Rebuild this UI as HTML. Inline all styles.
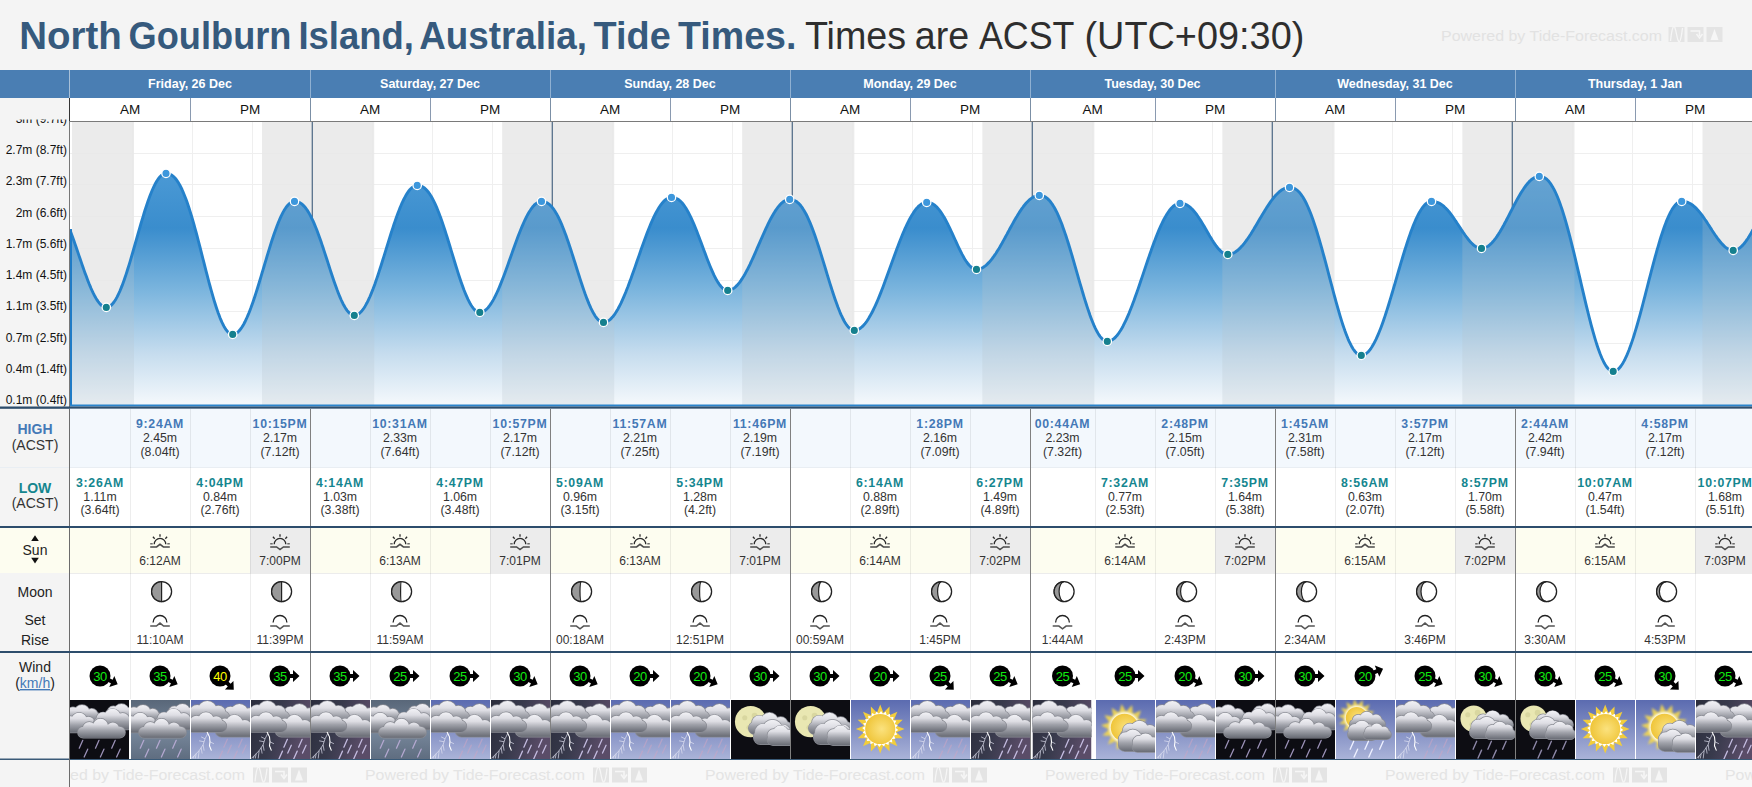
<!DOCTYPE html><html><head><meta charset="utf-8"><style>html,body{margin:0;padding:0;width:1752px;height:787px;overflow:hidden;background:#f4f4f4}svg{display:block;font-family:"Liberation Sans",sans-serif}</style></head><body><svg width="1752" height="787" viewBox="0 0 1752 787"><rect x="0" y="0" width="1752" height="787" fill="#f4f4f4" />
<text x="19.23" y="49" font-size="38" font-weight="bold" fill="#365a7d" textLength="102.56" lengthAdjust="spacingAndGlyphs">North</text>
<text x="128.62" y="49" font-size="38" font-weight="bold" fill="#365a7d" textLength="162.83" lengthAdjust="spacingAndGlyphs">Goulburn</text>
<text x="298.46" y="49" font-size="38" font-weight="bold" fill="#365a7d" textLength="115.48" lengthAdjust="spacingAndGlyphs">Island,</text>
<text x="419.18" y="49" font-size="38" font-weight="bold" fill="#365a7d" textLength="167.78" lengthAdjust="spacingAndGlyphs">Australia,</text>
<text x="593.58" y="49" font-size="38" font-weight="bold" fill="#365a7d" textLength="77.10" lengthAdjust="spacingAndGlyphs">Tide</text>
<text x="678.08" y="49" font-size="38" font-weight="bold" fill="#365a7d" textLength="118.29" lengthAdjust="spacingAndGlyphs">Times.</text>
<text x="804.97" y="49" font-size="38" fill="#2e2e2e" textLength="101.18" lengthAdjust="spacingAndGlyphs">Times</text>
<text x="914.81" y="49" font-size="38" fill="#2e2e2e" textLength="54.26" lengthAdjust="spacingAndGlyphs">are</text>
<text x="978.93" y="49" font-size="38" fill="#2e2e2e" textLength="95.49" lengthAdjust="spacingAndGlyphs">ACST</text>
<text x="1084.45" y="49" font-size="38" fill="#2e2e2e" textLength="219.90" lengthAdjust="spacingAndGlyphs">(UTC+09:30)</text>
<text x="1441" y="41" font-size="15.5" fill="#e2e2e2" textLength="221" lengthAdjust="spacingAndGlyphs">Powered by Tide-Forecast.com</text>
<rect x="0" y="70" width="1752" height="28" fill="#4a7eb3" />
<rect x="70" y="98" width="1682" height="23" fill="#ffffff" />
<text x="190.0" y="88" font-size="12.5" fill="#ffffff" font-weight="bold" text-anchor="middle" >Friday, 26 Dec</text>
<text x="130.0" y="114" font-size="13.5" fill="#111" font-weight="normal" text-anchor="middle" >AM</text>
<text x="250.0" y="114" font-size="13.5" fill="#111" font-weight="normal" text-anchor="middle" >PM</text>
<line x1="190.5" y1="98" x2="190.5" y2="121" stroke="#8a9ab0" stroke-width="1" />
<text x="430.0" y="88" font-size="12.5" fill="#ffffff" font-weight="bold" text-anchor="middle" >Saturday, 27 Dec</text>
<line x1="310.5" y1="70" x2="310.5" y2="98" stroke="#8fb0d2" stroke-width="1" />
<text x="370.0" y="114" font-size="13.5" fill="#111" font-weight="normal" text-anchor="middle" >AM</text>
<text x="490.0" y="114" font-size="13.5" fill="#111" font-weight="normal" text-anchor="middle" >PM</text>
<line x1="310.5" y1="98" x2="310.5" y2="121" stroke="#7b8fa5" stroke-width="1" />
<line x1="430.5" y1="98" x2="430.5" y2="121" stroke="#8a9ab0" stroke-width="1" />
<text x="670.0" y="88" font-size="12.5" fill="#ffffff" font-weight="bold" text-anchor="middle" >Sunday, 28 Dec</text>
<line x1="550.5" y1="70" x2="550.5" y2="98" stroke="#8fb0d2" stroke-width="1" />
<text x="610.0" y="114" font-size="13.5" fill="#111" font-weight="normal" text-anchor="middle" >AM</text>
<text x="730.0" y="114" font-size="13.5" fill="#111" font-weight="normal" text-anchor="middle" >PM</text>
<line x1="550.5" y1="98" x2="550.5" y2="121" stroke="#7b8fa5" stroke-width="1" />
<line x1="670.5" y1="98" x2="670.5" y2="121" stroke="#8a9ab0" stroke-width="1" />
<text x="910.0" y="88" font-size="12.5" fill="#ffffff" font-weight="bold" text-anchor="middle" >Monday, 29 Dec</text>
<line x1="790.5" y1="70" x2="790.5" y2="98" stroke="#8fb0d2" stroke-width="1" />
<text x="850.0" y="114" font-size="13.5" fill="#111" font-weight="normal" text-anchor="middle" >AM</text>
<text x="970.0" y="114" font-size="13.5" fill="#111" font-weight="normal" text-anchor="middle" >PM</text>
<line x1="790.5" y1="98" x2="790.5" y2="121" stroke="#7b8fa5" stroke-width="1" />
<line x1="910.5" y1="98" x2="910.5" y2="121" stroke="#8a9ab0" stroke-width="1" />
<text x="1152.5" y="88" font-size="12.5" fill="#ffffff" font-weight="bold" text-anchor="middle" >Tuesday, 30 Dec</text>
<line x1="1030.5" y1="70" x2="1030.5" y2="98" stroke="#8fb0d2" stroke-width="1" />
<text x="1092.5" y="114" font-size="13.5" fill="#111" font-weight="normal" text-anchor="middle" >AM</text>
<text x="1215.0" y="114" font-size="13.5" fill="#111" font-weight="normal" text-anchor="middle" >PM</text>
<line x1="1030.5" y1="98" x2="1030.5" y2="121" stroke="#7b8fa5" stroke-width="1" />
<line x1="1155.5" y1="98" x2="1155.5" y2="121" stroke="#8a9ab0" stroke-width="1" />
<text x="1395.0" y="88" font-size="12.5" fill="#ffffff" font-weight="bold" text-anchor="middle" >Wednesday, 31 Dec</text>
<line x1="1275.5" y1="70" x2="1275.5" y2="98" stroke="#8fb0d2" stroke-width="1" />
<text x="1335.0" y="114" font-size="13.5" fill="#111" font-weight="normal" text-anchor="middle" >AM</text>
<text x="1455.0" y="114" font-size="13.5" fill="#111" font-weight="normal" text-anchor="middle" >PM</text>
<line x1="1275.5" y1="98" x2="1275.5" y2="121" stroke="#7b8fa5" stroke-width="1" />
<line x1="1395.5" y1="98" x2="1395.5" y2="121" stroke="#8a9ab0" stroke-width="1" />
<text x="1635.0" y="88" font-size="12.5" fill="#ffffff" font-weight="bold" text-anchor="middle" >Thursday, 1 Jan</text>
<line x1="1515.5" y1="70" x2="1515.5" y2="98" stroke="#8fb0d2" stroke-width="1" />
<text x="1575.0" y="114" font-size="13.5" fill="#111" font-weight="normal" text-anchor="middle" >AM</text>
<text x="1695.0" y="114" font-size="13.5" fill="#111" font-weight="normal" text-anchor="middle" >PM</text>
<line x1="1515.5" y1="98" x2="1515.5" y2="121" stroke="#7b8fa5" stroke-width="1" />
<line x1="1635.5" y1="98" x2="1635.5" y2="121" stroke="#8a9ab0" stroke-width="1" />
<line x1="69.5" y1="70" x2="69.5" y2="121" stroke="#a8c0d8" stroke-width="1" />
<line x1="69.5" y1="98" x2="69.5" y2="121" stroke="#333" stroke-width="1" />
<line x1="70" y1="121.5" x2="1752" y2="121.5" stroke="#7a7a7a" stroke-width="1" />
<rect x="70" y="122" width="1682" height="283" fill="#ffffff" />
<line x1="70" y1="153.5" x2="1752" y2="153.5" stroke="#efefef" stroke-width="1" />
<line x1="70" y1="184.5" x2="1752" y2="184.5" stroke="#efefef" stroke-width="1" />
<line x1="70" y1="216.5" x2="1752" y2="216.5" stroke="#efefef" stroke-width="1" />
<line x1="70" y1="248.5" x2="1752" y2="248.5" stroke="#efefef" stroke-width="1" />
<line x1="70" y1="280.5" x2="1752" y2="280.5" stroke="#efefef" stroke-width="1" />
<line x1="70" y1="311.5" x2="1752" y2="311.5" stroke="#efefef" stroke-width="1" />
<line x1="70" y1="343.5" x2="1752" y2="343.5" stroke="#efefef" stroke-width="1" />
<line x1="70" y1="375.5" x2="1752" y2="375.5" stroke="#efefef" stroke-width="1" />
<line x1="132.5" y1="122" x2="132.5" y2="405" stroke="#efefef" stroke-width="1" />
<line x1="192.5" y1="122" x2="192.5" y2="405" stroke="#efefef" stroke-width="1" />
<line x1="252.5" y1="122" x2="252.5" y2="405" stroke="#efefef" stroke-width="1" />
<line x1="372.5" y1="122" x2="372.5" y2="405" stroke="#efefef" stroke-width="1" />
<line x1="432.5" y1="122" x2="432.5" y2="405" stroke="#efefef" stroke-width="1" />
<line x1="492.5" y1="122" x2="492.5" y2="405" stroke="#efefef" stroke-width="1" />
<line x1="612.5" y1="122" x2="612.5" y2="405" stroke="#efefef" stroke-width="1" />
<line x1="672.5" y1="122" x2="672.5" y2="405" stroke="#efefef" stroke-width="1" />
<line x1="732.5" y1="122" x2="732.5" y2="405" stroke="#efefef" stroke-width="1" />
<line x1="852.5" y1="122" x2="852.5" y2="405" stroke="#efefef" stroke-width="1" />
<line x1="912.5" y1="122" x2="912.5" y2="405" stroke="#efefef" stroke-width="1" />
<line x1="972.5" y1="122" x2="972.5" y2="405" stroke="#efefef" stroke-width="1" />
<line x1="1092.5" y1="122" x2="1092.5" y2="405" stroke="#efefef" stroke-width="1" />
<line x1="1152.5" y1="122" x2="1152.5" y2="405" stroke="#efefef" stroke-width="1" />
<line x1="1212.5" y1="122" x2="1212.5" y2="405" stroke="#efefef" stroke-width="1" />
<line x1="1332.5" y1="122" x2="1332.5" y2="405" stroke="#efefef" stroke-width="1" />
<line x1="1392.5" y1="122" x2="1392.5" y2="405" stroke="#efefef" stroke-width="1" />
<line x1="1452.5" y1="122" x2="1452.5" y2="405" stroke="#efefef" stroke-width="1" />
<line x1="1572.5" y1="122" x2="1572.5" y2="405" stroke="#efefef" stroke-width="1" />
<line x1="1632.5" y1="122" x2="1632.5" y2="405" stroke="#efefef" stroke-width="1" />
<line x1="1692.5" y1="122" x2="1692.5" y2="405" stroke="#efefef" stroke-width="1" />
<rect x="72.00" y="122" width="62.00" height="283" fill="#e8e8e8" fill-opacity="0.85"/>
<rect x="262.00" y="122" width="50.00" height="283" fill="#e8e8e8" fill-opacity="0.85"/>
<rect x="312.00" y="122" width="62.17" height="283" fill="#e8e8e8" fill-opacity="0.85"/>
<rect x="502.17" y="122" width="49.83" height="283" fill="#e8e8e8" fill-opacity="0.85"/>
<rect x="552.00" y="122" width="62.17" height="283" fill="#e8e8e8" fill-opacity="0.85"/>
<rect x="742.17" y="122" width="49.83" height="283" fill="#e8e8e8" fill-opacity="0.85"/>
<rect x="792.00" y="122" width="62.33" height="283" fill="#e8e8e8" fill-opacity="0.85"/>
<rect x="982.33" y="122" width="49.67" height="283" fill="#e8e8e8" fill-opacity="0.85"/>
<rect x="1032.00" y="122" width="62.33" height="283" fill="#e8e8e8" fill-opacity="0.85"/>
<rect x="1222.33" y="122" width="49.67" height="283" fill="#e8e8e8" fill-opacity="0.85"/>
<rect x="1272.00" y="122" width="62.50" height="283" fill="#e8e8e8" fill-opacity="0.85"/>
<rect x="1462.33" y="122" width="49.67" height="283" fill="#e8e8e8" fill-opacity="0.85"/>
<rect x="1512.00" y="122" width="62.50" height="283" fill="#e8e8e8" fill-opacity="0.85"/>
<rect x="1702.50" y="122" width="49.50" height="283" fill="#e8e8e8" fill-opacity="0.85"/>
<line x1="312.3" y1="122" x2="312.3" y2="405" stroke="#58718c" stroke-width="1.3" />
<line x1="552.3" y1="122" x2="552.3" y2="405" stroke="#58718c" stroke-width="1.3" />
<line x1="792.3" y1="122" x2="792.3" y2="405" stroke="#58718c" stroke-width="1.3" />
<line x1="1032.3" y1="122" x2="1032.3" y2="405" stroke="#58718c" stroke-width="1.3" />
<line x1="1272.3" y1="122" x2="1272.3" y2="405" stroke="#58718c" stroke-width="1.3" />
<line x1="1512.3" y1="122" x2="1512.3" y2="405" stroke="#58718c" stroke-width="1.3" />
<clipPath id="lc"><rect x="0" y="119.6" width="69" height="287"/></clipPath>
<g clip-path="url(#lc)">
<text x="67" y="122.8" font-size="12" fill="#111" font-weight="normal" text-anchor="end" >3m (9.7ft)</text>
<text x="67" y="154.1" font-size="12" fill="#111" font-weight="normal" text-anchor="end" >2.7m (8.7ft)</text>
<text x="67" y="185.3" font-size="12" fill="#111" font-weight="normal" text-anchor="end" >2.3m (7.7ft)</text>
<text x="67" y="216.6" font-size="12" fill="#111" font-weight="normal" text-anchor="end" >2m (6.6ft)</text>
<text x="67" y="247.8" font-size="12" fill="#111" font-weight="normal" text-anchor="end" >1.7m (5.6ft)</text>
<text x="67" y="279.1" font-size="12" fill="#111" font-weight="normal" text-anchor="end" >1.4m (4.5ft)</text>
<text x="67" y="310.3" font-size="12" fill="#111" font-weight="normal" text-anchor="end" >1.1m (3.5ft)</text>
<text x="67" y="341.6" font-size="12" fill="#111" font-weight="normal" text-anchor="end" >0.7m (2.5ft)</text>
<text x="67" y="372.8" font-size="12" fill="#111" font-weight="normal" text-anchor="end" >0.4m (1.4ft)</text>
<text x="67" y="404.1" font-size="12" fill="#111" font-weight="normal" text-anchor="end" >0.1m (0.4ft)</text>
</g>
<defs><linearGradient id="tg" gradientUnits="userSpaceOnUse" x1="0" y1="122" x2="0" y2="405"><stop offset="0.15" stop-color="#4d9bd6"/><stop offset="0.375" stop-color="#3a8dcd"/><stop offset="0.60" stop-color="#7db6de"/><stop offset="0.816" stop-color="#c5dcee"/><stop offset="0.99" stop-color="#f2f7fb"/></linearGradient><clipPath id="cc"><rect x="70" y="122" width="1682" height="285"/></clipPath></defs>
<g clip-path="url(#cc)">
<path d="M70.0,230.1 L71.0,232.7 L72.0,235.4 L73.0,238.2 L74.0,241.0 L75.0,243.9 L76.0,246.8 L77.0,249.7 L78.0,252.6 L79.0,255.6 L80.0,258.5 L81.0,261.4 L82.0,264.4 L83.0,267.2 L84.0,270.1 L85.0,272.9 L86.0,275.6 L87.0,278.3 L88.0,280.9 L89.0,283.5 L90.0,285.9 L91.0,288.3 L92.0,290.5 L93.0,292.7 L94.0,294.7 L95.0,296.6 L96.0,298.3 L97.0,299.9 L98.0,301.4 L99.0,302.7 L100.0,303.9 L101.0,304.9 L102.0,305.8 L103.0,306.4 L104.0,306.9 L105.0,307.2 L106.0,307.4 L107.0,307.4 L108.0,307.1 L109.0,306.7 L110.0,306.2 L111.0,305.4 L112.0,304.4 L113.0,303.3 L114.0,302.0 L115.0,300.5 L116.0,298.9 L117.0,297.1 L118.0,295.1 L119.0,293.0 L120.0,290.8 L121.0,288.4 L122.0,285.9 L123.0,283.2 L124.0,280.4 L125.0,277.6 L126.0,274.6 L127.0,271.5 L128.0,268.3 L129.0,265.1 L130.0,261.8 L131.0,258.4 L132.0,255.0 L133.0,251.5 L134.0,248.0 L135.0,244.5 L136.0,241.0 L137.0,237.5 L138.0,233.9 L139.0,230.4 L140.0,227.0 L141.0,223.5 L142.0,220.1 L143.0,216.8 L144.0,213.5 L145.0,210.3 L146.0,207.2 L147.0,204.2 L148.0,201.3 L149.0,198.5 L150.0,195.8 L151.0,193.2 L152.0,190.8 L153.0,188.5 L154.0,186.3 L155.0,184.3 L156.0,182.5 L157.0,180.8 L158.0,179.3 L159.0,177.9 L160.0,176.7 L161.0,175.7 L162.0,174.9 L163.0,174.2 L164.0,173.8 L165.0,173.5 L166.0,173.4 L167.0,173.4 L168.0,173.6 L169.0,173.8 L170.0,174.2 L171.0,174.7 L172.0,175.3 L173.0,176.1 L174.0,177.0 L175.0,178.0 L176.0,179.2 L177.0,180.6 L178.0,182.1 L179.0,183.7 L180.0,185.5 L181.0,187.5 L182.0,189.5 L183.0,191.8 L184.0,194.2 L185.0,196.7 L186.0,199.3 L187.0,202.1 L188.0,205.0 L189.0,208.0 L190.0,211.1 L191.0,214.4 L192.0,217.7 L193.0,221.2 L194.0,224.7 L195.0,228.3 L196.0,232.0 L197.0,235.7 L198.0,239.5 L199.0,243.3 L200.0,247.2 L201.0,251.1 L202.0,255.1 L203.0,259.0 L204.0,262.9 L205.0,266.9 L206.0,270.8 L207.0,274.6 L208.0,278.5 L209.0,282.3 L210.0,286.0 L211.0,289.6 L212.0,293.2 L213.0,296.7 L214.0,300.1 L215.0,303.3 L216.0,306.5 L217.0,309.5 L218.0,312.4 L219.0,315.1 L220.0,317.7 L221.0,320.1 L222.0,322.4 L223.0,324.5 L224.0,326.4 L225.0,328.1 L226.0,329.6 L227.0,330.9 L228.0,332.0 L229.0,332.9 L230.0,333.6 L231.0,334.1 L232.0,334.4 L233.0,334.4 L234.0,334.2 L235.0,333.9 L236.0,333.5 L237.0,332.8 L238.0,332.0 L239.0,331.0 L240.0,329.8 L241.0,328.5 L242.0,327.1 L243.0,325.4 L244.0,323.7 L245.0,321.8 L246.0,319.7 L247.0,317.5 L248.0,315.2 L249.0,312.8 L250.0,310.2 L251.0,307.6 L252.0,304.8 L253.0,302.0 L254.0,299.0 L255.0,296.0 L256.0,292.9 L257.0,289.7 L258.0,286.5 L259.0,283.3 L260.0,279.9 L261.0,276.6 L262.0,273.2 L263.0,269.9 L264.0,266.5 L265.0,263.1 L266.0,259.8 L267.0,256.4 L268.0,253.1 L269.0,249.8 L270.0,246.6 L271.0,243.4 L272.0,240.3 L273.0,237.3 L274.0,234.3 L275.0,231.5 L276.0,228.7 L277.0,226.0 L278.0,223.4 L279.0,221.0 L280.0,218.6 L281.0,216.4 L282.0,214.4 L283.0,212.4 L284.0,210.6 L285.0,209.0 L286.0,207.5 L287.0,206.2 L288.0,205.0 L289.0,204.0 L290.0,203.1 L291.0,202.4 L292.0,201.9 L293.0,201.6 L294.0,201.4 L295.0,201.4 L296.0,201.5 L297.0,201.6 L298.0,201.9 L299.0,202.3 L300.0,202.8 L301.0,203.4 L302.0,204.2 L303.0,205.1 L304.0,206.1 L305.0,207.2 L306.0,208.5 L307.0,209.9 L308.0,211.4 L309.0,213.1 L310.0,214.9 L311.0,216.8 L312.0,218.8 L313.0,220.9 L314.0,223.2 L315.0,225.6 L316.0,228.0 L317.0,230.6 L318.0,233.2 L319.0,236.0 L320.0,238.8 L321.0,241.6 L322.0,244.6 L323.0,247.5 L324.0,250.6 L325.0,253.6 L326.0,256.7 L327.0,259.8 L328.0,262.9 L329.0,266.0 L330.0,269.1 L331.0,272.2 L332.0,275.2 L333.0,278.2 L334.0,281.2 L335.0,284.0 L336.0,286.8 L337.0,289.6 L338.0,292.2 L339.0,294.7 L340.0,297.1 L341.0,299.5 L342.0,301.6 L343.0,303.7 L344.0,305.6 L345.0,307.3 L346.0,308.9 L347.0,310.3 L348.0,311.6 L349.0,312.7 L350.0,313.6 L351.0,314.3 L352.0,314.9 L353.0,315.2 L354.0,315.4 L355.0,315.4 L356.0,315.2 L357.0,314.8 L358.0,314.3 L359.0,313.6 L360.0,312.8 L361.0,311.8 L362.0,310.7 L363.0,309.4 L364.0,308.0 L365.0,306.4 L366.0,304.6 L367.0,302.8 L368.0,300.8 L369.0,298.7 L370.0,296.5 L371.0,294.1 L372.0,291.6 L373.0,289.1 L374.0,286.4 L375.0,283.7 L376.0,280.8 L377.0,277.9 L378.0,275.0 L379.0,271.9 L380.0,268.8 L381.0,265.7 L382.0,262.5 L383.0,259.3 L384.0,256.1 L385.0,252.8 L386.0,249.6 L387.0,246.3 L388.0,243.1 L389.0,239.9 L390.0,236.7 L391.0,233.5 L392.0,230.4 L393.0,227.4 L394.0,224.3 L395.0,221.4 L396.0,218.5 L397.0,215.7 L398.0,213.0 L399.0,210.4 L400.0,207.9 L401.0,205.5 L402.0,203.2 L403.0,201.0 L404.0,199.0 L405.0,197.1 L406.0,195.3 L407.0,193.6 L408.0,192.1 L409.0,190.7 L410.0,189.5 L411.0,188.5 L412.0,187.6 L413.0,186.8 L414.0,186.2 L415.0,185.8 L416.0,185.5 L417.0,185.4 L418.0,185.4 L419.0,185.5 L420.0,185.7 L421.0,186.0 L422.0,186.5 L423.0,187.0 L424.0,187.7 L425.0,188.5 L426.0,189.4 L427.0,190.5 L428.0,191.7 L429.0,193.0 L430.0,194.4 L431.0,196.0 L432.0,197.8 L433.0,199.6 L434.0,201.6 L435.0,203.7 L436.0,205.9 L437.0,208.2 L438.0,210.7 L439.0,213.2 L440.0,215.9 L441.0,218.6 L442.0,221.5 L443.0,224.4 L444.0,227.4 L445.0,230.5 L446.0,233.6 L447.0,236.8 L448.0,240.0 L449.0,243.2 L450.0,246.5 L451.0,249.8 L452.0,253.1 L453.0,256.4 L454.0,259.7 L455.0,263.0 L456.0,266.2 L457.0,269.4 L458.0,272.6 L459.0,275.7 L460.0,278.7 L461.0,281.7 L462.0,284.5 L463.0,287.3 L464.0,290.0 L465.0,292.5 L466.0,294.9 L467.0,297.2 L468.0,299.4 L469.0,301.4 L470.0,303.3 L471.0,305.0 L472.0,306.5 L473.0,307.9 L474.0,309.1 L475.0,310.1 L476.0,311.0 L477.0,311.6 L478.0,312.1 L479.0,312.3 L480.0,312.4 L481.0,312.3 L482.0,312.1 L483.0,311.7 L484.0,311.2 L485.0,310.5 L486.0,309.7 L487.0,308.7 L488.0,307.7 L489.0,306.5 L490.0,305.1 L491.0,303.7 L492.0,302.1 L493.0,300.4 L494.0,298.6 L495.0,296.6 L496.0,294.6 L497.0,292.5 L498.0,290.3 L499.0,288.0 L500.0,285.6 L501.0,283.1 L502.0,280.6 L503.0,278.0 L504.0,275.4 L505.0,272.7 L506.0,270.0 L507.0,267.2 L508.0,264.4 L509.0,261.6 L510.0,258.8 L511.0,256.0 L512.0,253.1 L513.0,250.3 L514.0,247.5 L515.0,244.7 L516.0,242.0 L517.0,239.3 L518.0,236.6 L519.0,234.0 L520.0,231.5 L521.0,229.0 L522.0,226.6 L523.0,224.3 L524.0,222.0 L525.0,219.9 L526.0,217.8 L527.0,215.9 L528.0,214.0 L529.0,212.3 L530.0,210.7 L531.0,209.2 L532.0,207.8 L533.0,206.5 L534.0,205.4 L535.0,204.4 L536.0,203.6 L537.0,202.9 L538.0,202.3 L539.0,201.8 L540.0,201.6 L541.0,201.4 L542.0,201.4 L543.0,201.5 L544.0,201.6 L545.0,201.9 L546.0,202.3 L547.0,202.8 L548.0,203.4 L549.0,204.1 L550.0,205.0 L551.0,206.0 L552.0,207.1 L553.0,208.4 L554.0,209.7 L555.0,211.2 L556.0,212.9 L557.0,214.6 L558.0,216.5 L559.0,218.5 L560.0,220.7 L561.0,222.9 L562.0,225.2 L563.0,227.7 L564.0,230.2 L565.0,232.9 L566.0,235.6 L567.0,238.4 L568.0,241.3 L569.0,244.2 L570.0,247.2 L571.0,250.3 L572.0,253.4 L573.0,256.5 L574.0,259.7 L575.0,262.8 L576.0,266.0 L577.0,269.2 L578.0,272.4 L579.0,275.5 L580.0,278.6 L581.0,281.7 L582.0,284.8 L583.0,287.7 L584.0,290.6 L585.0,293.5 L586.0,296.2 L587.0,298.9 L588.0,301.4 L589.0,303.9 L590.0,306.2 L591.0,308.4 L592.0,310.4 L593.0,312.3 L594.0,314.1 L595.0,315.7 L596.0,317.2 L597.0,318.4 L598.0,319.6 L599.0,320.5 L600.0,321.2 L601.0,321.8 L602.0,322.2 L603.0,322.4 L604.0,322.4 L605.0,322.2 L606.0,322.0 L607.0,321.6 L608.0,321.1 L609.0,320.4 L610.0,319.6 L611.0,318.7 L612.0,317.6 L613.0,316.5 L614.0,315.2 L615.0,313.8 L616.0,312.3 L617.0,310.6 L618.0,308.9 L619.0,307.0 L620.0,305.1 L621.0,303.1 L622.0,300.9 L623.0,298.7 L624.0,296.4 L625.0,294.0 L626.0,291.6 L627.0,289.0 L628.0,286.5 L629.0,283.8 L630.0,281.1 L631.0,278.4 L632.0,275.6 L633.0,272.8 L634.0,270.0 L635.0,267.1 L636.0,264.2 L637.0,261.3 L638.0,258.5 L639.0,255.6 L640.0,252.7 L641.0,249.8 L642.0,247.0 L643.0,244.2 L644.0,241.4 L645.0,238.7 L646.0,236.0 L647.0,233.3 L648.0,230.8 L649.0,228.2 L650.0,225.8 L651.0,223.4 L652.0,221.1 L653.0,218.9 L654.0,216.7 L655.0,214.7 L656.0,212.8 L657.0,210.9 L658.0,209.2 L659.0,207.5 L660.0,206.0 L661.0,204.6 L662.0,203.3 L663.0,202.2 L664.0,201.1 L665.0,200.2 L666.0,199.4 L667.0,198.7 L668.0,198.2 L669.0,197.8 L670.0,197.6 L671.0,197.4 L672.0,197.4 L673.0,197.5 L674.0,197.6 L675.0,197.9 L676.0,198.2 L677.0,198.7 L678.0,199.3 L679.0,200.0 L680.0,200.8 L681.0,201.8 L682.0,202.8 L683.0,204.0 L684.0,205.3 L685.0,206.8 L686.0,208.3 L687.0,210.0 L688.0,211.7 L689.0,213.6 L690.0,215.6 L691.0,217.6 L692.0,219.8 L693.0,222.1 L694.0,224.4 L695.0,226.8 L696.0,229.3 L697.0,231.8 L698.0,234.4 L699.0,237.0 L700.0,239.7 L701.0,242.3 L702.0,245.0 L703.0,247.7 L704.0,250.4 L705.0,253.1 L706.0,255.8 L707.0,258.4 L708.0,261.0 L709.0,263.5 L710.0,266.0 L711.0,268.4 L712.0,270.7 L713.0,272.9 L714.0,275.1 L715.0,277.1 L716.0,279.0 L717.0,280.8 L718.0,282.4 L719.0,283.9 L720.0,285.3 L721.0,286.5 L722.0,287.6 L723.0,288.5 L724.0,289.2 L725.0,289.8 L726.0,290.2 L727.0,290.4 L728.0,290.4 L729.0,290.3 L730.0,290.1 L731.0,289.8 L732.0,289.3 L733.0,288.8 L734.0,288.1 L735.0,287.3 L736.0,286.4 L737.0,285.4 L738.0,284.3 L739.0,283.1 L740.0,281.8 L741.0,280.4 L742.0,278.9 L743.0,277.3 L744.0,275.7 L745.0,274.0 L746.0,272.1 L747.0,270.3 L748.0,268.3 L749.0,266.3 L750.0,264.3 L751.0,262.1 L752.0,260.0 L753.0,257.8 L754.0,255.6 L755.0,253.3 L756.0,251.0 L757.0,248.7 L758.0,246.4 L759.0,244.1 L760.0,241.8 L761.0,239.5 L762.0,237.3 L763.0,235.0 L764.0,232.8 L765.0,230.6 L766.0,228.4 L767.0,226.3 L768.0,224.2 L769.0,222.2 L770.0,220.2 L771.0,218.3 L772.0,216.5 L773.0,214.7 L774.0,213.0 L775.0,211.4 L776.0,209.9 L777.0,208.5 L778.0,207.1 L779.0,205.9 L780.0,204.8 L781.0,203.7 L782.0,202.8 L783.0,202.0 L784.0,201.3 L785.0,200.7 L786.0,200.2 L787.0,199.8 L788.0,199.6 L789.0,199.4 L790.0,199.4 L791.0,199.5 L792.0,199.6 L793.0,199.8 L794.0,200.2 L795.0,200.7 L796.0,201.2 L797.0,202.0 L798.0,202.8 L799.0,203.7 L800.0,204.8 L801.0,206.0 L802.0,207.4 L803.0,208.9 L804.0,210.5 L805.0,212.2 L806.0,214.0 L807.0,216.0 L808.0,218.1 L809.0,220.3 L810.0,222.6 L811.0,225.1 L812.0,227.6 L813.0,230.2 L814.0,233.0 L815.0,235.8 L816.0,238.7 L817.0,241.6 L818.0,244.7 L819.0,247.8 L820.0,250.9 L821.0,254.1 L822.0,257.4 L823.0,260.6 L824.0,263.9 L825.0,267.2 L826.0,270.5 L827.0,273.8 L828.0,277.1 L829.0,280.4 L830.0,283.6 L831.0,286.8 L832.0,289.9 L833.0,293.0 L834.0,296.0 L835.0,299.0 L836.0,301.8 L837.0,304.6 L838.0,307.3 L839.0,309.8 L840.0,312.3 L841.0,314.6 L842.0,316.7 L843.0,318.8 L844.0,320.7 L845.0,322.4 L846.0,324.0 L847.0,325.4 L848.0,326.7 L849.0,327.7 L850.0,328.6 L851.0,329.4 L852.0,329.9 L853.0,330.2 L854.0,330.4 L855.0,330.4 L856.0,330.2 L857.0,330.0 L858.0,329.6 L859.0,329.1 L860.0,328.5 L861.0,327.7 L862.0,326.9 L863.0,325.9 L864.0,324.8 L865.0,323.7 L866.0,322.4 L867.0,321.0 L868.0,319.4 L869.0,317.8 L870.0,316.1 L871.0,314.3 L872.0,312.5 L873.0,310.5 L874.0,308.4 L875.0,306.3 L876.0,304.1 L877.0,301.8 L878.0,299.5 L879.0,297.1 L880.0,294.6 L881.0,292.1 L882.0,289.5 L883.0,286.9 L884.0,284.2 L885.0,281.5 L886.0,278.8 L887.0,276.1 L888.0,273.3 L889.0,270.6 L890.0,267.8 L891.0,265.0 L892.0,262.2 L893.0,259.5 L894.0,256.7 L895.0,254.0 L896.0,251.3 L897.0,248.6 L898.0,245.9 L899.0,243.3 L900.0,240.7 L901.0,238.2 L902.0,235.7 L903.0,233.3 L904.0,231.0 L905.0,228.7 L906.0,226.5 L907.0,224.4 L908.0,222.3 L909.0,220.3 L910.0,218.5 L911.0,216.7 L912.0,215.0 L913.0,213.4 L914.0,211.8 L915.0,210.4 L916.0,209.1 L917.0,208.0 L918.0,206.9 L919.0,205.9 L920.0,205.1 L921.0,204.3 L922.0,203.7 L923.0,203.2 L924.0,202.8 L925.0,202.6 L926.0,202.4 L927.0,202.4 L928.0,202.5 L929.0,202.6 L930.0,202.8 L931.0,203.1 L932.0,203.6 L933.0,204.1 L934.0,204.7 L935.0,205.5 L936.0,206.3 L937.0,207.3 L938.0,208.4 L939.0,209.6 L940.0,210.9 L941.0,212.3 L942.0,213.8 L943.0,215.4 L944.0,217.0 L945.0,218.8 L946.0,220.6 L947.0,222.6 L948.0,224.5 L949.0,226.6 L950.0,228.7 L951.0,230.8 L952.0,232.9 L953.0,235.1 L954.0,237.3 L955.0,239.5 L956.0,241.7 L957.0,243.9 L958.0,246.0 L959.0,248.1 L960.0,250.2 L961.0,252.2 L962.0,254.1 L963.0,255.9 L964.0,257.7 L965.0,259.4 L966.0,261.0 L967.0,262.4 L968.0,263.8 L969.0,265.0 L970.0,266.0 L971.0,267.0 L972.0,267.8 L973.0,268.4 L974.0,268.9 L975.0,269.2 L976.0,269.4 L977.0,269.4 L978.0,269.3 L979.0,269.1 L980.0,268.8 L981.0,268.5 L982.0,268.0 L983.0,267.5 L984.0,266.8 L985.0,266.1 L986.0,265.3 L987.0,264.4 L988.0,263.4 L989.0,262.4 L990.0,261.3 L991.0,260.1 L992.0,258.8 L993.0,257.5 L994.0,256.1 L995.0,254.7 L996.0,253.2 L997.0,251.6 L998.0,250.0 L999.0,248.4 L1000.0,246.7 L1001.0,244.9 L1002.0,243.2 L1003.0,241.4 L1004.0,239.6 L1005.0,237.8 L1006.0,235.9 L1007.0,234.1 L1008.0,232.2 L1009.0,230.4 L1010.0,228.5 L1011.0,226.7 L1012.0,224.9 L1013.0,223.1 L1014.0,221.3 L1015.0,219.6 L1016.0,217.8 L1017.0,216.2 L1018.0,214.5 L1019.0,212.9 L1020.0,211.4 L1021.0,209.9 L1022.0,208.4 L1023.0,207.1 L1024.0,205.7 L1025.0,204.5 L1026.0,203.3 L1027.0,202.2 L1028.0,201.2 L1029.0,200.2 L1030.0,199.4 L1031.0,198.6 L1032.0,197.9 L1033.0,197.2 L1034.0,196.7 L1035.0,196.3 L1036.0,195.9 L1037.0,195.7 L1038.0,195.5 L1039.0,195.4 L1040.0,195.4 L1041.0,195.5 L1042.0,195.7 L1043.0,196.0 L1044.0,196.3 L1045.0,196.8 L1046.0,197.5 L1047.0,198.2 L1048.0,199.1 L1049.0,200.1 L1050.0,201.2 L1051.0,202.5 L1052.0,203.9 L1053.0,205.4 L1054.0,207.0 L1055.0,208.8 L1056.0,210.7 L1057.0,212.7 L1058.0,214.9 L1059.0,217.2 L1060.0,219.6 L1061.0,222.0 L1062.0,224.6 L1063.0,227.4 L1064.0,230.2 L1065.0,233.1 L1066.0,236.0 L1067.0,239.1 L1068.0,242.3 L1069.0,245.5 L1070.0,248.7 L1071.0,252.1 L1072.0,255.4 L1073.0,258.9 L1074.0,262.3 L1075.0,265.8 L1076.0,269.3 L1077.0,272.8 L1078.0,276.3 L1079.0,279.8 L1080.0,283.3 L1081.0,286.7 L1082.0,290.1 L1083.0,293.5 L1084.0,296.8 L1085.0,300.1 L1086.0,303.3 L1087.0,306.4 L1088.0,309.4 L1089.0,312.3 L1090.0,315.2 L1091.0,317.9 L1092.0,320.5 L1093.0,323.0 L1094.0,325.4 L1095.0,327.6 L1096.0,329.6 L1097.0,331.6 L1098.0,333.3 L1099.0,334.9 L1100.0,336.4 L1101.0,337.6 L1102.0,338.7 L1103.0,339.6 L1104.0,340.3 L1105.0,340.9 L1106.0,341.2 L1107.0,341.4 L1108.0,341.4 L1109.0,341.2 L1110.0,340.9 L1111.0,340.5 L1112.0,340.0 L1113.0,339.3 L1114.0,338.6 L1115.0,337.6 L1116.0,336.6 L1117.0,335.5 L1118.0,334.2 L1119.0,332.8 L1120.0,331.3 L1121.0,329.7 L1122.0,328.0 L1123.0,326.2 L1124.0,324.2 L1125.0,322.2 L1126.0,320.1 L1127.0,317.9 L1128.0,315.6 L1129.0,313.3 L1130.0,310.8 L1131.0,308.3 L1132.0,305.7 L1133.0,303.1 L1134.0,300.4 L1135.0,297.6 L1136.0,294.8 L1137.0,292.0 L1138.0,289.1 L1139.0,286.2 L1140.0,283.3 L1141.0,280.3 L1142.0,277.4 L1143.0,274.4 L1144.0,271.4 L1145.0,268.4 L1146.0,265.4 L1147.0,262.5 L1148.0,259.5 L1149.0,256.6 L1150.0,253.7 L1151.0,250.9 L1152.0,248.1 L1153.0,245.3 L1154.0,242.6 L1155.0,239.9 L1156.0,237.3 L1157.0,234.8 L1158.0,232.3 L1159.0,229.9 L1160.0,227.6 L1161.0,225.4 L1162.0,223.3 L1163.0,221.2 L1164.0,219.3 L1165.0,217.4 L1166.0,215.7 L1167.0,214.0 L1168.0,212.5 L1169.0,211.1 L1170.0,209.7 L1171.0,208.6 L1172.0,207.5 L1173.0,206.5 L1174.0,205.7 L1175.0,205.0 L1176.0,204.4 L1177.0,204.0 L1178.0,203.7 L1179.0,203.5 L1180.0,203.4 L1181.0,203.4 L1182.0,203.5 L1183.0,203.7 L1184.0,203.9 L1185.0,204.2 L1186.0,204.6 L1187.0,205.1 L1188.0,205.7 L1189.0,206.4 L1190.0,207.2 L1191.0,208.1 L1192.0,209.0 L1193.0,210.1 L1194.0,211.2 L1195.0,212.4 L1196.0,213.7 L1197.0,215.0 L1198.0,216.5 L1199.0,218.0 L1200.0,219.5 L1201.0,221.1 L1202.0,222.7 L1203.0,224.4 L1204.0,226.1 L1205.0,227.8 L1206.0,229.6 L1207.0,231.3 L1208.0,233.0 L1209.0,234.8 L1210.0,236.5 L1211.0,238.1 L1212.0,239.8 L1213.0,241.3 L1214.0,242.9 L1215.0,244.3 L1216.0,245.7 L1217.0,247.0 L1218.0,248.3 L1219.0,249.4 L1220.0,250.4 L1221.0,251.4 L1222.0,252.2 L1223.0,252.9 L1224.0,253.4 L1225.0,253.9 L1226.0,254.2 L1227.0,254.4 L1228.0,254.4 L1229.0,254.3 L1230.0,254.2 L1231.0,254.0 L1232.0,253.6 L1233.0,253.2 L1234.0,252.8 L1235.0,252.2 L1236.0,251.5 L1237.0,250.8 L1238.0,250.0 L1239.0,249.1 L1240.0,248.2 L1241.0,247.1 L1242.0,246.0 L1243.0,244.9 L1244.0,243.7 L1245.0,242.4 L1246.0,241.0 L1247.0,239.7 L1248.0,238.2 L1249.0,236.7 L1250.0,235.2 L1251.0,233.7 L1252.0,232.1 L1253.0,230.4 L1254.0,228.8 L1255.0,227.1 L1256.0,225.4 L1257.0,223.7 L1258.0,222.0 L1259.0,220.3 L1260.0,218.6 L1261.0,216.9 L1262.0,215.2 L1263.0,213.6 L1264.0,211.9 L1265.0,210.3 L1266.0,208.7 L1267.0,207.1 L1268.0,205.6 L1269.0,204.1 L1270.0,202.6 L1271.0,201.2 L1272.0,199.9 L1273.0,198.6 L1274.0,197.3 L1275.0,196.1 L1276.0,195.0 L1277.0,194.0 L1278.0,193.0 L1279.0,192.1 L1280.0,191.2 L1281.0,190.5 L1282.0,189.8 L1283.0,189.2 L1284.0,188.7 L1285.0,188.3 L1286.0,187.9 L1287.0,187.7 L1288.0,187.5 L1289.0,187.4 L1290.0,187.4 L1291.0,187.5 L1292.0,187.6 L1293.0,187.9 L1294.0,188.3 L1295.0,188.8 L1296.0,189.4 L1297.0,190.1 L1298.0,191.0 L1299.0,192.0 L1300.0,193.1 L1301.0,194.4 L1302.0,195.8 L1303.0,197.3 L1304.0,199.0 L1305.0,200.8 L1306.0,202.7 L1307.0,204.8 L1308.0,207.0 L1309.0,209.3 L1310.0,211.7 L1311.0,214.3 L1312.0,217.0 L1313.0,219.8 L1314.0,222.7 L1315.0,225.7 L1316.0,228.8 L1317.0,232.0 L1318.0,235.3 L1319.0,238.6 L1320.0,242.1 L1321.0,245.6 L1322.0,249.1 L1323.0,252.8 L1324.0,256.5 L1325.0,260.2 L1326.0,263.9 L1327.0,267.7 L1328.0,271.5 L1329.0,275.3 L1330.0,279.1 L1331.0,283.0 L1332.0,286.7 L1333.0,290.5 L1334.0,294.3 L1335.0,298.0 L1336.0,301.6 L1337.0,305.2 L1338.0,308.7 L1339.0,312.2 L1340.0,315.6 L1341.0,318.9 L1342.0,322.1 L1343.0,325.2 L1344.0,328.1 L1345.0,331.0 L1346.0,333.7 L1347.0,336.3 L1348.0,338.8 L1349.0,341.1 L1350.0,343.2 L1351.0,345.2 L1352.0,347.1 L1353.0,348.7 L1354.0,350.2 L1355.0,351.5 L1356.0,352.6 L1357.0,353.6 L1358.0,354.3 L1359.0,354.9 L1360.0,355.2 L1361.0,355.4 L1362.0,355.4 L1363.0,355.2 L1364.0,354.9 L1365.0,354.4 L1366.0,353.7 L1367.0,352.9 L1368.0,352.0 L1369.0,350.9 L1370.0,349.7 L1371.0,348.3 L1372.0,346.8 L1373.0,345.1 L1374.0,343.3 L1375.0,341.4 L1376.0,339.4 L1377.0,337.2 L1378.0,334.9 L1379.0,332.5 L1380.0,330.0 L1381.0,327.4 L1382.0,324.7 L1383.0,321.9 L1384.0,319.0 L1385.0,316.1 L1386.0,313.0 L1387.0,309.9 L1388.0,306.7 L1389.0,303.5 L1390.0,300.2 L1391.0,296.9 L1392.0,293.5 L1393.0,290.1 L1394.0,286.7 L1395.0,283.3 L1396.0,279.8 L1397.0,276.4 L1398.0,272.9 L1399.0,269.5 L1400.0,266.1 L1401.0,262.7 L1402.0,259.3 L1403.0,256.0 L1404.0,252.8 L1405.0,249.5 L1406.0,246.4 L1407.0,243.3 L1408.0,240.2 L1409.0,237.3 L1410.0,234.4 L1411.0,231.6 L1412.0,228.9 L1413.0,226.3 L1414.0,223.8 L1415.0,221.5 L1416.0,219.2 L1417.0,217.1 L1418.0,215.0 L1419.0,213.1 L1420.0,211.4 L1421.0,209.8 L1422.0,208.3 L1423.0,206.9 L1424.0,205.7 L1425.0,204.6 L1426.0,203.7 L1427.0,203.0 L1428.0,202.3 L1429.0,201.9 L1430.0,201.6 L1431.0,201.4 L1432.0,201.4 L1433.0,201.4 L1434.0,201.5 L1435.0,201.7 L1436.0,202.0 L1437.0,202.3 L1438.0,202.6 L1439.0,203.1 L1440.0,203.6 L1441.0,204.2 L1442.0,204.9 L1443.0,205.7 L1444.0,206.5 L1445.0,207.5 L1446.0,208.4 L1447.0,209.5 L1448.0,210.6 L1449.0,211.8 L1450.0,213.0 L1451.0,214.3 L1452.0,215.7 L1453.0,217.1 L1454.0,218.5 L1455.0,220.0 L1456.0,221.4 L1457.0,223.0 L1458.0,224.5 L1459.0,226.0 L1460.0,227.5 L1461.0,229.1 L1462.0,230.6 L1463.0,232.1 L1464.0,233.5 L1465.0,235.0 L1466.0,236.4 L1467.0,237.7 L1468.0,239.0 L1469.0,240.3 L1470.0,241.4 L1471.0,242.5 L1472.0,243.5 L1473.0,244.5 L1474.0,245.3 L1475.0,246.1 L1476.0,246.7 L1477.0,247.3 L1478.0,247.7 L1479.0,248.0 L1480.0,248.3 L1481.0,248.4 L1482.0,248.4 L1483.0,248.3 L1484.0,248.1 L1485.0,247.8 L1486.0,247.3 L1487.0,246.8 L1488.0,246.2 L1489.0,245.5 L1490.0,244.6 L1491.0,243.7 L1492.0,242.7 L1493.0,241.6 L1494.0,240.4 L1495.0,239.1 L1496.0,237.8 L1497.0,236.4 L1498.0,234.9 L1499.0,233.3 L1500.0,231.7 L1501.0,230.0 L1502.0,228.3 L1503.0,226.5 L1504.0,224.7 L1505.0,222.8 L1506.0,221.0 L1507.0,219.0 L1508.0,217.1 L1509.0,215.2 L1510.0,213.2 L1511.0,211.3 L1512.0,209.3 L1513.0,207.4 L1514.0,205.4 L1515.0,203.5 L1516.0,201.6 L1517.0,199.8 L1518.0,198.0 L1519.0,196.2 L1520.0,194.5 L1521.0,192.8 L1522.0,191.2 L1523.0,189.7 L1524.0,188.2 L1525.0,186.8 L1526.0,185.4 L1527.0,184.2 L1528.0,183.0 L1529.0,181.9 L1530.0,180.9 L1531.0,180.0 L1532.0,179.2 L1533.0,178.5 L1534.0,177.9 L1535.0,177.4 L1536.0,177.0 L1537.0,176.7 L1538.0,176.5 L1539.0,176.4 L1540.0,176.4 L1541.0,176.5 L1542.0,176.7 L1543.0,177.0 L1544.0,177.4 L1545.0,178.0 L1546.0,178.7 L1547.0,179.5 L1548.0,180.5 L1549.0,181.6 L1550.0,182.9 L1551.0,184.3 L1552.0,185.9 L1553.0,187.6 L1554.0,189.4 L1555.0,191.4 L1556.0,193.5 L1557.0,195.8 L1558.0,198.3 L1559.0,200.8 L1560.0,203.5 L1561.0,206.4 L1562.0,209.3 L1563.0,212.4 L1564.0,215.6 L1565.0,219.0 L1566.0,222.4 L1567.0,226.0 L1568.0,229.6 L1569.0,233.4 L1570.0,237.2 L1571.0,241.1 L1572.0,245.1 L1573.0,249.1 L1574.0,253.2 L1575.0,257.4 L1576.0,261.6 L1577.0,265.9 L1578.0,270.1 L1579.0,274.4 L1580.0,278.7 L1581.0,283.0 L1582.0,287.3 L1583.0,291.6 L1584.0,295.9 L1585.0,300.1 L1586.0,304.3 L1587.0,308.4 L1588.0,312.5 L1589.0,316.5 L1590.0,320.4 L1591.0,324.3 L1592.0,328.0 L1593.0,331.6 L1594.0,335.2 L1595.0,338.6 L1596.0,341.9 L1597.0,345.0 L1598.0,348.0 L1599.0,350.8 L1600.0,353.5 L1601.0,356.0 L1602.0,358.4 L1603.0,360.5 L1604.0,362.5 L1605.0,364.3 L1606.0,365.9 L1607.0,367.3 L1608.0,368.5 L1609.0,369.5 L1610.0,370.3 L1611.0,370.9 L1612.0,371.3 L1613.0,371.4 L1614.0,371.3 L1615.0,371.1 L1616.0,370.7 L1617.0,370.1 L1618.0,369.3 L1619.0,368.4 L1620.0,367.3 L1621.0,366.0 L1622.0,364.5 L1623.0,362.9 L1624.0,361.1 L1625.0,359.2 L1626.0,357.1 L1627.0,354.9 L1628.0,352.5 L1629.0,350.0 L1630.0,347.3 L1631.0,344.5 L1632.0,341.6 L1633.0,338.6 L1634.0,335.5 L1635.0,332.2 L1636.0,328.9 L1637.0,325.5 L1638.0,322.0 L1639.0,318.4 L1640.0,314.8 L1641.0,311.1 L1642.0,307.3 L1643.0,303.5 L1644.0,299.7 L1645.0,295.8 L1646.0,291.9 L1647.0,288.0 L1648.0,284.1 L1649.0,280.2 L1650.0,276.4 L1651.0,272.5 L1652.0,268.7 L1653.0,264.9 L1654.0,261.1 L1655.0,257.4 L1656.0,253.8 L1657.0,250.2 L1658.0,246.8 L1659.0,243.3 L1660.0,240.0 L1661.0,236.8 L1662.0,233.7 L1663.0,230.7 L1664.0,227.8 L1665.0,225.1 L1666.0,222.4 L1667.0,219.9 L1668.0,217.6 L1669.0,215.4 L1670.0,213.3 L1671.0,211.4 L1672.0,209.6 L1673.0,208.0 L1674.0,206.6 L1675.0,205.3 L1676.0,204.3 L1677.0,203.3 L1678.0,202.6 L1679.0,202.0 L1680.0,201.6 L1681.0,201.4 L1682.0,201.4 L1683.0,201.4 L1684.0,201.5 L1685.0,201.7 L1686.0,201.9 L1687.0,202.2 L1688.0,202.5 L1689.0,203.0 L1690.0,203.5 L1691.0,204.1 L1692.0,204.7 L1693.0,205.5 L1694.0,206.3 L1695.0,207.2 L1696.0,208.1 L1697.0,209.2 L1698.0,210.3 L1699.0,211.4 L1700.0,212.6 L1701.0,213.9 L1702.0,215.2 L1703.0,216.6 L1704.0,218.0 L1705.0,219.5 L1706.0,220.9 L1707.0,222.4 L1708.0,224.0 L1709.0,225.5 L1710.0,227.1 L1711.0,228.6 L1712.0,230.2 L1713.0,231.7 L1714.0,233.2 L1715.0,234.7 L1716.0,236.2 L1717.0,237.6 L1718.0,239.0 L1719.0,240.3 L1720.0,241.5 L1721.0,242.7 L1722.0,243.9 L1723.0,244.9 L1724.0,245.9 L1725.0,246.8 L1726.0,247.6 L1727.0,248.3 L1728.0,248.9 L1729.0,249.4 L1730.0,249.8 L1731.0,250.1 L1732.0,250.3 L1733.0,250.4 L1734.0,250.4 L1735.0,250.2 L1736.0,249.9 L1737.0,249.5 L1738.0,249.0 L1739.0,248.4 L1740.0,247.7 L1741.0,246.8 L1742.0,245.9 L1743.0,244.9 L1744.0,243.7 L1745.0,242.5 L1746.0,241.1 L1747.0,239.7 L1748.0,238.2 L1749.0,236.6 L1750.0,234.9 L1751.0,233.2 L1752.0,231.4 L1753.0,229.5 L1753.0,405 L70,405 L70,230.1 Z" fill="url(#tg)" stroke="none"/>
<clipPath id="ac"><path d="M70.0,230.1 L71.0,232.7 L72.0,235.4 L73.0,238.2 L74.0,241.0 L75.0,243.9 L76.0,246.8 L77.0,249.7 L78.0,252.6 L79.0,255.6 L80.0,258.5 L81.0,261.4 L82.0,264.4 L83.0,267.2 L84.0,270.1 L85.0,272.9 L86.0,275.6 L87.0,278.3 L88.0,280.9 L89.0,283.5 L90.0,285.9 L91.0,288.3 L92.0,290.5 L93.0,292.7 L94.0,294.7 L95.0,296.6 L96.0,298.3 L97.0,299.9 L98.0,301.4 L99.0,302.7 L100.0,303.9 L101.0,304.9 L102.0,305.8 L103.0,306.4 L104.0,306.9 L105.0,307.2 L106.0,307.4 L107.0,307.4 L108.0,307.1 L109.0,306.7 L110.0,306.2 L111.0,305.4 L112.0,304.4 L113.0,303.3 L114.0,302.0 L115.0,300.5 L116.0,298.9 L117.0,297.1 L118.0,295.1 L119.0,293.0 L120.0,290.8 L121.0,288.4 L122.0,285.9 L123.0,283.2 L124.0,280.4 L125.0,277.6 L126.0,274.6 L127.0,271.5 L128.0,268.3 L129.0,265.1 L130.0,261.8 L131.0,258.4 L132.0,255.0 L133.0,251.5 L134.0,248.0 L135.0,244.5 L136.0,241.0 L137.0,237.5 L138.0,233.9 L139.0,230.4 L140.0,227.0 L141.0,223.5 L142.0,220.1 L143.0,216.8 L144.0,213.5 L145.0,210.3 L146.0,207.2 L147.0,204.2 L148.0,201.3 L149.0,198.5 L150.0,195.8 L151.0,193.2 L152.0,190.8 L153.0,188.5 L154.0,186.3 L155.0,184.3 L156.0,182.5 L157.0,180.8 L158.0,179.3 L159.0,177.9 L160.0,176.7 L161.0,175.7 L162.0,174.9 L163.0,174.2 L164.0,173.8 L165.0,173.5 L166.0,173.4 L167.0,173.4 L168.0,173.6 L169.0,173.8 L170.0,174.2 L171.0,174.7 L172.0,175.3 L173.0,176.1 L174.0,177.0 L175.0,178.0 L176.0,179.2 L177.0,180.6 L178.0,182.1 L179.0,183.7 L180.0,185.5 L181.0,187.5 L182.0,189.5 L183.0,191.8 L184.0,194.2 L185.0,196.7 L186.0,199.3 L187.0,202.1 L188.0,205.0 L189.0,208.0 L190.0,211.1 L191.0,214.4 L192.0,217.7 L193.0,221.2 L194.0,224.7 L195.0,228.3 L196.0,232.0 L197.0,235.7 L198.0,239.5 L199.0,243.3 L200.0,247.2 L201.0,251.1 L202.0,255.1 L203.0,259.0 L204.0,262.9 L205.0,266.9 L206.0,270.8 L207.0,274.6 L208.0,278.5 L209.0,282.3 L210.0,286.0 L211.0,289.6 L212.0,293.2 L213.0,296.7 L214.0,300.1 L215.0,303.3 L216.0,306.5 L217.0,309.5 L218.0,312.4 L219.0,315.1 L220.0,317.7 L221.0,320.1 L222.0,322.4 L223.0,324.5 L224.0,326.4 L225.0,328.1 L226.0,329.6 L227.0,330.9 L228.0,332.0 L229.0,332.9 L230.0,333.6 L231.0,334.1 L232.0,334.4 L233.0,334.4 L234.0,334.2 L235.0,333.9 L236.0,333.5 L237.0,332.8 L238.0,332.0 L239.0,331.0 L240.0,329.8 L241.0,328.5 L242.0,327.1 L243.0,325.4 L244.0,323.7 L245.0,321.8 L246.0,319.7 L247.0,317.5 L248.0,315.2 L249.0,312.8 L250.0,310.2 L251.0,307.6 L252.0,304.8 L253.0,302.0 L254.0,299.0 L255.0,296.0 L256.0,292.9 L257.0,289.7 L258.0,286.5 L259.0,283.3 L260.0,279.9 L261.0,276.6 L262.0,273.2 L263.0,269.9 L264.0,266.5 L265.0,263.1 L266.0,259.8 L267.0,256.4 L268.0,253.1 L269.0,249.8 L270.0,246.6 L271.0,243.4 L272.0,240.3 L273.0,237.3 L274.0,234.3 L275.0,231.5 L276.0,228.7 L277.0,226.0 L278.0,223.4 L279.0,221.0 L280.0,218.6 L281.0,216.4 L282.0,214.4 L283.0,212.4 L284.0,210.6 L285.0,209.0 L286.0,207.5 L287.0,206.2 L288.0,205.0 L289.0,204.0 L290.0,203.1 L291.0,202.4 L292.0,201.9 L293.0,201.6 L294.0,201.4 L295.0,201.4 L296.0,201.5 L297.0,201.6 L298.0,201.9 L299.0,202.3 L300.0,202.8 L301.0,203.4 L302.0,204.2 L303.0,205.1 L304.0,206.1 L305.0,207.2 L306.0,208.5 L307.0,209.9 L308.0,211.4 L309.0,213.1 L310.0,214.9 L311.0,216.8 L312.0,218.8 L313.0,220.9 L314.0,223.2 L315.0,225.6 L316.0,228.0 L317.0,230.6 L318.0,233.2 L319.0,236.0 L320.0,238.8 L321.0,241.6 L322.0,244.6 L323.0,247.5 L324.0,250.6 L325.0,253.6 L326.0,256.7 L327.0,259.8 L328.0,262.9 L329.0,266.0 L330.0,269.1 L331.0,272.2 L332.0,275.2 L333.0,278.2 L334.0,281.2 L335.0,284.0 L336.0,286.8 L337.0,289.6 L338.0,292.2 L339.0,294.7 L340.0,297.1 L341.0,299.5 L342.0,301.6 L343.0,303.7 L344.0,305.6 L345.0,307.3 L346.0,308.9 L347.0,310.3 L348.0,311.6 L349.0,312.7 L350.0,313.6 L351.0,314.3 L352.0,314.9 L353.0,315.2 L354.0,315.4 L355.0,315.4 L356.0,315.2 L357.0,314.8 L358.0,314.3 L359.0,313.6 L360.0,312.8 L361.0,311.8 L362.0,310.7 L363.0,309.4 L364.0,308.0 L365.0,306.4 L366.0,304.6 L367.0,302.8 L368.0,300.8 L369.0,298.7 L370.0,296.5 L371.0,294.1 L372.0,291.6 L373.0,289.1 L374.0,286.4 L375.0,283.7 L376.0,280.8 L377.0,277.9 L378.0,275.0 L379.0,271.9 L380.0,268.8 L381.0,265.7 L382.0,262.5 L383.0,259.3 L384.0,256.1 L385.0,252.8 L386.0,249.6 L387.0,246.3 L388.0,243.1 L389.0,239.9 L390.0,236.7 L391.0,233.5 L392.0,230.4 L393.0,227.4 L394.0,224.3 L395.0,221.4 L396.0,218.5 L397.0,215.7 L398.0,213.0 L399.0,210.4 L400.0,207.9 L401.0,205.5 L402.0,203.2 L403.0,201.0 L404.0,199.0 L405.0,197.1 L406.0,195.3 L407.0,193.6 L408.0,192.1 L409.0,190.7 L410.0,189.5 L411.0,188.5 L412.0,187.6 L413.0,186.8 L414.0,186.2 L415.0,185.8 L416.0,185.5 L417.0,185.4 L418.0,185.4 L419.0,185.5 L420.0,185.7 L421.0,186.0 L422.0,186.5 L423.0,187.0 L424.0,187.7 L425.0,188.5 L426.0,189.4 L427.0,190.5 L428.0,191.7 L429.0,193.0 L430.0,194.4 L431.0,196.0 L432.0,197.8 L433.0,199.6 L434.0,201.6 L435.0,203.7 L436.0,205.9 L437.0,208.2 L438.0,210.7 L439.0,213.2 L440.0,215.9 L441.0,218.6 L442.0,221.5 L443.0,224.4 L444.0,227.4 L445.0,230.5 L446.0,233.6 L447.0,236.8 L448.0,240.0 L449.0,243.2 L450.0,246.5 L451.0,249.8 L452.0,253.1 L453.0,256.4 L454.0,259.7 L455.0,263.0 L456.0,266.2 L457.0,269.4 L458.0,272.6 L459.0,275.7 L460.0,278.7 L461.0,281.7 L462.0,284.5 L463.0,287.3 L464.0,290.0 L465.0,292.5 L466.0,294.9 L467.0,297.2 L468.0,299.4 L469.0,301.4 L470.0,303.3 L471.0,305.0 L472.0,306.5 L473.0,307.9 L474.0,309.1 L475.0,310.1 L476.0,311.0 L477.0,311.6 L478.0,312.1 L479.0,312.3 L480.0,312.4 L481.0,312.3 L482.0,312.1 L483.0,311.7 L484.0,311.2 L485.0,310.5 L486.0,309.7 L487.0,308.7 L488.0,307.7 L489.0,306.5 L490.0,305.1 L491.0,303.7 L492.0,302.1 L493.0,300.4 L494.0,298.6 L495.0,296.6 L496.0,294.6 L497.0,292.5 L498.0,290.3 L499.0,288.0 L500.0,285.6 L501.0,283.1 L502.0,280.6 L503.0,278.0 L504.0,275.4 L505.0,272.7 L506.0,270.0 L507.0,267.2 L508.0,264.4 L509.0,261.6 L510.0,258.8 L511.0,256.0 L512.0,253.1 L513.0,250.3 L514.0,247.5 L515.0,244.7 L516.0,242.0 L517.0,239.3 L518.0,236.6 L519.0,234.0 L520.0,231.5 L521.0,229.0 L522.0,226.6 L523.0,224.3 L524.0,222.0 L525.0,219.9 L526.0,217.8 L527.0,215.9 L528.0,214.0 L529.0,212.3 L530.0,210.7 L531.0,209.2 L532.0,207.8 L533.0,206.5 L534.0,205.4 L535.0,204.4 L536.0,203.6 L537.0,202.9 L538.0,202.3 L539.0,201.8 L540.0,201.6 L541.0,201.4 L542.0,201.4 L543.0,201.5 L544.0,201.6 L545.0,201.9 L546.0,202.3 L547.0,202.8 L548.0,203.4 L549.0,204.1 L550.0,205.0 L551.0,206.0 L552.0,207.1 L553.0,208.4 L554.0,209.7 L555.0,211.2 L556.0,212.9 L557.0,214.6 L558.0,216.5 L559.0,218.5 L560.0,220.7 L561.0,222.9 L562.0,225.2 L563.0,227.7 L564.0,230.2 L565.0,232.9 L566.0,235.6 L567.0,238.4 L568.0,241.3 L569.0,244.2 L570.0,247.2 L571.0,250.3 L572.0,253.4 L573.0,256.5 L574.0,259.7 L575.0,262.8 L576.0,266.0 L577.0,269.2 L578.0,272.4 L579.0,275.5 L580.0,278.6 L581.0,281.7 L582.0,284.8 L583.0,287.7 L584.0,290.6 L585.0,293.5 L586.0,296.2 L587.0,298.9 L588.0,301.4 L589.0,303.9 L590.0,306.2 L591.0,308.4 L592.0,310.4 L593.0,312.3 L594.0,314.1 L595.0,315.7 L596.0,317.2 L597.0,318.4 L598.0,319.6 L599.0,320.5 L600.0,321.2 L601.0,321.8 L602.0,322.2 L603.0,322.4 L604.0,322.4 L605.0,322.2 L606.0,322.0 L607.0,321.6 L608.0,321.1 L609.0,320.4 L610.0,319.6 L611.0,318.7 L612.0,317.6 L613.0,316.5 L614.0,315.2 L615.0,313.8 L616.0,312.3 L617.0,310.6 L618.0,308.9 L619.0,307.0 L620.0,305.1 L621.0,303.1 L622.0,300.9 L623.0,298.7 L624.0,296.4 L625.0,294.0 L626.0,291.6 L627.0,289.0 L628.0,286.5 L629.0,283.8 L630.0,281.1 L631.0,278.4 L632.0,275.6 L633.0,272.8 L634.0,270.0 L635.0,267.1 L636.0,264.2 L637.0,261.3 L638.0,258.5 L639.0,255.6 L640.0,252.7 L641.0,249.8 L642.0,247.0 L643.0,244.2 L644.0,241.4 L645.0,238.7 L646.0,236.0 L647.0,233.3 L648.0,230.8 L649.0,228.2 L650.0,225.8 L651.0,223.4 L652.0,221.1 L653.0,218.9 L654.0,216.7 L655.0,214.7 L656.0,212.8 L657.0,210.9 L658.0,209.2 L659.0,207.5 L660.0,206.0 L661.0,204.6 L662.0,203.3 L663.0,202.2 L664.0,201.1 L665.0,200.2 L666.0,199.4 L667.0,198.7 L668.0,198.2 L669.0,197.8 L670.0,197.6 L671.0,197.4 L672.0,197.4 L673.0,197.5 L674.0,197.6 L675.0,197.9 L676.0,198.2 L677.0,198.7 L678.0,199.3 L679.0,200.0 L680.0,200.8 L681.0,201.8 L682.0,202.8 L683.0,204.0 L684.0,205.3 L685.0,206.8 L686.0,208.3 L687.0,210.0 L688.0,211.7 L689.0,213.6 L690.0,215.6 L691.0,217.6 L692.0,219.8 L693.0,222.1 L694.0,224.4 L695.0,226.8 L696.0,229.3 L697.0,231.8 L698.0,234.4 L699.0,237.0 L700.0,239.7 L701.0,242.3 L702.0,245.0 L703.0,247.7 L704.0,250.4 L705.0,253.1 L706.0,255.8 L707.0,258.4 L708.0,261.0 L709.0,263.5 L710.0,266.0 L711.0,268.4 L712.0,270.7 L713.0,272.9 L714.0,275.1 L715.0,277.1 L716.0,279.0 L717.0,280.8 L718.0,282.4 L719.0,283.9 L720.0,285.3 L721.0,286.5 L722.0,287.6 L723.0,288.5 L724.0,289.2 L725.0,289.8 L726.0,290.2 L727.0,290.4 L728.0,290.4 L729.0,290.3 L730.0,290.1 L731.0,289.8 L732.0,289.3 L733.0,288.8 L734.0,288.1 L735.0,287.3 L736.0,286.4 L737.0,285.4 L738.0,284.3 L739.0,283.1 L740.0,281.8 L741.0,280.4 L742.0,278.9 L743.0,277.3 L744.0,275.7 L745.0,274.0 L746.0,272.1 L747.0,270.3 L748.0,268.3 L749.0,266.3 L750.0,264.3 L751.0,262.1 L752.0,260.0 L753.0,257.8 L754.0,255.6 L755.0,253.3 L756.0,251.0 L757.0,248.7 L758.0,246.4 L759.0,244.1 L760.0,241.8 L761.0,239.5 L762.0,237.3 L763.0,235.0 L764.0,232.8 L765.0,230.6 L766.0,228.4 L767.0,226.3 L768.0,224.2 L769.0,222.2 L770.0,220.2 L771.0,218.3 L772.0,216.5 L773.0,214.7 L774.0,213.0 L775.0,211.4 L776.0,209.9 L777.0,208.5 L778.0,207.1 L779.0,205.9 L780.0,204.8 L781.0,203.7 L782.0,202.8 L783.0,202.0 L784.0,201.3 L785.0,200.7 L786.0,200.2 L787.0,199.8 L788.0,199.6 L789.0,199.4 L790.0,199.4 L791.0,199.5 L792.0,199.6 L793.0,199.8 L794.0,200.2 L795.0,200.7 L796.0,201.2 L797.0,202.0 L798.0,202.8 L799.0,203.7 L800.0,204.8 L801.0,206.0 L802.0,207.4 L803.0,208.9 L804.0,210.5 L805.0,212.2 L806.0,214.0 L807.0,216.0 L808.0,218.1 L809.0,220.3 L810.0,222.6 L811.0,225.1 L812.0,227.6 L813.0,230.2 L814.0,233.0 L815.0,235.8 L816.0,238.7 L817.0,241.6 L818.0,244.7 L819.0,247.8 L820.0,250.9 L821.0,254.1 L822.0,257.4 L823.0,260.6 L824.0,263.9 L825.0,267.2 L826.0,270.5 L827.0,273.8 L828.0,277.1 L829.0,280.4 L830.0,283.6 L831.0,286.8 L832.0,289.9 L833.0,293.0 L834.0,296.0 L835.0,299.0 L836.0,301.8 L837.0,304.6 L838.0,307.3 L839.0,309.8 L840.0,312.3 L841.0,314.6 L842.0,316.7 L843.0,318.8 L844.0,320.7 L845.0,322.4 L846.0,324.0 L847.0,325.4 L848.0,326.7 L849.0,327.7 L850.0,328.6 L851.0,329.4 L852.0,329.9 L853.0,330.2 L854.0,330.4 L855.0,330.4 L856.0,330.2 L857.0,330.0 L858.0,329.6 L859.0,329.1 L860.0,328.5 L861.0,327.7 L862.0,326.9 L863.0,325.9 L864.0,324.8 L865.0,323.7 L866.0,322.4 L867.0,321.0 L868.0,319.4 L869.0,317.8 L870.0,316.1 L871.0,314.3 L872.0,312.5 L873.0,310.5 L874.0,308.4 L875.0,306.3 L876.0,304.1 L877.0,301.8 L878.0,299.5 L879.0,297.1 L880.0,294.6 L881.0,292.1 L882.0,289.5 L883.0,286.9 L884.0,284.2 L885.0,281.5 L886.0,278.8 L887.0,276.1 L888.0,273.3 L889.0,270.6 L890.0,267.8 L891.0,265.0 L892.0,262.2 L893.0,259.5 L894.0,256.7 L895.0,254.0 L896.0,251.3 L897.0,248.6 L898.0,245.9 L899.0,243.3 L900.0,240.7 L901.0,238.2 L902.0,235.7 L903.0,233.3 L904.0,231.0 L905.0,228.7 L906.0,226.5 L907.0,224.4 L908.0,222.3 L909.0,220.3 L910.0,218.5 L911.0,216.7 L912.0,215.0 L913.0,213.4 L914.0,211.8 L915.0,210.4 L916.0,209.1 L917.0,208.0 L918.0,206.9 L919.0,205.9 L920.0,205.1 L921.0,204.3 L922.0,203.7 L923.0,203.2 L924.0,202.8 L925.0,202.6 L926.0,202.4 L927.0,202.4 L928.0,202.5 L929.0,202.6 L930.0,202.8 L931.0,203.1 L932.0,203.6 L933.0,204.1 L934.0,204.7 L935.0,205.5 L936.0,206.3 L937.0,207.3 L938.0,208.4 L939.0,209.6 L940.0,210.9 L941.0,212.3 L942.0,213.8 L943.0,215.4 L944.0,217.0 L945.0,218.8 L946.0,220.6 L947.0,222.6 L948.0,224.5 L949.0,226.6 L950.0,228.7 L951.0,230.8 L952.0,232.9 L953.0,235.1 L954.0,237.3 L955.0,239.5 L956.0,241.7 L957.0,243.9 L958.0,246.0 L959.0,248.1 L960.0,250.2 L961.0,252.2 L962.0,254.1 L963.0,255.9 L964.0,257.7 L965.0,259.4 L966.0,261.0 L967.0,262.4 L968.0,263.8 L969.0,265.0 L970.0,266.0 L971.0,267.0 L972.0,267.8 L973.0,268.4 L974.0,268.9 L975.0,269.2 L976.0,269.4 L977.0,269.4 L978.0,269.3 L979.0,269.1 L980.0,268.8 L981.0,268.5 L982.0,268.0 L983.0,267.5 L984.0,266.8 L985.0,266.1 L986.0,265.3 L987.0,264.4 L988.0,263.4 L989.0,262.4 L990.0,261.3 L991.0,260.1 L992.0,258.8 L993.0,257.5 L994.0,256.1 L995.0,254.7 L996.0,253.2 L997.0,251.6 L998.0,250.0 L999.0,248.4 L1000.0,246.7 L1001.0,244.9 L1002.0,243.2 L1003.0,241.4 L1004.0,239.6 L1005.0,237.8 L1006.0,235.9 L1007.0,234.1 L1008.0,232.2 L1009.0,230.4 L1010.0,228.5 L1011.0,226.7 L1012.0,224.9 L1013.0,223.1 L1014.0,221.3 L1015.0,219.6 L1016.0,217.8 L1017.0,216.2 L1018.0,214.5 L1019.0,212.9 L1020.0,211.4 L1021.0,209.9 L1022.0,208.4 L1023.0,207.1 L1024.0,205.7 L1025.0,204.5 L1026.0,203.3 L1027.0,202.2 L1028.0,201.2 L1029.0,200.2 L1030.0,199.4 L1031.0,198.6 L1032.0,197.9 L1033.0,197.2 L1034.0,196.7 L1035.0,196.3 L1036.0,195.9 L1037.0,195.7 L1038.0,195.5 L1039.0,195.4 L1040.0,195.4 L1041.0,195.5 L1042.0,195.7 L1043.0,196.0 L1044.0,196.3 L1045.0,196.8 L1046.0,197.5 L1047.0,198.2 L1048.0,199.1 L1049.0,200.1 L1050.0,201.2 L1051.0,202.5 L1052.0,203.9 L1053.0,205.4 L1054.0,207.0 L1055.0,208.8 L1056.0,210.7 L1057.0,212.7 L1058.0,214.9 L1059.0,217.2 L1060.0,219.6 L1061.0,222.0 L1062.0,224.6 L1063.0,227.4 L1064.0,230.2 L1065.0,233.1 L1066.0,236.0 L1067.0,239.1 L1068.0,242.3 L1069.0,245.5 L1070.0,248.7 L1071.0,252.1 L1072.0,255.4 L1073.0,258.9 L1074.0,262.3 L1075.0,265.8 L1076.0,269.3 L1077.0,272.8 L1078.0,276.3 L1079.0,279.8 L1080.0,283.3 L1081.0,286.7 L1082.0,290.1 L1083.0,293.5 L1084.0,296.8 L1085.0,300.1 L1086.0,303.3 L1087.0,306.4 L1088.0,309.4 L1089.0,312.3 L1090.0,315.2 L1091.0,317.9 L1092.0,320.5 L1093.0,323.0 L1094.0,325.4 L1095.0,327.6 L1096.0,329.6 L1097.0,331.6 L1098.0,333.3 L1099.0,334.9 L1100.0,336.4 L1101.0,337.6 L1102.0,338.7 L1103.0,339.6 L1104.0,340.3 L1105.0,340.9 L1106.0,341.2 L1107.0,341.4 L1108.0,341.4 L1109.0,341.2 L1110.0,340.9 L1111.0,340.5 L1112.0,340.0 L1113.0,339.3 L1114.0,338.6 L1115.0,337.6 L1116.0,336.6 L1117.0,335.5 L1118.0,334.2 L1119.0,332.8 L1120.0,331.3 L1121.0,329.7 L1122.0,328.0 L1123.0,326.2 L1124.0,324.2 L1125.0,322.2 L1126.0,320.1 L1127.0,317.9 L1128.0,315.6 L1129.0,313.3 L1130.0,310.8 L1131.0,308.3 L1132.0,305.7 L1133.0,303.1 L1134.0,300.4 L1135.0,297.6 L1136.0,294.8 L1137.0,292.0 L1138.0,289.1 L1139.0,286.2 L1140.0,283.3 L1141.0,280.3 L1142.0,277.4 L1143.0,274.4 L1144.0,271.4 L1145.0,268.4 L1146.0,265.4 L1147.0,262.5 L1148.0,259.5 L1149.0,256.6 L1150.0,253.7 L1151.0,250.9 L1152.0,248.1 L1153.0,245.3 L1154.0,242.6 L1155.0,239.9 L1156.0,237.3 L1157.0,234.8 L1158.0,232.3 L1159.0,229.9 L1160.0,227.6 L1161.0,225.4 L1162.0,223.3 L1163.0,221.2 L1164.0,219.3 L1165.0,217.4 L1166.0,215.7 L1167.0,214.0 L1168.0,212.5 L1169.0,211.1 L1170.0,209.7 L1171.0,208.6 L1172.0,207.5 L1173.0,206.5 L1174.0,205.7 L1175.0,205.0 L1176.0,204.4 L1177.0,204.0 L1178.0,203.7 L1179.0,203.5 L1180.0,203.4 L1181.0,203.4 L1182.0,203.5 L1183.0,203.7 L1184.0,203.9 L1185.0,204.2 L1186.0,204.6 L1187.0,205.1 L1188.0,205.7 L1189.0,206.4 L1190.0,207.2 L1191.0,208.1 L1192.0,209.0 L1193.0,210.1 L1194.0,211.2 L1195.0,212.4 L1196.0,213.7 L1197.0,215.0 L1198.0,216.5 L1199.0,218.0 L1200.0,219.5 L1201.0,221.1 L1202.0,222.7 L1203.0,224.4 L1204.0,226.1 L1205.0,227.8 L1206.0,229.6 L1207.0,231.3 L1208.0,233.0 L1209.0,234.8 L1210.0,236.5 L1211.0,238.1 L1212.0,239.8 L1213.0,241.3 L1214.0,242.9 L1215.0,244.3 L1216.0,245.7 L1217.0,247.0 L1218.0,248.3 L1219.0,249.4 L1220.0,250.4 L1221.0,251.4 L1222.0,252.2 L1223.0,252.9 L1224.0,253.4 L1225.0,253.9 L1226.0,254.2 L1227.0,254.4 L1228.0,254.4 L1229.0,254.3 L1230.0,254.2 L1231.0,254.0 L1232.0,253.6 L1233.0,253.2 L1234.0,252.8 L1235.0,252.2 L1236.0,251.5 L1237.0,250.8 L1238.0,250.0 L1239.0,249.1 L1240.0,248.2 L1241.0,247.1 L1242.0,246.0 L1243.0,244.9 L1244.0,243.7 L1245.0,242.4 L1246.0,241.0 L1247.0,239.7 L1248.0,238.2 L1249.0,236.7 L1250.0,235.2 L1251.0,233.7 L1252.0,232.1 L1253.0,230.4 L1254.0,228.8 L1255.0,227.1 L1256.0,225.4 L1257.0,223.7 L1258.0,222.0 L1259.0,220.3 L1260.0,218.6 L1261.0,216.9 L1262.0,215.2 L1263.0,213.6 L1264.0,211.9 L1265.0,210.3 L1266.0,208.7 L1267.0,207.1 L1268.0,205.6 L1269.0,204.1 L1270.0,202.6 L1271.0,201.2 L1272.0,199.9 L1273.0,198.6 L1274.0,197.3 L1275.0,196.1 L1276.0,195.0 L1277.0,194.0 L1278.0,193.0 L1279.0,192.1 L1280.0,191.2 L1281.0,190.5 L1282.0,189.8 L1283.0,189.2 L1284.0,188.7 L1285.0,188.3 L1286.0,187.9 L1287.0,187.7 L1288.0,187.5 L1289.0,187.4 L1290.0,187.4 L1291.0,187.5 L1292.0,187.6 L1293.0,187.9 L1294.0,188.3 L1295.0,188.8 L1296.0,189.4 L1297.0,190.1 L1298.0,191.0 L1299.0,192.0 L1300.0,193.1 L1301.0,194.4 L1302.0,195.8 L1303.0,197.3 L1304.0,199.0 L1305.0,200.8 L1306.0,202.7 L1307.0,204.8 L1308.0,207.0 L1309.0,209.3 L1310.0,211.7 L1311.0,214.3 L1312.0,217.0 L1313.0,219.8 L1314.0,222.7 L1315.0,225.7 L1316.0,228.8 L1317.0,232.0 L1318.0,235.3 L1319.0,238.6 L1320.0,242.1 L1321.0,245.6 L1322.0,249.1 L1323.0,252.8 L1324.0,256.5 L1325.0,260.2 L1326.0,263.9 L1327.0,267.7 L1328.0,271.5 L1329.0,275.3 L1330.0,279.1 L1331.0,283.0 L1332.0,286.7 L1333.0,290.5 L1334.0,294.3 L1335.0,298.0 L1336.0,301.6 L1337.0,305.2 L1338.0,308.7 L1339.0,312.2 L1340.0,315.6 L1341.0,318.9 L1342.0,322.1 L1343.0,325.2 L1344.0,328.1 L1345.0,331.0 L1346.0,333.7 L1347.0,336.3 L1348.0,338.8 L1349.0,341.1 L1350.0,343.2 L1351.0,345.2 L1352.0,347.1 L1353.0,348.7 L1354.0,350.2 L1355.0,351.5 L1356.0,352.6 L1357.0,353.6 L1358.0,354.3 L1359.0,354.9 L1360.0,355.2 L1361.0,355.4 L1362.0,355.4 L1363.0,355.2 L1364.0,354.9 L1365.0,354.4 L1366.0,353.7 L1367.0,352.9 L1368.0,352.0 L1369.0,350.9 L1370.0,349.7 L1371.0,348.3 L1372.0,346.8 L1373.0,345.1 L1374.0,343.3 L1375.0,341.4 L1376.0,339.4 L1377.0,337.2 L1378.0,334.9 L1379.0,332.5 L1380.0,330.0 L1381.0,327.4 L1382.0,324.7 L1383.0,321.9 L1384.0,319.0 L1385.0,316.1 L1386.0,313.0 L1387.0,309.9 L1388.0,306.7 L1389.0,303.5 L1390.0,300.2 L1391.0,296.9 L1392.0,293.5 L1393.0,290.1 L1394.0,286.7 L1395.0,283.3 L1396.0,279.8 L1397.0,276.4 L1398.0,272.9 L1399.0,269.5 L1400.0,266.1 L1401.0,262.7 L1402.0,259.3 L1403.0,256.0 L1404.0,252.8 L1405.0,249.5 L1406.0,246.4 L1407.0,243.3 L1408.0,240.2 L1409.0,237.3 L1410.0,234.4 L1411.0,231.6 L1412.0,228.9 L1413.0,226.3 L1414.0,223.8 L1415.0,221.5 L1416.0,219.2 L1417.0,217.1 L1418.0,215.0 L1419.0,213.1 L1420.0,211.4 L1421.0,209.8 L1422.0,208.3 L1423.0,206.9 L1424.0,205.7 L1425.0,204.6 L1426.0,203.7 L1427.0,203.0 L1428.0,202.3 L1429.0,201.9 L1430.0,201.6 L1431.0,201.4 L1432.0,201.4 L1433.0,201.4 L1434.0,201.5 L1435.0,201.7 L1436.0,202.0 L1437.0,202.3 L1438.0,202.6 L1439.0,203.1 L1440.0,203.6 L1441.0,204.2 L1442.0,204.9 L1443.0,205.7 L1444.0,206.5 L1445.0,207.5 L1446.0,208.4 L1447.0,209.5 L1448.0,210.6 L1449.0,211.8 L1450.0,213.0 L1451.0,214.3 L1452.0,215.7 L1453.0,217.1 L1454.0,218.5 L1455.0,220.0 L1456.0,221.4 L1457.0,223.0 L1458.0,224.5 L1459.0,226.0 L1460.0,227.5 L1461.0,229.1 L1462.0,230.6 L1463.0,232.1 L1464.0,233.5 L1465.0,235.0 L1466.0,236.4 L1467.0,237.7 L1468.0,239.0 L1469.0,240.3 L1470.0,241.4 L1471.0,242.5 L1472.0,243.5 L1473.0,244.5 L1474.0,245.3 L1475.0,246.1 L1476.0,246.7 L1477.0,247.3 L1478.0,247.7 L1479.0,248.0 L1480.0,248.3 L1481.0,248.4 L1482.0,248.4 L1483.0,248.3 L1484.0,248.1 L1485.0,247.8 L1486.0,247.3 L1487.0,246.8 L1488.0,246.2 L1489.0,245.5 L1490.0,244.6 L1491.0,243.7 L1492.0,242.7 L1493.0,241.6 L1494.0,240.4 L1495.0,239.1 L1496.0,237.8 L1497.0,236.4 L1498.0,234.9 L1499.0,233.3 L1500.0,231.7 L1501.0,230.0 L1502.0,228.3 L1503.0,226.5 L1504.0,224.7 L1505.0,222.8 L1506.0,221.0 L1507.0,219.0 L1508.0,217.1 L1509.0,215.2 L1510.0,213.2 L1511.0,211.3 L1512.0,209.3 L1513.0,207.4 L1514.0,205.4 L1515.0,203.5 L1516.0,201.6 L1517.0,199.8 L1518.0,198.0 L1519.0,196.2 L1520.0,194.5 L1521.0,192.8 L1522.0,191.2 L1523.0,189.7 L1524.0,188.2 L1525.0,186.8 L1526.0,185.4 L1527.0,184.2 L1528.0,183.0 L1529.0,181.9 L1530.0,180.9 L1531.0,180.0 L1532.0,179.2 L1533.0,178.5 L1534.0,177.9 L1535.0,177.4 L1536.0,177.0 L1537.0,176.7 L1538.0,176.5 L1539.0,176.4 L1540.0,176.4 L1541.0,176.5 L1542.0,176.7 L1543.0,177.0 L1544.0,177.4 L1545.0,178.0 L1546.0,178.7 L1547.0,179.5 L1548.0,180.5 L1549.0,181.6 L1550.0,182.9 L1551.0,184.3 L1552.0,185.9 L1553.0,187.6 L1554.0,189.4 L1555.0,191.4 L1556.0,193.5 L1557.0,195.8 L1558.0,198.3 L1559.0,200.8 L1560.0,203.5 L1561.0,206.4 L1562.0,209.3 L1563.0,212.4 L1564.0,215.6 L1565.0,219.0 L1566.0,222.4 L1567.0,226.0 L1568.0,229.6 L1569.0,233.4 L1570.0,237.2 L1571.0,241.1 L1572.0,245.1 L1573.0,249.1 L1574.0,253.2 L1575.0,257.4 L1576.0,261.6 L1577.0,265.9 L1578.0,270.1 L1579.0,274.4 L1580.0,278.7 L1581.0,283.0 L1582.0,287.3 L1583.0,291.6 L1584.0,295.9 L1585.0,300.1 L1586.0,304.3 L1587.0,308.4 L1588.0,312.5 L1589.0,316.5 L1590.0,320.4 L1591.0,324.3 L1592.0,328.0 L1593.0,331.6 L1594.0,335.2 L1595.0,338.6 L1596.0,341.9 L1597.0,345.0 L1598.0,348.0 L1599.0,350.8 L1600.0,353.5 L1601.0,356.0 L1602.0,358.4 L1603.0,360.5 L1604.0,362.5 L1605.0,364.3 L1606.0,365.9 L1607.0,367.3 L1608.0,368.5 L1609.0,369.5 L1610.0,370.3 L1611.0,370.9 L1612.0,371.3 L1613.0,371.4 L1614.0,371.3 L1615.0,371.1 L1616.0,370.7 L1617.0,370.1 L1618.0,369.3 L1619.0,368.4 L1620.0,367.3 L1621.0,366.0 L1622.0,364.5 L1623.0,362.9 L1624.0,361.1 L1625.0,359.2 L1626.0,357.1 L1627.0,354.9 L1628.0,352.5 L1629.0,350.0 L1630.0,347.3 L1631.0,344.5 L1632.0,341.6 L1633.0,338.6 L1634.0,335.5 L1635.0,332.2 L1636.0,328.9 L1637.0,325.5 L1638.0,322.0 L1639.0,318.4 L1640.0,314.8 L1641.0,311.1 L1642.0,307.3 L1643.0,303.5 L1644.0,299.7 L1645.0,295.8 L1646.0,291.9 L1647.0,288.0 L1648.0,284.1 L1649.0,280.2 L1650.0,276.4 L1651.0,272.5 L1652.0,268.7 L1653.0,264.9 L1654.0,261.1 L1655.0,257.4 L1656.0,253.8 L1657.0,250.2 L1658.0,246.8 L1659.0,243.3 L1660.0,240.0 L1661.0,236.8 L1662.0,233.7 L1663.0,230.7 L1664.0,227.8 L1665.0,225.1 L1666.0,222.4 L1667.0,219.9 L1668.0,217.6 L1669.0,215.4 L1670.0,213.3 L1671.0,211.4 L1672.0,209.6 L1673.0,208.0 L1674.0,206.6 L1675.0,205.3 L1676.0,204.3 L1677.0,203.3 L1678.0,202.6 L1679.0,202.0 L1680.0,201.6 L1681.0,201.4 L1682.0,201.4 L1683.0,201.4 L1684.0,201.5 L1685.0,201.7 L1686.0,201.9 L1687.0,202.2 L1688.0,202.5 L1689.0,203.0 L1690.0,203.5 L1691.0,204.1 L1692.0,204.7 L1693.0,205.5 L1694.0,206.3 L1695.0,207.2 L1696.0,208.1 L1697.0,209.2 L1698.0,210.3 L1699.0,211.4 L1700.0,212.6 L1701.0,213.9 L1702.0,215.2 L1703.0,216.6 L1704.0,218.0 L1705.0,219.5 L1706.0,220.9 L1707.0,222.4 L1708.0,224.0 L1709.0,225.5 L1710.0,227.1 L1711.0,228.6 L1712.0,230.2 L1713.0,231.7 L1714.0,233.2 L1715.0,234.7 L1716.0,236.2 L1717.0,237.6 L1718.0,239.0 L1719.0,240.3 L1720.0,241.5 L1721.0,242.7 L1722.0,243.9 L1723.0,244.9 L1724.0,245.9 L1725.0,246.8 L1726.0,247.6 L1727.0,248.3 L1728.0,248.9 L1729.0,249.4 L1730.0,249.8 L1731.0,250.1 L1732.0,250.3 L1733.0,250.4 L1734.0,250.4 L1735.0,250.2 L1736.0,249.9 L1737.0,249.5 L1738.0,249.0 L1739.0,248.4 L1740.0,247.7 L1741.0,246.8 L1742.0,245.9 L1743.0,244.9 L1744.0,243.7 L1745.0,242.5 L1746.0,241.1 L1747.0,239.7 L1748.0,238.2 L1749.0,236.6 L1750.0,234.9 L1751.0,233.2 L1752.0,231.4 L1753.0,229.5 L1753.0,405 L70,405 L70,230.1 Z"/></clipPath>
<g clip-path="url(#ac)">
<rect x="72.00" y="122" width="62.00" height="283" fill="#b8c2cc" fill-opacity="0.25"/>
<rect x="262.00" y="122" width="50.00" height="283" fill="#b8c2cc" fill-opacity="0.25"/>
<rect x="312.00" y="122" width="62.17" height="283" fill="#b8c2cc" fill-opacity="0.25"/>
<rect x="502.17" y="122" width="49.83" height="283" fill="#b8c2cc" fill-opacity="0.25"/>
<rect x="552.00" y="122" width="62.17" height="283" fill="#b8c2cc" fill-opacity="0.25"/>
<rect x="742.17" y="122" width="49.83" height="283" fill="#b8c2cc" fill-opacity="0.25"/>
<rect x="792.00" y="122" width="62.33" height="283" fill="#b8c2cc" fill-opacity="0.25"/>
<rect x="982.33" y="122" width="49.67" height="283" fill="#b8c2cc" fill-opacity="0.25"/>
<rect x="1032.00" y="122" width="62.33" height="283" fill="#b8c2cc" fill-opacity="0.25"/>
<rect x="1222.33" y="122" width="49.67" height="283" fill="#b8c2cc" fill-opacity="0.25"/>
<rect x="1272.00" y="122" width="62.50" height="283" fill="#b8c2cc" fill-opacity="0.25"/>
<rect x="1462.33" y="122" width="49.67" height="283" fill="#b8c2cc" fill-opacity="0.25"/>
<rect x="1512.00" y="122" width="62.50" height="283" fill="#b8c2cc" fill-opacity="0.25"/>
<rect x="1702.50" y="122" width="49.50" height="283" fill="#b8c2cc" fill-opacity="0.25"/>
</g>
<path d="M70.0,230.1 L71.0,232.7 L72.0,235.4 L73.0,238.2 L74.0,241.0 L75.0,243.9 L76.0,246.8 L77.0,249.7 L78.0,252.6 L79.0,255.6 L80.0,258.5 L81.0,261.4 L82.0,264.4 L83.0,267.2 L84.0,270.1 L85.0,272.9 L86.0,275.6 L87.0,278.3 L88.0,280.9 L89.0,283.5 L90.0,285.9 L91.0,288.3 L92.0,290.5 L93.0,292.7 L94.0,294.7 L95.0,296.6 L96.0,298.3 L97.0,299.9 L98.0,301.4 L99.0,302.7 L100.0,303.9 L101.0,304.9 L102.0,305.8 L103.0,306.4 L104.0,306.9 L105.0,307.2 L106.0,307.4 L107.0,307.4 L108.0,307.1 L109.0,306.7 L110.0,306.2 L111.0,305.4 L112.0,304.4 L113.0,303.3 L114.0,302.0 L115.0,300.5 L116.0,298.9 L117.0,297.1 L118.0,295.1 L119.0,293.0 L120.0,290.8 L121.0,288.4 L122.0,285.9 L123.0,283.2 L124.0,280.4 L125.0,277.6 L126.0,274.6 L127.0,271.5 L128.0,268.3 L129.0,265.1 L130.0,261.8 L131.0,258.4 L132.0,255.0 L133.0,251.5 L134.0,248.0 L135.0,244.5 L136.0,241.0 L137.0,237.5 L138.0,233.9 L139.0,230.4 L140.0,227.0 L141.0,223.5 L142.0,220.1 L143.0,216.8 L144.0,213.5 L145.0,210.3 L146.0,207.2 L147.0,204.2 L148.0,201.3 L149.0,198.5 L150.0,195.8 L151.0,193.2 L152.0,190.8 L153.0,188.5 L154.0,186.3 L155.0,184.3 L156.0,182.5 L157.0,180.8 L158.0,179.3 L159.0,177.9 L160.0,176.7 L161.0,175.7 L162.0,174.9 L163.0,174.2 L164.0,173.8 L165.0,173.5 L166.0,173.4 L167.0,173.4 L168.0,173.6 L169.0,173.8 L170.0,174.2 L171.0,174.7 L172.0,175.3 L173.0,176.1 L174.0,177.0 L175.0,178.0 L176.0,179.2 L177.0,180.6 L178.0,182.1 L179.0,183.7 L180.0,185.5 L181.0,187.5 L182.0,189.5 L183.0,191.8 L184.0,194.2 L185.0,196.7 L186.0,199.3 L187.0,202.1 L188.0,205.0 L189.0,208.0 L190.0,211.1 L191.0,214.4 L192.0,217.7 L193.0,221.2 L194.0,224.7 L195.0,228.3 L196.0,232.0 L197.0,235.7 L198.0,239.5 L199.0,243.3 L200.0,247.2 L201.0,251.1 L202.0,255.1 L203.0,259.0 L204.0,262.9 L205.0,266.9 L206.0,270.8 L207.0,274.6 L208.0,278.5 L209.0,282.3 L210.0,286.0 L211.0,289.6 L212.0,293.2 L213.0,296.7 L214.0,300.1 L215.0,303.3 L216.0,306.5 L217.0,309.5 L218.0,312.4 L219.0,315.1 L220.0,317.7 L221.0,320.1 L222.0,322.4 L223.0,324.5 L224.0,326.4 L225.0,328.1 L226.0,329.6 L227.0,330.9 L228.0,332.0 L229.0,332.9 L230.0,333.6 L231.0,334.1 L232.0,334.4 L233.0,334.4 L234.0,334.2 L235.0,333.9 L236.0,333.5 L237.0,332.8 L238.0,332.0 L239.0,331.0 L240.0,329.8 L241.0,328.5 L242.0,327.1 L243.0,325.4 L244.0,323.7 L245.0,321.8 L246.0,319.7 L247.0,317.5 L248.0,315.2 L249.0,312.8 L250.0,310.2 L251.0,307.6 L252.0,304.8 L253.0,302.0 L254.0,299.0 L255.0,296.0 L256.0,292.9 L257.0,289.7 L258.0,286.5 L259.0,283.3 L260.0,279.9 L261.0,276.6 L262.0,273.2 L263.0,269.9 L264.0,266.5 L265.0,263.1 L266.0,259.8 L267.0,256.4 L268.0,253.1 L269.0,249.8 L270.0,246.6 L271.0,243.4 L272.0,240.3 L273.0,237.3 L274.0,234.3 L275.0,231.5 L276.0,228.7 L277.0,226.0 L278.0,223.4 L279.0,221.0 L280.0,218.6 L281.0,216.4 L282.0,214.4 L283.0,212.4 L284.0,210.6 L285.0,209.0 L286.0,207.5 L287.0,206.2 L288.0,205.0 L289.0,204.0 L290.0,203.1 L291.0,202.4 L292.0,201.9 L293.0,201.6 L294.0,201.4 L295.0,201.4 L296.0,201.5 L297.0,201.6 L298.0,201.9 L299.0,202.3 L300.0,202.8 L301.0,203.4 L302.0,204.2 L303.0,205.1 L304.0,206.1 L305.0,207.2 L306.0,208.5 L307.0,209.9 L308.0,211.4 L309.0,213.1 L310.0,214.9 L311.0,216.8 L312.0,218.8 L313.0,220.9 L314.0,223.2 L315.0,225.6 L316.0,228.0 L317.0,230.6 L318.0,233.2 L319.0,236.0 L320.0,238.8 L321.0,241.6 L322.0,244.6 L323.0,247.5 L324.0,250.6 L325.0,253.6 L326.0,256.7 L327.0,259.8 L328.0,262.9 L329.0,266.0 L330.0,269.1 L331.0,272.2 L332.0,275.2 L333.0,278.2 L334.0,281.2 L335.0,284.0 L336.0,286.8 L337.0,289.6 L338.0,292.2 L339.0,294.7 L340.0,297.1 L341.0,299.5 L342.0,301.6 L343.0,303.7 L344.0,305.6 L345.0,307.3 L346.0,308.9 L347.0,310.3 L348.0,311.6 L349.0,312.7 L350.0,313.6 L351.0,314.3 L352.0,314.9 L353.0,315.2 L354.0,315.4 L355.0,315.4 L356.0,315.2 L357.0,314.8 L358.0,314.3 L359.0,313.6 L360.0,312.8 L361.0,311.8 L362.0,310.7 L363.0,309.4 L364.0,308.0 L365.0,306.4 L366.0,304.6 L367.0,302.8 L368.0,300.8 L369.0,298.7 L370.0,296.5 L371.0,294.1 L372.0,291.6 L373.0,289.1 L374.0,286.4 L375.0,283.7 L376.0,280.8 L377.0,277.9 L378.0,275.0 L379.0,271.9 L380.0,268.8 L381.0,265.7 L382.0,262.5 L383.0,259.3 L384.0,256.1 L385.0,252.8 L386.0,249.6 L387.0,246.3 L388.0,243.1 L389.0,239.9 L390.0,236.7 L391.0,233.5 L392.0,230.4 L393.0,227.4 L394.0,224.3 L395.0,221.4 L396.0,218.5 L397.0,215.7 L398.0,213.0 L399.0,210.4 L400.0,207.9 L401.0,205.5 L402.0,203.2 L403.0,201.0 L404.0,199.0 L405.0,197.1 L406.0,195.3 L407.0,193.6 L408.0,192.1 L409.0,190.7 L410.0,189.5 L411.0,188.5 L412.0,187.6 L413.0,186.8 L414.0,186.2 L415.0,185.8 L416.0,185.5 L417.0,185.4 L418.0,185.4 L419.0,185.5 L420.0,185.7 L421.0,186.0 L422.0,186.5 L423.0,187.0 L424.0,187.7 L425.0,188.5 L426.0,189.4 L427.0,190.5 L428.0,191.7 L429.0,193.0 L430.0,194.4 L431.0,196.0 L432.0,197.8 L433.0,199.6 L434.0,201.6 L435.0,203.7 L436.0,205.9 L437.0,208.2 L438.0,210.7 L439.0,213.2 L440.0,215.9 L441.0,218.6 L442.0,221.5 L443.0,224.4 L444.0,227.4 L445.0,230.5 L446.0,233.6 L447.0,236.8 L448.0,240.0 L449.0,243.2 L450.0,246.5 L451.0,249.8 L452.0,253.1 L453.0,256.4 L454.0,259.7 L455.0,263.0 L456.0,266.2 L457.0,269.4 L458.0,272.6 L459.0,275.7 L460.0,278.7 L461.0,281.7 L462.0,284.5 L463.0,287.3 L464.0,290.0 L465.0,292.5 L466.0,294.9 L467.0,297.2 L468.0,299.4 L469.0,301.4 L470.0,303.3 L471.0,305.0 L472.0,306.5 L473.0,307.9 L474.0,309.1 L475.0,310.1 L476.0,311.0 L477.0,311.6 L478.0,312.1 L479.0,312.3 L480.0,312.4 L481.0,312.3 L482.0,312.1 L483.0,311.7 L484.0,311.2 L485.0,310.5 L486.0,309.7 L487.0,308.7 L488.0,307.7 L489.0,306.5 L490.0,305.1 L491.0,303.7 L492.0,302.1 L493.0,300.4 L494.0,298.6 L495.0,296.6 L496.0,294.6 L497.0,292.5 L498.0,290.3 L499.0,288.0 L500.0,285.6 L501.0,283.1 L502.0,280.6 L503.0,278.0 L504.0,275.4 L505.0,272.7 L506.0,270.0 L507.0,267.2 L508.0,264.4 L509.0,261.6 L510.0,258.8 L511.0,256.0 L512.0,253.1 L513.0,250.3 L514.0,247.5 L515.0,244.7 L516.0,242.0 L517.0,239.3 L518.0,236.6 L519.0,234.0 L520.0,231.5 L521.0,229.0 L522.0,226.6 L523.0,224.3 L524.0,222.0 L525.0,219.9 L526.0,217.8 L527.0,215.9 L528.0,214.0 L529.0,212.3 L530.0,210.7 L531.0,209.2 L532.0,207.8 L533.0,206.5 L534.0,205.4 L535.0,204.4 L536.0,203.6 L537.0,202.9 L538.0,202.3 L539.0,201.8 L540.0,201.6 L541.0,201.4 L542.0,201.4 L543.0,201.5 L544.0,201.6 L545.0,201.9 L546.0,202.3 L547.0,202.8 L548.0,203.4 L549.0,204.1 L550.0,205.0 L551.0,206.0 L552.0,207.1 L553.0,208.4 L554.0,209.7 L555.0,211.2 L556.0,212.9 L557.0,214.6 L558.0,216.5 L559.0,218.5 L560.0,220.7 L561.0,222.9 L562.0,225.2 L563.0,227.7 L564.0,230.2 L565.0,232.9 L566.0,235.6 L567.0,238.4 L568.0,241.3 L569.0,244.2 L570.0,247.2 L571.0,250.3 L572.0,253.4 L573.0,256.5 L574.0,259.7 L575.0,262.8 L576.0,266.0 L577.0,269.2 L578.0,272.4 L579.0,275.5 L580.0,278.6 L581.0,281.7 L582.0,284.8 L583.0,287.7 L584.0,290.6 L585.0,293.5 L586.0,296.2 L587.0,298.9 L588.0,301.4 L589.0,303.9 L590.0,306.2 L591.0,308.4 L592.0,310.4 L593.0,312.3 L594.0,314.1 L595.0,315.7 L596.0,317.2 L597.0,318.4 L598.0,319.6 L599.0,320.5 L600.0,321.2 L601.0,321.8 L602.0,322.2 L603.0,322.4 L604.0,322.4 L605.0,322.2 L606.0,322.0 L607.0,321.6 L608.0,321.1 L609.0,320.4 L610.0,319.6 L611.0,318.7 L612.0,317.6 L613.0,316.5 L614.0,315.2 L615.0,313.8 L616.0,312.3 L617.0,310.6 L618.0,308.9 L619.0,307.0 L620.0,305.1 L621.0,303.1 L622.0,300.9 L623.0,298.7 L624.0,296.4 L625.0,294.0 L626.0,291.6 L627.0,289.0 L628.0,286.5 L629.0,283.8 L630.0,281.1 L631.0,278.4 L632.0,275.6 L633.0,272.8 L634.0,270.0 L635.0,267.1 L636.0,264.2 L637.0,261.3 L638.0,258.5 L639.0,255.6 L640.0,252.7 L641.0,249.8 L642.0,247.0 L643.0,244.2 L644.0,241.4 L645.0,238.7 L646.0,236.0 L647.0,233.3 L648.0,230.8 L649.0,228.2 L650.0,225.8 L651.0,223.4 L652.0,221.1 L653.0,218.9 L654.0,216.7 L655.0,214.7 L656.0,212.8 L657.0,210.9 L658.0,209.2 L659.0,207.5 L660.0,206.0 L661.0,204.6 L662.0,203.3 L663.0,202.2 L664.0,201.1 L665.0,200.2 L666.0,199.4 L667.0,198.7 L668.0,198.2 L669.0,197.8 L670.0,197.6 L671.0,197.4 L672.0,197.4 L673.0,197.5 L674.0,197.6 L675.0,197.9 L676.0,198.2 L677.0,198.7 L678.0,199.3 L679.0,200.0 L680.0,200.8 L681.0,201.8 L682.0,202.8 L683.0,204.0 L684.0,205.3 L685.0,206.8 L686.0,208.3 L687.0,210.0 L688.0,211.7 L689.0,213.6 L690.0,215.6 L691.0,217.6 L692.0,219.8 L693.0,222.1 L694.0,224.4 L695.0,226.8 L696.0,229.3 L697.0,231.8 L698.0,234.4 L699.0,237.0 L700.0,239.7 L701.0,242.3 L702.0,245.0 L703.0,247.7 L704.0,250.4 L705.0,253.1 L706.0,255.8 L707.0,258.4 L708.0,261.0 L709.0,263.5 L710.0,266.0 L711.0,268.4 L712.0,270.7 L713.0,272.9 L714.0,275.1 L715.0,277.1 L716.0,279.0 L717.0,280.8 L718.0,282.4 L719.0,283.9 L720.0,285.3 L721.0,286.5 L722.0,287.6 L723.0,288.5 L724.0,289.2 L725.0,289.8 L726.0,290.2 L727.0,290.4 L728.0,290.4 L729.0,290.3 L730.0,290.1 L731.0,289.8 L732.0,289.3 L733.0,288.8 L734.0,288.1 L735.0,287.3 L736.0,286.4 L737.0,285.4 L738.0,284.3 L739.0,283.1 L740.0,281.8 L741.0,280.4 L742.0,278.9 L743.0,277.3 L744.0,275.7 L745.0,274.0 L746.0,272.1 L747.0,270.3 L748.0,268.3 L749.0,266.3 L750.0,264.3 L751.0,262.1 L752.0,260.0 L753.0,257.8 L754.0,255.6 L755.0,253.3 L756.0,251.0 L757.0,248.7 L758.0,246.4 L759.0,244.1 L760.0,241.8 L761.0,239.5 L762.0,237.3 L763.0,235.0 L764.0,232.8 L765.0,230.6 L766.0,228.4 L767.0,226.3 L768.0,224.2 L769.0,222.2 L770.0,220.2 L771.0,218.3 L772.0,216.5 L773.0,214.7 L774.0,213.0 L775.0,211.4 L776.0,209.9 L777.0,208.5 L778.0,207.1 L779.0,205.9 L780.0,204.8 L781.0,203.7 L782.0,202.8 L783.0,202.0 L784.0,201.3 L785.0,200.7 L786.0,200.2 L787.0,199.8 L788.0,199.6 L789.0,199.4 L790.0,199.4 L791.0,199.5 L792.0,199.6 L793.0,199.8 L794.0,200.2 L795.0,200.7 L796.0,201.2 L797.0,202.0 L798.0,202.8 L799.0,203.7 L800.0,204.8 L801.0,206.0 L802.0,207.4 L803.0,208.9 L804.0,210.5 L805.0,212.2 L806.0,214.0 L807.0,216.0 L808.0,218.1 L809.0,220.3 L810.0,222.6 L811.0,225.1 L812.0,227.6 L813.0,230.2 L814.0,233.0 L815.0,235.8 L816.0,238.7 L817.0,241.6 L818.0,244.7 L819.0,247.8 L820.0,250.9 L821.0,254.1 L822.0,257.4 L823.0,260.6 L824.0,263.9 L825.0,267.2 L826.0,270.5 L827.0,273.8 L828.0,277.1 L829.0,280.4 L830.0,283.6 L831.0,286.8 L832.0,289.9 L833.0,293.0 L834.0,296.0 L835.0,299.0 L836.0,301.8 L837.0,304.6 L838.0,307.3 L839.0,309.8 L840.0,312.3 L841.0,314.6 L842.0,316.7 L843.0,318.8 L844.0,320.7 L845.0,322.4 L846.0,324.0 L847.0,325.4 L848.0,326.7 L849.0,327.7 L850.0,328.6 L851.0,329.4 L852.0,329.9 L853.0,330.2 L854.0,330.4 L855.0,330.4 L856.0,330.2 L857.0,330.0 L858.0,329.6 L859.0,329.1 L860.0,328.5 L861.0,327.7 L862.0,326.9 L863.0,325.9 L864.0,324.8 L865.0,323.7 L866.0,322.4 L867.0,321.0 L868.0,319.4 L869.0,317.8 L870.0,316.1 L871.0,314.3 L872.0,312.5 L873.0,310.5 L874.0,308.4 L875.0,306.3 L876.0,304.1 L877.0,301.8 L878.0,299.5 L879.0,297.1 L880.0,294.6 L881.0,292.1 L882.0,289.5 L883.0,286.9 L884.0,284.2 L885.0,281.5 L886.0,278.8 L887.0,276.1 L888.0,273.3 L889.0,270.6 L890.0,267.8 L891.0,265.0 L892.0,262.2 L893.0,259.5 L894.0,256.7 L895.0,254.0 L896.0,251.3 L897.0,248.6 L898.0,245.9 L899.0,243.3 L900.0,240.7 L901.0,238.2 L902.0,235.7 L903.0,233.3 L904.0,231.0 L905.0,228.7 L906.0,226.5 L907.0,224.4 L908.0,222.3 L909.0,220.3 L910.0,218.5 L911.0,216.7 L912.0,215.0 L913.0,213.4 L914.0,211.8 L915.0,210.4 L916.0,209.1 L917.0,208.0 L918.0,206.9 L919.0,205.9 L920.0,205.1 L921.0,204.3 L922.0,203.7 L923.0,203.2 L924.0,202.8 L925.0,202.6 L926.0,202.4 L927.0,202.4 L928.0,202.5 L929.0,202.6 L930.0,202.8 L931.0,203.1 L932.0,203.6 L933.0,204.1 L934.0,204.7 L935.0,205.5 L936.0,206.3 L937.0,207.3 L938.0,208.4 L939.0,209.6 L940.0,210.9 L941.0,212.3 L942.0,213.8 L943.0,215.4 L944.0,217.0 L945.0,218.8 L946.0,220.6 L947.0,222.6 L948.0,224.5 L949.0,226.6 L950.0,228.7 L951.0,230.8 L952.0,232.9 L953.0,235.1 L954.0,237.3 L955.0,239.5 L956.0,241.7 L957.0,243.9 L958.0,246.0 L959.0,248.1 L960.0,250.2 L961.0,252.2 L962.0,254.1 L963.0,255.9 L964.0,257.7 L965.0,259.4 L966.0,261.0 L967.0,262.4 L968.0,263.8 L969.0,265.0 L970.0,266.0 L971.0,267.0 L972.0,267.8 L973.0,268.4 L974.0,268.9 L975.0,269.2 L976.0,269.4 L977.0,269.4 L978.0,269.3 L979.0,269.1 L980.0,268.8 L981.0,268.5 L982.0,268.0 L983.0,267.5 L984.0,266.8 L985.0,266.1 L986.0,265.3 L987.0,264.4 L988.0,263.4 L989.0,262.4 L990.0,261.3 L991.0,260.1 L992.0,258.8 L993.0,257.5 L994.0,256.1 L995.0,254.7 L996.0,253.2 L997.0,251.6 L998.0,250.0 L999.0,248.4 L1000.0,246.7 L1001.0,244.9 L1002.0,243.2 L1003.0,241.4 L1004.0,239.6 L1005.0,237.8 L1006.0,235.9 L1007.0,234.1 L1008.0,232.2 L1009.0,230.4 L1010.0,228.5 L1011.0,226.7 L1012.0,224.9 L1013.0,223.1 L1014.0,221.3 L1015.0,219.6 L1016.0,217.8 L1017.0,216.2 L1018.0,214.5 L1019.0,212.9 L1020.0,211.4 L1021.0,209.9 L1022.0,208.4 L1023.0,207.1 L1024.0,205.7 L1025.0,204.5 L1026.0,203.3 L1027.0,202.2 L1028.0,201.2 L1029.0,200.2 L1030.0,199.4 L1031.0,198.6 L1032.0,197.9 L1033.0,197.2 L1034.0,196.7 L1035.0,196.3 L1036.0,195.9 L1037.0,195.7 L1038.0,195.5 L1039.0,195.4 L1040.0,195.4 L1041.0,195.5 L1042.0,195.7 L1043.0,196.0 L1044.0,196.3 L1045.0,196.8 L1046.0,197.5 L1047.0,198.2 L1048.0,199.1 L1049.0,200.1 L1050.0,201.2 L1051.0,202.5 L1052.0,203.9 L1053.0,205.4 L1054.0,207.0 L1055.0,208.8 L1056.0,210.7 L1057.0,212.7 L1058.0,214.9 L1059.0,217.2 L1060.0,219.6 L1061.0,222.0 L1062.0,224.6 L1063.0,227.4 L1064.0,230.2 L1065.0,233.1 L1066.0,236.0 L1067.0,239.1 L1068.0,242.3 L1069.0,245.5 L1070.0,248.7 L1071.0,252.1 L1072.0,255.4 L1073.0,258.9 L1074.0,262.3 L1075.0,265.8 L1076.0,269.3 L1077.0,272.8 L1078.0,276.3 L1079.0,279.8 L1080.0,283.3 L1081.0,286.7 L1082.0,290.1 L1083.0,293.5 L1084.0,296.8 L1085.0,300.1 L1086.0,303.3 L1087.0,306.4 L1088.0,309.4 L1089.0,312.3 L1090.0,315.2 L1091.0,317.9 L1092.0,320.5 L1093.0,323.0 L1094.0,325.4 L1095.0,327.6 L1096.0,329.6 L1097.0,331.6 L1098.0,333.3 L1099.0,334.9 L1100.0,336.4 L1101.0,337.6 L1102.0,338.7 L1103.0,339.6 L1104.0,340.3 L1105.0,340.9 L1106.0,341.2 L1107.0,341.4 L1108.0,341.4 L1109.0,341.2 L1110.0,340.9 L1111.0,340.5 L1112.0,340.0 L1113.0,339.3 L1114.0,338.6 L1115.0,337.6 L1116.0,336.6 L1117.0,335.5 L1118.0,334.2 L1119.0,332.8 L1120.0,331.3 L1121.0,329.7 L1122.0,328.0 L1123.0,326.2 L1124.0,324.2 L1125.0,322.2 L1126.0,320.1 L1127.0,317.9 L1128.0,315.6 L1129.0,313.3 L1130.0,310.8 L1131.0,308.3 L1132.0,305.7 L1133.0,303.1 L1134.0,300.4 L1135.0,297.6 L1136.0,294.8 L1137.0,292.0 L1138.0,289.1 L1139.0,286.2 L1140.0,283.3 L1141.0,280.3 L1142.0,277.4 L1143.0,274.4 L1144.0,271.4 L1145.0,268.4 L1146.0,265.4 L1147.0,262.5 L1148.0,259.5 L1149.0,256.6 L1150.0,253.7 L1151.0,250.9 L1152.0,248.1 L1153.0,245.3 L1154.0,242.6 L1155.0,239.9 L1156.0,237.3 L1157.0,234.8 L1158.0,232.3 L1159.0,229.9 L1160.0,227.6 L1161.0,225.4 L1162.0,223.3 L1163.0,221.2 L1164.0,219.3 L1165.0,217.4 L1166.0,215.7 L1167.0,214.0 L1168.0,212.5 L1169.0,211.1 L1170.0,209.7 L1171.0,208.6 L1172.0,207.5 L1173.0,206.5 L1174.0,205.7 L1175.0,205.0 L1176.0,204.4 L1177.0,204.0 L1178.0,203.7 L1179.0,203.5 L1180.0,203.4 L1181.0,203.4 L1182.0,203.5 L1183.0,203.7 L1184.0,203.9 L1185.0,204.2 L1186.0,204.6 L1187.0,205.1 L1188.0,205.7 L1189.0,206.4 L1190.0,207.2 L1191.0,208.1 L1192.0,209.0 L1193.0,210.1 L1194.0,211.2 L1195.0,212.4 L1196.0,213.7 L1197.0,215.0 L1198.0,216.5 L1199.0,218.0 L1200.0,219.5 L1201.0,221.1 L1202.0,222.7 L1203.0,224.4 L1204.0,226.1 L1205.0,227.8 L1206.0,229.6 L1207.0,231.3 L1208.0,233.0 L1209.0,234.8 L1210.0,236.5 L1211.0,238.1 L1212.0,239.8 L1213.0,241.3 L1214.0,242.9 L1215.0,244.3 L1216.0,245.7 L1217.0,247.0 L1218.0,248.3 L1219.0,249.4 L1220.0,250.4 L1221.0,251.4 L1222.0,252.2 L1223.0,252.9 L1224.0,253.4 L1225.0,253.9 L1226.0,254.2 L1227.0,254.4 L1228.0,254.4 L1229.0,254.3 L1230.0,254.2 L1231.0,254.0 L1232.0,253.6 L1233.0,253.2 L1234.0,252.8 L1235.0,252.2 L1236.0,251.5 L1237.0,250.8 L1238.0,250.0 L1239.0,249.1 L1240.0,248.2 L1241.0,247.1 L1242.0,246.0 L1243.0,244.9 L1244.0,243.7 L1245.0,242.4 L1246.0,241.0 L1247.0,239.7 L1248.0,238.2 L1249.0,236.7 L1250.0,235.2 L1251.0,233.7 L1252.0,232.1 L1253.0,230.4 L1254.0,228.8 L1255.0,227.1 L1256.0,225.4 L1257.0,223.7 L1258.0,222.0 L1259.0,220.3 L1260.0,218.6 L1261.0,216.9 L1262.0,215.2 L1263.0,213.6 L1264.0,211.9 L1265.0,210.3 L1266.0,208.7 L1267.0,207.1 L1268.0,205.6 L1269.0,204.1 L1270.0,202.6 L1271.0,201.2 L1272.0,199.9 L1273.0,198.6 L1274.0,197.3 L1275.0,196.1 L1276.0,195.0 L1277.0,194.0 L1278.0,193.0 L1279.0,192.1 L1280.0,191.2 L1281.0,190.5 L1282.0,189.8 L1283.0,189.2 L1284.0,188.7 L1285.0,188.3 L1286.0,187.9 L1287.0,187.7 L1288.0,187.5 L1289.0,187.4 L1290.0,187.4 L1291.0,187.5 L1292.0,187.6 L1293.0,187.9 L1294.0,188.3 L1295.0,188.8 L1296.0,189.4 L1297.0,190.1 L1298.0,191.0 L1299.0,192.0 L1300.0,193.1 L1301.0,194.4 L1302.0,195.8 L1303.0,197.3 L1304.0,199.0 L1305.0,200.8 L1306.0,202.7 L1307.0,204.8 L1308.0,207.0 L1309.0,209.3 L1310.0,211.7 L1311.0,214.3 L1312.0,217.0 L1313.0,219.8 L1314.0,222.7 L1315.0,225.7 L1316.0,228.8 L1317.0,232.0 L1318.0,235.3 L1319.0,238.6 L1320.0,242.1 L1321.0,245.6 L1322.0,249.1 L1323.0,252.8 L1324.0,256.5 L1325.0,260.2 L1326.0,263.9 L1327.0,267.7 L1328.0,271.5 L1329.0,275.3 L1330.0,279.1 L1331.0,283.0 L1332.0,286.7 L1333.0,290.5 L1334.0,294.3 L1335.0,298.0 L1336.0,301.6 L1337.0,305.2 L1338.0,308.7 L1339.0,312.2 L1340.0,315.6 L1341.0,318.9 L1342.0,322.1 L1343.0,325.2 L1344.0,328.1 L1345.0,331.0 L1346.0,333.7 L1347.0,336.3 L1348.0,338.8 L1349.0,341.1 L1350.0,343.2 L1351.0,345.2 L1352.0,347.1 L1353.0,348.7 L1354.0,350.2 L1355.0,351.5 L1356.0,352.6 L1357.0,353.6 L1358.0,354.3 L1359.0,354.9 L1360.0,355.2 L1361.0,355.4 L1362.0,355.4 L1363.0,355.2 L1364.0,354.9 L1365.0,354.4 L1366.0,353.7 L1367.0,352.9 L1368.0,352.0 L1369.0,350.9 L1370.0,349.7 L1371.0,348.3 L1372.0,346.8 L1373.0,345.1 L1374.0,343.3 L1375.0,341.4 L1376.0,339.4 L1377.0,337.2 L1378.0,334.9 L1379.0,332.5 L1380.0,330.0 L1381.0,327.4 L1382.0,324.7 L1383.0,321.9 L1384.0,319.0 L1385.0,316.1 L1386.0,313.0 L1387.0,309.9 L1388.0,306.7 L1389.0,303.5 L1390.0,300.2 L1391.0,296.9 L1392.0,293.5 L1393.0,290.1 L1394.0,286.7 L1395.0,283.3 L1396.0,279.8 L1397.0,276.4 L1398.0,272.9 L1399.0,269.5 L1400.0,266.1 L1401.0,262.7 L1402.0,259.3 L1403.0,256.0 L1404.0,252.8 L1405.0,249.5 L1406.0,246.4 L1407.0,243.3 L1408.0,240.2 L1409.0,237.3 L1410.0,234.4 L1411.0,231.6 L1412.0,228.9 L1413.0,226.3 L1414.0,223.8 L1415.0,221.5 L1416.0,219.2 L1417.0,217.1 L1418.0,215.0 L1419.0,213.1 L1420.0,211.4 L1421.0,209.8 L1422.0,208.3 L1423.0,206.9 L1424.0,205.7 L1425.0,204.6 L1426.0,203.7 L1427.0,203.0 L1428.0,202.3 L1429.0,201.9 L1430.0,201.6 L1431.0,201.4 L1432.0,201.4 L1433.0,201.4 L1434.0,201.5 L1435.0,201.7 L1436.0,202.0 L1437.0,202.3 L1438.0,202.6 L1439.0,203.1 L1440.0,203.6 L1441.0,204.2 L1442.0,204.9 L1443.0,205.7 L1444.0,206.5 L1445.0,207.5 L1446.0,208.4 L1447.0,209.5 L1448.0,210.6 L1449.0,211.8 L1450.0,213.0 L1451.0,214.3 L1452.0,215.7 L1453.0,217.1 L1454.0,218.5 L1455.0,220.0 L1456.0,221.4 L1457.0,223.0 L1458.0,224.5 L1459.0,226.0 L1460.0,227.5 L1461.0,229.1 L1462.0,230.6 L1463.0,232.1 L1464.0,233.5 L1465.0,235.0 L1466.0,236.4 L1467.0,237.7 L1468.0,239.0 L1469.0,240.3 L1470.0,241.4 L1471.0,242.5 L1472.0,243.5 L1473.0,244.5 L1474.0,245.3 L1475.0,246.1 L1476.0,246.7 L1477.0,247.3 L1478.0,247.7 L1479.0,248.0 L1480.0,248.3 L1481.0,248.4 L1482.0,248.4 L1483.0,248.3 L1484.0,248.1 L1485.0,247.8 L1486.0,247.3 L1487.0,246.8 L1488.0,246.2 L1489.0,245.5 L1490.0,244.6 L1491.0,243.7 L1492.0,242.7 L1493.0,241.6 L1494.0,240.4 L1495.0,239.1 L1496.0,237.8 L1497.0,236.4 L1498.0,234.9 L1499.0,233.3 L1500.0,231.7 L1501.0,230.0 L1502.0,228.3 L1503.0,226.5 L1504.0,224.7 L1505.0,222.8 L1506.0,221.0 L1507.0,219.0 L1508.0,217.1 L1509.0,215.2 L1510.0,213.2 L1511.0,211.3 L1512.0,209.3 L1513.0,207.4 L1514.0,205.4 L1515.0,203.5 L1516.0,201.6 L1517.0,199.8 L1518.0,198.0 L1519.0,196.2 L1520.0,194.5 L1521.0,192.8 L1522.0,191.2 L1523.0,189.7 L1524.0,188.2 L1525.0,186.8 L1526.0,185.4 L1527.0,184.2 L1528.0,183.0 L1529.0,181.9 L1530.0,180.9 L1531.0,180.0 L1532.0,179.2 L1533.0,178.5 L1534.0,177.9 L1535.0,177.4 L1536.0,177.0 L1537.0,176.7 L1538.0,176.5 L1539.0,176.4 L1540.0,176.4 L1541.0,176.5 L1542.0,176.7 L1543.0,177.0 L1544.0,177.4 L1545.0,178.0 L1546.0,178.7 L1547.0,179.5 L1548.0,180.5 L1549.0,181.6 L1550.0,182.9 L1551.0,184.3 L1552.0,185.9 L1553.0,187.6 L1554.0,189.4 L1555.0,191.4 L1556.0,193.5 L1557.0,195.8 L1558.0,198.3 L1559.0,200.8 L1560.0,203.5 L1561.0,206.4 L1562.0,209.3 L1563.0,212.4 L1564.0,215.6 L1565.0,219.0 L1566.0,222.4 L1567.0,226.0 L1568.0,229.6 L1569.0,233.4 L1570.0,237.2 L1571.0,241.1 L1572.0,245.1 L1573.0,249.1 L1574.0,253.2 L1575.0,257.4 L1576.0,261.6 L1577.0,265.9 L1578.0,270.1 L1579.0,274.4 L1580.0,278.7 L1581.0,283.0 L1582.0,287.3 L1583.0,291.6 L1584.0,295.9 L1585.0,300.1 L1586.0,304.3 L1587.0,308.4 L1588.0,312.5 L1589.0,316.5 L1590.0,320.4 L1591.0,324.3 L1592.0,328.0 L1593.0,331.6 L1594.0,335.2 L1595.0,338.6 L1596.0,341.9 L1597.0,345.0 L1598.0,348.0 L1599.0,350.8 L1600.0,353.5 L1601.0,356.0 L1602.0,358.4 L1603.0,360.5 L1604.0,362.5 L1605.0,364.3 L1606.0,365.9 L1607.0,367.3 L1608.0,368.5 L1609.0,369.5 L1610.0,370.3 L1611.0,370.9 L1612.0,371.3 L1613.0,371.4 L1614.0,371.3 L1615.0,371.1 L1616.0,370.7 L1617.0,370.1 L1618.0,369.3 L1619.0,368.4 L1620.0,367.3 L1621.0,366.0 L1622.0,364.5 L1623.0,362.9 L1624.0,361.1 L1625.0,359.2 L1626.0,357.1 L1627.0,354.9 L1628.0,352.5 L1629.0,350.0 L1630.0,347.3 L1631.0,344.5 L1632.0,341.6 L1633.0,338.6 L1634.0,335.5 L1635.0,332.2 L1636.0,328.9 L1637.0,325.5 L1638.0,322.0 L1639.0,318.4 L1640.0,314.8 L1641.0,311.1 L1642.0,307.3 L1643.0,303.5 L1644.0,299.7 L1645.0,295.8 L1646.0,291.9 L1647.0,288.0 L1648.0,284.1 L1649.0,280.2 L1650.0,276.4 L1651.0,272.5 L1652.0,268.7 L1653.0,264.9 L1654.0,261.1 L1655.0,257.4 L1656.0,253.8 L1657.0,250.2 L1658.0,246.8 L1659.0,243.3 L1660.0,240.0 L1661.0,236.8 L1662.0,233.7 L1663.0,230.7 L1664.0,227.8 L1665.0,225.1 L1666.0,222.4 L1667.0,219.9 L1668.0,217.6 L1669.0,215.4 L1670.0,213.3 L1671.0,211.4 L1672.0,209.6 L1673.0,208.0 L1674.0,206.6 L1675.0,205.3 L1676.0,204.3 L1677.0,203.3 L1678.0,202.6 L1679.0,202.0 L1680.0,201.6 L1681.0,201.4 L1682.0,201.4 L1683.0,201.4 L1684.0,201.5 L1685.0,201.7 L1686.0,201.9 L1687.0,202.2 L1688.0,202.5 L1689.0,203.0 L1690.0,203.5 L1691.0,204.1 L1692.0,204.7 L1693.0,205.5 L1694.0,206.3 L1695.0,207.2 L1696.0,208.1 L1697.0,209.2 L1698.0,210.3 L1699.0,211.4 L1700.0,212.6 L1701.0,213.9 L1702.0,215.2 L1703.0,216.6 L1704.0,218.0 L1705.0,219.5 L1706.0,220.9 L1707.0,222.4 L1708.0,224.0 L1709.0,225.5 L1710.0,227.1 L1711.0,228.6 L1712.0,230.2 L1713.0,231.7 L1714.0,233.2 L1715.0,234.7 L1716.0,236.2 L1717.0,237.6 L1718.0,239.0 L1719.0,240.3 L1720.0,241.5 L1721.0,242.7 L1722.0,243.9 L1723.0,244.9 L1724.0,245.9 L1725.0,246.8 L1726.0,247.6 L1727.0,248.3 L1728.0,248.9 L1729.0,249.4 L1730.0,249.8 L1731.0,250.1 L1732.0,250.3 L1733.0,250.4 L1734.0,250.4 L1735.0,250.2 L1736.0,249.9 L1737.0,249.5 L1738.0,249.0 L1739.0,248.4 L1740.0,247.7 L1741.0,246.8 L1742.0,245.9 L1743.0,244.9 L1744.0,243.7 L1745.0,242.5 L1746.0,241.1 L1747.0,239.7 L1748.0,238.2 L1749.0,236.6 L1750.0,234.9 L1751.0,233.2 L1752.0,231.4 L1753.0,229.5" fill="none" stroke="#2581ca" stroke-width="2.9" stroke-linejoin="round"/>
</g>
<rect x="70" y="229.05871204259492" width="2" height="175.94128795740508" fill="#1f7bc6" />
<rect x="70" y="404.5" width="1682" height="2" fill="#2a84cc" />
<circle cx="106.3" cy="307.4" r="4.2" fill="#15808e" stroke="#ffffff" stroke-width="1.3"/>
<circle cx="166.0" cy="173.4" r="4.2" fill="#3d97dc" stroke="#ffffff" stroke-width="1.3"/>
<circle cx="232.7" cy="334.4" r="4.2" fill="#15808e" stroke="#ffffff" stroke-width="1.3"/>
<circle cx="294.5" cy="201.4" r="4.2" fill="#3d97dc" stroke="#ffffff" stroke-width="1.3"/>
<circle cx="354.3" cy="315.4" r="4.2" fill="#15808e" stroke="#ffffff" stroke-width="1.3"/>
<circle cx="417.2" cy="185.4" r="4.2" fill="#3d97dc" stroke="#ffffff" stroke-width="1.3"/>
<circle cx="479.8" cy="312.4" r="4.2" fill="#15808e" stroke="#ffffff" stroke-width="1.3"/>
<circle cx="541.5" cy="201.4" r="4.2" fill="#3d97dc" stroke="#ffffff" stroke-width="1.3"/>
<circle cx="603.5" cy="322.4" r="4.2" fill="#15808e" stroke="#ffffff" stroke-width="1.3"/>
<circle cx="671.5" cy="197.4" r="4.2" fill="#3d97dc" stroke="#ffffff" stroke-width="1.3"/>
<circle cx="727.7" cy="290.4" r="4.2" fill="#15808e" stroke="#ffffff" stroke-width="1.3"/>
<circle cx="789.7" cy="199.4" r="4.2" fill="#3d97dc" stroke="#ffffff" stroke-width="1.3"/>
<circle cx="854.3" cy="330.4" r="4.2" fill="#15808e" stroke="#ffffff" stroke-width="1.3"/>
<circle cx="926.7" cy="202.4" r="4.2" fill="#3d97dc" stroke="#ffffff" stroke-width="1.3"/>
<circle cx="976.5" cy="269.4" r="4.2" fill="#15808e" stroke="#ffffff" stroke-width="1.3"/>
<circle cx="1039.3" cy="195.4" r="4.2" fill="#3d97dc" stroke="#ffffff" stroke-width="1.3"/>
<circle cx="1107.3" cy="341.4" r="4.2" fill="#15808e" stroke="#ffffff" stroke-width="1.3"/>
<circle cx="1180.0" cy="203.4" r="4.2" fill="#3d97dc" stroke="#ffffff" stroke-width="1.3"/>
<circle cx="1227.8" cy="254.4" r="4.2" fill="#15808e" stroke="#ffffff" stroke-width="1.3"/>
<circle cx="1289.5" cy="187.4" r="4.2" fill="#3d97dc" stroke="#ffffff" stroke-width="1.3"/>
<circle cx="1361.3" cy="355.4" r="4.2" fill="#15808e" stroke="#ffffff" stroke-width="1.3"/>
<circle cx="1431.5" cy="201.4" r="4.2" fill="#3d97dc" stroke="#ffffff" stroke-width="1.3"/>
<circle cx="1481.5" cy="248.4" r="4.2" fill="#15808e" stroke="#ffffff" stroke-width="1.3"/>
<circle cx="1539.3" cy="176.4" r="4.2" fill="#3d97dc" stroke="#ffffff" stroke-width="1.3"/>
<circle cx="1613.2" cy="371.4" r="4.2" fill="#15808e" stroke="#ffffff" stroke-width="1.3"/>
<circle cx="1681.7" cy="201.4" r="4.2" fill="#3d97dc" stroke="#ffffff" stroke-width="1.3"/>
<circle cx="1733.2" cy="250.4" r="4.2" fill="#15808e" stroke="#ffffff" stroke-width="1.3"/>
<line x1="69.5" y1="121" x2="69.5" y2="407" stroke="#777" stroke-width="1" />
<rect x="0" y="406.5" width="1752" height="2.3" fill="#2d4d6c" />
<rect x="70" y="408.8" width="1682" height="58.2" fill="#f3f8fd" />
<rect x="70" y="467" width="1682" height="59" fill="#ffffff" />
<line x1="0" y1="467.5" x2="1752" y2="467.5" stroke="#e9eef3" stroke-width="1" />
<text x="35" y="434.2" font-size="14" fill="#4479b7" font-weight="bold" text-anchor="middle" >HIGH</text>
<text x="35" y="449.6" font-size="14" fill="#333" font-weight="normal" text-anchor="middle" >(ACST)</text>
<text x="35" y="493" font-size="14" fill="#14868f" font-weight="bold" text-anchor="middle" >LOW</text>
<text x="35" y="508.4" font-size="14" fill="#333" font-weight="normal" text-anchor="middle" >(ACST)</text>
<text x="160.0" y="428" font-size="12.3" fill="#4479b7" font-weight="bold" text-anchor="middle" letter-spacing="0.7">9:24AM</text>
<text x="160.0" y="441.8" font-size="12.3" fill="#333" font-weight="normal" text-anchor="middle" >2.45m</text>
<text x="160.0" y="455.7" font-size="12.3" fill="#333" font-weight="normal" text-anchor="middle" >(8.04ft)</text>
<text x="280.0" y="428" font-size="12.3" fill="#4479b7" font-weight="bold" text-anchor="middle" letter-spacing="0.7">10:15PM</text>
<text x="280.0" y="441.8" font-size="12.3" fill="#333" font-weight="normal" text-anchor="middle" >2.17m</text>
<text x="280.0" y="455.7" font-size="12.3" fill="#333" font-weight="normal" text-anchor="middle" >(7.12ft)</text>
<text x="400.0" y="428" font-size="12.3" fill="#4479b7" font-weight="bold" text-anchor="middle" letter-spacing="0.7">10:31AM</text>
<text x="400.0" y="441.8" font-size="12.3" fill="#333" font-weight="normal" text-anchor="middle" >2.33m</text>
<text x="400.0" y="455.7" font-size="12.3" fill="#333" font-weight="normal" text-anchor="middle" >(7.64ft)</text>
<text x="520.0" y="428" font-size="12.3" fill="#4479b7" font-weight="bold" text-anchor="middle" letter-spacing="0.7">10:57PM</text>
<text x="520.0" y="441.8" font-size="12.3" fill="#333" font-weight="normal" text-anchor="middle" >2.17m</text>
<text x="520.0" y="455.7" font-size="12.3" fill="#333" font-weight="normal" text-anchor="middle" >(7.12ft)</text>
<text x="640.0" y="428" font-size="12.3" fill="#4479b7" font-weight="bold" text-anchor="middle" letter-spacing="0.7">11:57AM</text>
<text x="640.0" y="441.8" font-size="12.3" fill="#333" font-weight="normal" text-anchor="middle" >2.21m</text>
<text x="640.0" y="455.7" font-size="12.3" fill="#333" font-weight="normal" text-anchor="middle" >(7.25ft)</text>
<text x="760.0" y="428" font-size="12.3" fill="#4479b7" font-weight="bold" text-anchor="middle" letter-spacing="0.7">11:46PM</text>
<text x="760.0" y="441.8" font-size="12.3" fill="#333" font-weight="normal" text-anchor="middle" >2.19m</text>
<text x="760.0" y="455.7" font-size="12.3" fill="#333" font-weight="normal" text-anchor="middle" >(7.19ft)</text>
<text x="940.0" y="428" font-size="12.3" fill="#4479b7" font-weight="bold" text-anchor="middle" letter-spacing="0.7">1:28PM</text>
<text x="940.0" y="441.8" font-size="12.3" fill="#333" font-weight="normal" text-anchor="middle" >2.16m</text>
<text x="940.0" y="455.7" font-size="12.3" fill="#333" font-weight="normal" text-anchor="middle" >(7.09ft)</text>
<text x="1062.5" y="428" font-size="12.3" fill="#4479b7" font-weight="bold" text-anchor="middle" letter-spacing="0.7">00:44AM</text>
<text x="1062.5" y="441.8" font-size="12.3" fill="#333" font-weight="normal" text-anchor="middle" >2.23m</text>
<text x="1062.5" y="455.7" font-size="12.3" fill="#333" font-weight="normal" text-anchor="middle" >(7.32ft)</text>
<text x="1185.0" y="428" font-size="12.3" fill="#4479b7" font-weight="bold" text-anchor="middle" letter-spacing="0.7">2:48PM</text>
<text x="1185.0" y="441.8" font-size="12.3" fill="#333" font-weight="normal" text-anchor="middle" >2.15m</text>
<text x="1185.0" y="455.7" font-size="12.3" fill="#333" font-weight="normal" text-anchor="middle" >(7.05ft)</text>
<text x="1305.0" y="428" font-size="12.3" fill="#4479b7" font-weight="bold" text-anchor="middle" letter-spacing="0.7">1:45AM</text>
<text x="1305.0" y="441.8" font-size="12.3" fill="#333" font-weight="normal" text-anchor="middle" >2.31m</text>
<text x="1305.0" y="455.7" font-size="12.3" fill="#333" font-weight="normal" text-anchor="middle" >(7.58ft)</text>
<text x="1425.0" y="428" font-size="12.3" fill="#4479b7" font-weight="bold" text-anchor="middle" letter-spacing="0.7">3:57PM</text>
<text x="1425.0" y="441.8" font-size="12.3" fill="#333" font-weight="normal" text-anchor="middle" >2.17m</text>
<text x="1425.0" y="455.7" font-size="12.3" fill="#333" font-weight="normal" text-anchor="middle" >(7.12ft)</text>
<text x="1545.0" y="428" font-size="12.3" fill="#4479b7" font-weight="bold" text-anchor="middle" letter-spacing="0.7">2:44AM</text>
<text x="1545.0" y="441.8" font-size="12.3" fill="#333" font-weight="normal" text-anchor="middle" >2.42m</text>
<text x="1545.0" y="455.7" font-size="12.3" fill="#333" font-weight="normal" text-anchor="middle" >(7.94ft)</text>
<text x="1665.0" y="428" font-size="12.3" fill="#4479b7" font-weight="bold" text-anchor="middle" letter-spacing="0.7">4:58PM</text>
<text x="1665.0" y="441.8" font-size="12.3" fill="#333" font-weight="normal" text-anchor="middle" >2.17m</text>
<text x="1665.0" y="455.7" font-size="12.3" fill="#333" font-weight="normal" text-anchor="middle" >(7.12ft)</text>
<text x="100.0" y="487" font-size="12.3" fill="#14868f" font-weight="bold" text-anchor="middle" letter-spacing="0.7">3:26AM</text>
<text x="100.0" y="500.6" font-size="12.3" fill="#333" font-weight="normal" text-anchor="middle" >1.11m</text>
<text x="100.0" y="514.4" font-size="12.3" fill="#333" font-weight="normal" text-anchor="middle" >(3.64ft)</text>
<text x="220.0" y="487" font-size="12.3" fill="#14868f" font-weight="bold" text-anchor="middle" letter-spacing="0.7">4:04PM</text>
<text x="220.0" y="500.6" font-size="12.3" fill="#333" font-weight="normal" text-anchor="middle" >0.84m</text>
<text x="220.0" y="514.4" font-size="12.3" fill="#333" font-weight="normal" text-anchor="middle" >(2.76ft)</text>
<text x="340.0" y="487" font-size="12.3" fill="#14868f" font-weight="bold" text-anchor="middle" letter-spacing="0.7">4:14AM</text>
<text x="340.0" y="500.6" font-size="12.3" fill="#333" font-weight="normal" text-anchor="middle" >1.03m</text>
<text x="340.0" y="514.4" font-size="12.3" fill="#333" font-weight="normal" text-anchor="middle" >(3.38ft)</text>
<text x="460.0" y="487" font-size="12.3" fill="#14868f" font-weight="bold" text-anchor="middle" letter-spacing="0.7">4:47PM</text>
<text x="460.0" y="500.6" font-size="12.3" fill="#333" font-weight="normal" text-anchor="middle" >1.06m</text>
<text x="460.0" y="514.4" font-size="12.3" fill="#333" font-weight="normal" text-anchor="middle" >(3.48ft)</text>
<text x="580.0" y="487" font-size="12.3" fill="#14868f" font-weight="bold" text-anchor="middle" letter-spacing="0.7">5:09AM</text>
<text x="580.0" y="500.6" font-size="12.3" fill="#333" font-weight="normal" text-anchor="middle" >0.96m</text>
<text x="580.0" y="514.4" font-size="12.3" fill="#333" font-weight="normal" text-anchor="middle" >(3.15ft)</text>
<text x="700.0" y="487" font-size="12.3" fill="#14868f" font-weight="bold" text-anchor="middle" letter-spacing="0.7">5:34PM</text>
<text x="700.0" y="500.6" font-size="12.3" fill="#333" font-weight="normal" text-anchor="middle" >1.28m</text>
<text x="700.0" y="514.4" font-size="12.3" fill="#333" font-weight="normal" text-anchor="middle" >(4.2ft)</text>
<text x="880.0" y="487" font-size="12.3" fill="#14868f" font-weight="bold" text-anchor="middle" letter-spacing="0.7">6:14AM</text>
<text x="880.0" y="500.6" font-size="12.3" fill="#333" font-weight="normal" text-anchor="middle" >0.88m</text>
<text x="880.0" y="514.4" font-size="12.3" fill="#333" font-weight="normal" text-anchor="middle" >(2.89ft)</text>
<text x="1000.0" y="487" font-size="12.3" fill="#14868f" font-weight="bold" text-anchor="middle" letter-spacing="0.7">6:27PM</text>
<text x="1000.0" y="500.6" font-size="12.3" fill="#333" font-weight="normal" text-anchor="middle" >1.49m</text>
<text x="1000.0" y="514.4" font-size="12.3" fill="#333" font-weight="normal" text-anchor="middle" >(4.89ft)</text>
<text x="1125.0" y="487" font-size="12.3" fill="#14868f" font-weight="bold" text-anchor="middle" letter-spacing="0.7">7:32AM</text>
<text x="1125.0" y="500.6" font-size="12.3" fill="#333" font-weight="normal" text-anchor="middle" >0.77m</text>
<text x="1125.0" y="514.4" font-size="12.3" fill="#333" font-weight="normal" text-anchor="middle" >(2.53ft)</text>
<text x="1245.0" y="487" font-size="12.3" fill="#14868f" font-weight="bold" text-anchor="middle" letter-spacing="0.7">7:35PM</text>
<text x="1245.0" y="500.6" font-size="12.3" fill="#333" font-weight="normal" text-anchor="middle" >1.64m</text>
<text x="1245.0" y="514.4" font-size="12.3" fill="#333" font-weight="normal" text-anchor="middle" >(5.38ft)</text>
<text x="1365.0" y="487" font-size="12.3" fill="#14868f" font-weight="bold" text-anchor="middle" letter-spacing="0.7">8:56AM</text>
<text x="1365.0" y="500.6" font-size="12.3" fill="#333" font-weight="normal" text-anchor="middle" >0.63m</text>
<text x="1365.0" y="514.4" font-size="12.3" fill="#333" font-weight="normal" text-anchor="middle" >(2.07ft)</text>
<text x="1485.0" y="487" font-size="12.3" fill="#14868f" font-weight="bold" text-anchor="middle" letter-spacing="0.7">8:57PM</text>
<text x="1485.0" y="500.6" font-size="12.3" fill="#333" font-weight="normal" text-anchor="middle" >1.70m</text>
<text x="1485.0" y="514.4" font-size="12.3" fill="#333" font-weight="normal" text-anchor="middle" >(5.58ft)</text>
<text x="1605.0" y="487" font-size="12.3" fill="#14868f" font-weight="bold" text-anchor="middle" letter-spacing="0.7">10:07AM</text>
<text x="1605.0" y="500.6" font-size="12.3" fill="#333" font-weight="normal" text-anchor="middle" >0.47m</text>
<text x="1605.0" y="514.4" font-size="12.3" fill="#333" font-weight="normal" text-anchor="middle" >(1.54ft)</text>
<text x="1725.0" y="487" font-size="12.3" fill="#14868f" font-weight="bold" text-anchor="middle" letter-spacing="0.7">10:07PM</text>
<text x="1725.0" y="500.6" font-size="12.3" fill="#333" font-weight="normal" text-anchor="middle" >1.68m</text>
<text x="1725.0" y="514.4" font-size="12.3" fill="#333" font-weight="normal" text-anchor="middle" >(5.51ft)</text>
<rect x="0" y="526" width="1752" height="2" fill="#2d4d6c" />
<rect x="0" y="528" width="1752" height="45" fill="#fdfdf0" />
<rect x="250" y="528" width="60" height="45" fill="#ececec" />
<rect x="490" y="528" width="60" height="45" fill="#ececec" />
<rect x="730" y="528" width="60" height="45" fill="#ececec" />
<rect x="970" y="528" width="60" height="45" fill="#ececec" />
<rect x="1215" y="528" width="60" height="45" fill="#ececec" />
<rect x="1455" y="528" width="60" height="45" fill="#ececec" />
<rect x="1695" y="528" width="60" height="45" fill="#ececec" />
<path d="M154.2,544.2 A5.8,5.8 0 0 1 165.8,544.2" fill="none" stroke="#2a2a2a" stroke-width="1.3"/><line x1="160.0" y1="534.2" x2="160.0" y2="536.7" stroke="#2a2a2a" stroke-width="1.3"/><line x1="152.9" y1="536.8" x2="154.7" y2="538.7" stroke="#2a2a2a" stroke-width="1.3"/><line x1="167.1" y1="536.8" x2="165.3" y2="538.7" stroke="#2a2a2a" stroke-width="1.3"/><line x1="150.2" y1="543.8" x2="152.7" y2="543.8" stroke="#555" stroke-width="1.3"/><line x1="167.3" y1="543.8" x2="169.8" y2="543.8" stroke="#555" stroke-width="1.3"/><path d="M150.2,546.9 H156.6 L160.0,544.3 L163.4,546.9 H169.8" fill="none" stroke="#4a4a4a" stroke-width="1.5"/>
<text x="160.0" y="564.7" font-size="12" fill="#333" font-weight="normal" text-anchor="middle" >6:12AM</text>
<path d="M274.2,544.2 A5.8,5.8 0 0 1 285.8,544.2" fill="none" stroke="#2a2a2a" stroke-width="1.3"/><line x1="280.0" y1="534.2" x2="280.0" y2="536.7" stroke="#2a2a2a" stroke-width="1.3"/><line x1="272.9" y1="536.8" x2="274.7" y2="538.7" stroke="#2a2a2a" stroke-width="1.3"/><line x1="287.1" y1="536.8" x2="285.3" y2="538.7" stroke="#2a2a2a" stroke-width="1.3"/><line x1="270.2" y1="543.8" x2="272.7" y2="543.8" stroke="#555" stroke-width="1.3"/><line x1="287.3" y1="543.8" x2="289.8" y2="543.8" stroke="#555" stroke-width="1.3"/><path d="M270.2,546.9 H276.6 L280.0,549.5 L283.4,546.9 H289.8" fill="none" stroke="#4a4a4a" stroke-width="1.5"/>
<text x="280.0" y="564.7" font-size="12" fill="#333" font-weight="normal" text-anchor="middle" >7:00PM</text>
<path d="M394.2,544.2 A5.8,5.8 0 0 1 405.8,544.2" fill="none" stroke="#2a2a2a" stroke-width="1.3"/><line x1="400.0" y1="534.2" x2="400.0" y2="536.7" stroke="#2a2a2a" stroke-width="1.3"/><line x1="392.9" y1="536.8" x2="394.7" y2="538.7" stroke="#2a2a2a" stroke-width="1.3"/><line x1="407.1" y1="536.8" x2="405.3" y2="538.7" stroke="#2a2a2a" stroke-width="1.3"/><line x1="390.2" y1="543.8" x2="392.7" y2="543.8" stroke="#555" stroke-width="1.3"/><line x1="407.3" y1="543.8" x2="409.8" y2="543.8" stroke="#555" stroke-width="1.3"/><path d="M390.2,546.9 H396.6 L400.0,544.3 L403.4,546.9 H409.8" fill="none" stroke="#4a4a4a" stroke-width="1.5"/>
<text x="400.0" y="564.7" font-size="12" fill="#333" font-weight="normal" text-anchor="middle" >6:13AM</text>
<path d="M514.2,544.2 A5.8,5.8 0 0 1 525.8,544.2" fill="none" stroke="#2a2a2a" stroke-width="1.3"/><line x1="520.0" y1="534.2" x2="520.0" y2="536.7" stroke="#2a2a2a" stroke-width="1.3"/><line x1="512.9" y1="536.8" x2="514.7" y2="538.7" stroke="#2a2a2a" stroke-width="1.3"/><line x1="527.1" y1="536.8" x2="525.3" y2="538.7" stroke="#2a2a2a" stroke-width="1.3"/><line x1="510.2" y1="543.8" x2="512.7" y2="543.8" stroke="#555" stroke-width="1.3"/><line x1="527.3" y1="543.8" x2="529.8" y2="543.8" stroke="#555" stroke-width="1.3"/><path d="M510.2,546.9 H516.6 L520.0,549.5 L523.4,546.9 H529.8" fill="none" stroke="#4a4a4a" stroke-width="1.5"/>
<text x="520.0" y="564.7" font-size="12" fill="#333" font-weight="normal" text-anchor="middle" >7:01PM</text>
<path d="M634.2,544.2 A5.8,5.8 0 0 1 645.8,544.2" fill="none" stroke="#2a2a2a" stroke-width="1.3"/><line x1="640.0" y1="534.2" x2="640.0" y2="536.7" stroke="#2a2a2a" stroke-width="1.3"/><line x1="632.9" y1="536.8" x2="634.7" y2="538.7" stroke="#2a2a2a" stroke-width="1.3"/><line x1="647.1" y1="536.8" x2="645.3" y2="538.7" stroke="#2a2a2a" stroke-width="1.3"/><line x1="630.2" y1="543.8" x2="632.7" y2="543.8" stroke="#555" stroke-width="1.3"/><line x1="647.3" y1="543.8" x2="649.8" y2="543.8" stroke="#555" stroke-width="1.3"/><path d="M630.2,546.9 H636.6 L640.0,544.3 L643.4,546.9 H649.8" fill="none" stroke="#4a4a4a" stroke-width="1.5"/>
<text x="640.0" y="564.7" font-size="12" fill="#333" font-weight="normal" text-anchor="middle" >6:13AM</text>
<path d="M754.2,544.2 A5.8,5.8 0 0 1 765.8,544.2" fill="none" stroke="#2a2a2a" stroke-width="1.3"/><line x1="760.0" y1="534.2" x2="760.0" y2="536.7" stroke="#2a2a2a" stroke-width="1.3"/><line x1="752.9" y1="536.8" x2="754.7" y2="538.7" stroke="#2a2a2a" stroke-width="1.3"/><line x1="767.1" y1="536.8" x2="765.3" y2="538.7" stroke="#2a2a2a" stroke-width="1.3"/><line x1="750.2" y1="543.8" x2="752.7" y2="543.8" stroke="#555" stroke-width="1.3"/><line x1="767.3" y1="543.8" x2="769.8" y2="543.8" stroke="#555" stroke-width="1.3"/><path d="M750.2,546.9 H756.6 L760.0,549.5 L763.4,546.9 H769.8" fill="none" stroke="#4a4a4a" stroke-width="1.5"/>
<text x="760.0" y="564.7" font-size="12" fill="#333" font-weight="normal" text-anchor="middle" >7:01PM</text>
<path d="M874.2,544.2 A5.8,5.8 0 0 1 885.8,544.2" fill="none" stroke="#2a2a2a" stroke-width="1.3"/><line x1="880.0" y1="534.2" x2="880.0" y2="536.7" stroke="#2a2a2a" stroke-width="1.3"/><line x1="872.9" y1="536.8" x2="874.7" y2="538.7" stroke="#2a2a2a" stroke-width="1.3"/><line x1="887.1" y1="536.8" x2="885.3" y2="538.7" stroke="#2a2a2a" stroke-width="1.3"/><line x1="870.2" y1="543.8" x2="872.7" y2="543.8" stroke="#555" stroke-width="1.3"/><line x1="887.3" y1="543.8" x2="889.8" y2="543.8" stroke="#555" stroke-width="1.3"/><path d="M870.2,546.9 H876.6 L880.0,544.3 L883.4,546.9 H889.8" fill="none" stroke="#4a4a4a" stroke-width="1.5"/>
<text x="880.0" y="564.7" font-size="12" fill="#333" font-weight="normal" text-anchor="middle" >6:14AM</text>
<path d="M994.2,544.2 A5.8,5.8 0 0 1 1005.8,544.2" fill="none" stroke="#2a2a2a" stroke-width="1.3"/><line x1="1000.0" y1="534.2" x2="1000.0" y2="536.7" stroke="#2a2a2a" stroke-width="1.3"/><line x1="992.9" y1="536.8" x2="994.7" y2="538.7" stroke="#2a2a2a" stroke-width="1.3"/><line x1="1007.1" y1="536.8" x2="1005.3" y2="538.7" stroke="#2a2a2a" stroke-width="1.3"/><line x1="990.2" y1="543.8" x2="992.7" y2="543.8" stroke="#555" stroke-width="1.3"/><line x1="1007.3" y1="543.8" x2="1009.8" y2="543.8" stroke="#555" stroke-width="1.3"/><path d="M990.2,546.9 H996.6 L1000.0,549.5 L1003.4,546.9 H1009.8" fill="none" stroke="#4a4a4a" stroke-width="1.5"/>
<text x="1000.0" y="564.7" font-size="12" fill="#333" font-weight="normal" text-anchor="middle" >7:02PM</text>
<path d="M1119.2,544.2 A5.8,5.8 0 0 1 1130.8,544.2" fill="none" stroke="#2a2a2a" stroke-width="1.3"/><line x1="1125.0" y1="534.2" x2="1125.0" y2="536.7" stroke="#2a2a2a" stroke-width="1.3"/><line x1="1117.9" y1="536.8" x2="1119.7" y2="538.7" stroke="#2a2a2a" stroke-width="1.3"/><line x1="1132.1" y1="536.8" x2="1130.3" y2="538.7" stroke="#2a2a2a" stroke-width="1.3"/><line x1="1115.2" y1="543.8" x2="1117.7" y2="543.8" stroke="#555" stroke-width="1.3"/><line x1="1132.3" y1="543.8" x2="1134.8" y2="543.8" stroke="#555" stroke-width="1.3"/><path d="M1115.2,546.9 H1121.6 L1125.0,544.3 L1128.4,546.9 H1134.8" fill="none" stroke="#4a4a4a" stroke-width="1.5"/>
<text x="1125.0" y="564.7" font-size="12" fill="#333" font-weight="normal" text-anchor="middle" >6:14AM</text>
<path d="M1239.2,544.2 A5.8,5.8 0 0 1 1250.8,544.2" fill="none" stroke="#2a2a2a" stroke-width="1.3"/><line x1="1245.0" y1="534.2" x2="1245.0" y2="536.7" stroke="#2a2a2a" stroke-width="1.3"/><line x1="1237.9" y1="536.8" x2="1239.7" y2="538.7" stroke="#2a2a2a" stroke-width="1.3"/><line x1="1252.1" y1="536.8" x2="1250.3" y2="538.7" stroke="#2a2a2a" stroke-width="1.3"/><line x1="1235.2" y1="543.8" x2="1237.7" y2="543.8" stroke="#555" stroke-width="1.3"/><line x1="1252.3" y1="543.8" x2="1254.8" y2="543.8" stroke="#555" stroke-width="1.3"/><path d="M1235.2,546.9 H1241.6 L1245.0,549.5 L1248.4,546.9 H1254.8" fill="none" stroke="#4a4a4a" stroke-width="1.5"/>
<text x="1245.0" y="564.7" font-size="12" fill="#333" font-weight="normal" text-anchor="middle" >7:02PM</text>
<path d="M1359.2,544.2 A5.8,5.8 0 0 1 1370.8,544.2" fill="none" stroke="#2a2a2a" stroke-width="1.3"/><line x1="1365.0" y1="534.2" x2="1365.0" y2="536.7" stroke="#2a2a2a" stroke-width="1.3"/><line x1="1357.9" y1="536.8" x2="1359.7" y2="538.7" stroke="#2a2a2a" stroke-width="1.3"/><line x1="1372.1" y1="536.8" x2="1370.3" y2="538.7" stroke="#2a2a2a" stroke-width="1.3"/><line x1="1355.2" y1="543.8" x2="1357.7" y2="543.8" stroke="#555" stroke-width="1.3"/><line x1="1372.3" y1="543.8" x2="1374.8" y2="543.8" stroke="#555" stroke-width="1.3"/><path d="M1355.2,546.9 H1361.6 L1365.0,544.3 L1368.4,546.9 H1374.8" fill="none" stroke="#4a4a4a" stroke-width="1.5"/>
<text x="1365.0" y="564.7" font-size="12" fill="#333" font-weight="normal" text-anchor="middle" >6:15AM</text>
<path d="M1479.2,544.2 A5.8,5.8 0 0 1 1490.8,544.2" fill="none" stroke="#2a2a2a" stroke-width="1.3"/><line x1="1485.0" y1="534.2" x2="1485.0" y2="536.7" stroke="#2a2a2a" stroke-width="1.3"/><line x1="1477.9" y1="536.8" x2="1479.7" y2="538.7" stroke="#2a2a2a" stroke-width="1.3"/><line x1="1492.1" y1="536.8" x2="1490.3" y2="538.7" stroke="#2a2a2a" stroke-width="1.3"/><line x1="1475.2" y1="543.8" x2="1477.7" y2="543.8" stroke="#555" stroke-width="1.3"/><line x1="1492.3" y1="543.8" x2="1494.8" y2="543.8" stroke="#555" stroke-width="1.3"/><path d="M1475.2,546.9 H1481.6 L1485.0,549.5 L1488.4,546.9 H1494.8" fill="none" stroke="#4a4a4a" stroke-width="1.5"/>
<text x="1485.0" y="564.7" font-size="12" fill="#333" font-weight="normal" text-anchor="middle" >7:02PM</text>
<path d="M1599.2,544.2 A5.8,5.8 0 0 1 1610.8,544.2" fill="none" stroke="#2a2a2a" stroke-width="1.3"/><line x1="1605.0" y1="534.2" x2="1605.0" y2="536.7" stroke="#2a2a2a" stroke-width="1.3"/><line x1="1597.9" y1="536.8" x2="1599.7" y2="538.7" stroke="#2a2a2a" stroke-width="1.3"/><line x1="1612.1" y1="536.8" x2="1610.3" y2="538.7" stroke="#2a2a2a" stroke-width="1.3"/><line x1="1595.2" y1="543.8" x2="1597.7" y2="543.8" stroke="#555" stroke-width="1.3"/><line x1="1612.3" y1="543.8" x2="1614.8" y2="543.8" stroke="#555" stroke-width="1.3"/><path d="M1595.2,546.9 H1601.6 L1605.0,544.3 L1608.4,546.9 H1614.8" fill="none" stroke="#4a4a4a" stroke-width="1.5"/>
<text x="1605.0" y="564.7" font-size="12" fill="#333" font-weight="normal" text-anchor="middle" >6:15AM</text>
<path d="M1719.2,544.2 A5.8,5.8 0 0 1 1730.8,544.2" fill="none" stroke="#2a2a2a" stroke-width="1.3"/><line x1="1725.0" y1="534.2" x2="1725.0" y2="536.7" stroke="#2a2a2a" stroke-width="1.3"/><line x1="1717.9" y1="536.8" x2="1719.7" y2="538.7" stroke="#2a2a2a" stroke-width="1.3"/><line x1="1732.1" y1="536.8" x2="1730.3" y2="538.7" stroke="#2a2a2a" stroke-width="1.3"/><line x1="1715.2" y1="543.8" x2="1717.7" y2="543.8" stroke="#555" stroke-width="1.3"/><line x1="1732.3" y1="543.8" x2="1734.8" y2="543.8" stroke="#555" stroke-width="1.3"/><path d="M1715.2,546.9 H1721.6 L1725.0,549.5 L1728.4,546.9 H1734.8" fill="none" stroke="#4a4a4a" stroke-width="1.5"/>
<text x="1725.0" y="564.7" font-size="12" fill="#333" font-weight="normal" text-anchor="middle" >7:03PM</text>
<path d="M31.2,541 L35,535.3 L38.8,541 Z" fill="#111"/>
<path d="M31.2,557.8 L35,563.6 L38.8,557.8 Z" fill="#111"/>
<text x="35" y="554.7" font-size="14" fill="#222" font-weight="normal" text-anchor="middle" >Sun</text>
<rect x="0" y="573" width="70" height="78" fill="#f4f4f4" />
<rect x="70" y="573" width="1682" height="78" fill="#ffffff" />
<line x1="70" y1="573.5" x2="1752" y2="573.5" stroke="#ececec" stroke-width="1" />
<circle cx="161.6" cy="591.6" r="10" fill="#fff" stroke="#222" stroke-width="1.3"/>
<path d="M161.6,581.6 A10,10 0 0 0 161.6,601.6 A0.00,10 0 0 0 161.6,581.6 Z" fill="#999" stroke="#222" stroke-width="1.2"/>
<path d="M153.1,622.4 A6.9,6.9 0 0 1 166.9,622.4" fill="none" stroke="#222" stroke-width="1.3"/><path d="M150.2,626.1 H156.4 L160.0,623.1 L163.6,626.1 H169.8" fill="none" stroke="#555" stroke-width="1.5"/>
<text x="160.0" y="643.7" font-size="12" fill="#333" font-weight="normal" text-anchor="middle" >11:10AM</text>
<circle cx="281.6" cy="591.6" r="10" fill="#fff" stroke="#222" stroke-width="1.3"/>
<path d="M281.6,581.6 A10,10 0 0 0 281.6,601.6 A0.00,10 0 0 0 281.6,581.6 Z" fill="#999" stroke="#222" stroke-width="1.2"/>
<path d="M273.1,622.4 A6.9,6.9 0 0 1 286.9,622.4" fill="none" stroke="#222" stroke-width="1.3"/><path d="M270.2,626.1 H276.4 L280.0,628.8000000000001 L283.6,626.1 H289.8" fill="none" stroke="#555" stroke-width="1.5"/>
<text x="280.0" y="643.7" font-size="12" fill="#333" font-weight="normal" text-anchor="middle" >11:39PM</text>
<circle cx="401.6" cy="591.6" r="10" fill="#fff" stroke="#222" stroke-width="1.3"/>
<path d="M401.6,581.6 A10,10 0 0 0 401.6,601.6 A1.00,10 0 0 1 401.6,581.6 Z" fill="#999" stroke="#222" stroke-width="1.2"/>
<path d="M393.1,622.4 A6.9,6.9 0 0 1 406.9,622.4" fill="none" stroke="#222" stroke-width="1.3"/><path d="M390.2,626.1 H396.4 L400.0,623.1 L403.6,626.1 H409.8" fill="none" stroke="#555" stroke-width="1.5"/>
<text x="400.0" y="643.7" font-size="12" fill="#333" font-weight="normal" text-anchor="middle" >11:59AM</text>
<circle cx="581.6" cy="591.6" r="10" fill="#fff" stroke="#222" stroke-width="1.3"/>
<path d="M581.6,581.6 A10,10 0 0 0 581.6,601.6 A1.60,10 0 0 1 581.6,581.6 Z" fill="#999" stroke="#222" stroke-width="1.2"/>
<path d="M573.1,622.4 A6.9,6.9 0 0 1 586.9,622.4" fill="none" stroke="#222" stroke-width="1.3"/><path d="M570.2,626.1 H576.4 L580.0,628.8000000000001 L583.6,626.1 H589.8" fill="none" stroke="#555" stroke-width="1.5"/>
<text x="580.0" y="643.7" font-size="12" fill="#333" font-weight="normal" text-anchor="middle" >00:18AM</text>
<circle cx="701.6" cy="591.6" r="10" fill="#fff" stroke="#222" stroke-width="1.3"/>
<path d="M701.6,581.6 A10,10 0 0 0 701.6,601.6 A2.00,10 0 0 1 701.6,581.6 Z" fill="#999" stroke="#222" stroke-width="1.2"/>
<path d="M693.1,622.4 A6.9,6.9 0 0 1 706.9,622.4" fill="none" stroke="#222" stroke-width="1.3"/><path d="M690.2,626.1 H696.4 L700.0,623.1 L703.6,626.1 H709.8" fill="none" stroke="#555" stroke-width="1.5"/>
<text x="700.0" y="643.7" font-size="12" fill="#333" font-weight="normal" text-anchor="middle" >12:51PM</text>
<circle cx="821.6" cy="591.6" r="10" fill="#fff" stroke="#222" stroke-width="1.3"/>
<path d="M821.6,581.6 A10,10 0 0 0 821.6,601.6 A3.00,10 0 0 1 821.6,581.6 Z" fill="#999" stroke="#222" stroke-width="1.2"/>
<path d="M813.1,622.4 A6.9,6.9 0 0 1 826.9,622.4" fill="none" stroke="#222" stroke-width="1.3"/><path d="M810.2,626.1 H816.4 L820.0,628.8000000000001 L823.6,626.1 H829.8" fill="none" stroke="#555" stroke-width="1.5"/>
<text x="820.0" y="643.7" font-size="12" fill="#333" font-weight="normal" text-anchor="middle" >00:59AM</text>
<circle cx="941.6" cy="591.6" r="10" fill="#fff" stroke="#222" stroke-width="1.3"/>
<path d="M941.6,581.6 A10,10 0 0 0 941.6,601.6 A4.00,10 0 0 1 941.6,581.6 Z" fill="#999" stroke="#222" stroke-width="1.2"/>
<path d="M933.1,622.4 A6.9,6.9 0 0 1 946.9,622.4" fill="none" stroke="#222" stroke-width="1.3"/><path d="M930.2,626.1 H936.4 L940.0,623.1 L943.6,626.1 H949.8" fill="none" stroke="#555" stroke-width="1.5"/>
<text x="940.0" y="643.7" font-size="12" fill="#333" font-weight="normal" text-anchor="middle" >1:45PM</text>
<circle cx="1064.1" cy="591.6" r="10" fill="#fff" stroke="#222" stroke-width="1.3"/>
<path d="M1064.1,581.6 A10,10 0 0 0 1064.1,601.6 A5.00,10 0 0 1 1064.1,581.6 Z" fill="#999" stroke="#222" stroke-width="1.2"/>
<path d="M1055.6,622.4 A6.9,6.9 0 0 1 1069.4,622.4" fill="none" stroke="#222" stroke-width="1.3"/><path d="M1052.7,626.1 H1058.9 L1062.5,628.8000000000001 L1066.1,626.1 H1072.3" fill="none" stroke="#555" stroke-width="1.5"/>
<text x="1062.5" y="643.7" font-size="12" fill="#333" font-weight="normal" text-anchor="middle" >1:44AM</text>
<circle cx="1186.6" cy="591.6" r="10" fill="#fff" stroke="#222" stroke-width="1.3"/>
<path d="M1186.6,581.6 A10,10 0 0 0 1186.6,601.6 A6.00,10 0 0 1 1186.6,581.6 Z" fill="#999" stroke="#222" stroke-width="1.2"/>
<path d="M1178.1,622.4 A6.9,6.9 0 0 1 1191.9,622.4" fill="none" stroke="#222" stroke-width="1.3"/><path d="M1175.2,626.1 H1181.4 L1185.0,623.1 L1188.6,626.1 H1194.8" fill="none" stroke="#555" stroke-width="1.5"/>
<text x="1185.0" y="643.7" font-size="12" fill="#333" font-weight="normal" text-anchor="middle" >2:43PM</text>
<circle cx="1306.6" cy="591.6" r="10" fill="#fff" stroke="#222" stroke-width="1.3"/>
<path d="M1306.6,581.6 A10,10 0 0 0 1306.6,601.6 A5.20,10 0 0 1 1306.6,581.6 Z" fill="#999" stroke="#222" stroke-width="1.2"/>
<path d="M1298.1,622.4 A6.9,6.9 0 0 1 1311.9,622.4" fill="none" stroke="#222" stroke-width="1.3"/><path d="M1295.2,626.1 H1301.4 L1305.0,628.8000000000001 L1308.6,626.1 H1314.8" fill="none" stroke="#555" stroke-width="1.5"/>
<text x="1305.0" y="643.7" font-size="12" fill="#333" font-weight="normal" text-anchor="middle" >2:34AM</text>
<circle cx="1426.6" cy="591.6" r="10" fill="#fff" stroke="#222" stroke-width="1.3"/>
<path d="M1426.6,581.6 A10,10 0 0 0 1426.6,601.6 A5.60,10 0 0 1 1426.6,581.6 Z" fill="#999" stroke="#222" stroke-width="1.2"/>
<path d="M1418.1,622.4 A6.9,6.9 0 0 1 1431.9,622.4" fill="none" stroke="#222" stroke-width="1.3"/><path d="M1415.2,626.1 H1421.4 L1425.0,623.1 L1428.6,626.1 H1434.8" fill="none" stroke="#555" stroke-width="1.5"/>
<text x="1425.0" y="643.7" font-size="12" fill="#333" font-weight="normal" text-anchor="middle" >3:46PM</text>
<circle cx="1546.6" cy="591.6" r="10" fill="#fff" stroke="#222" stroke-width="1.3"/>
<path d="M1546.6,581.6 A10,10 0 0 0 1546.6,601.6 A6.60,10 0 0 1 1546.6,581.6 Z" fill="#999" stroke="#222" stroke-width="1.2"/>
<path d="M1538.1,622.4 A6.9,6.9 0 0 1 1551.9,622.4" fill="none" stroke="#222" stroke-width="1.3"/><path d="M1535.2,626.1 H1541.4 L1545.0,628.8000000000001 L1548.6,626.1 H1554.8" fill="none" stroke="#555" stroke-width="1.5"/>
<text x="1545.0" y="643.7" font-size="12" fill="#333" font-weight="normal" text-anchor="middle" >3:30AM</text>
<circle cx="1666.6" cy="591.6" r="10" fill="#fff" stroke="#222" stroke-width="1.3"/>
<path d="M1666.6,581.6 A10,10 0 0 0 1666.6,601.6 A7.20,10 0 0 1 1666.6,581.6 Z" fill="#999" stroke="#222" stroke-width="1.2"/>
<path d="M1658.1,622.4 A6.9,6.9 0 0 1 1671.9,622.4" fill="none" stroke="#222" stroke-width="1.3"/><path d="M1655.2,626.1 H1661.4 L1665.0,623.1 L1668.6,626.1 H1674.8" fill="none" stroke="#555" stroke-width="1.5"/>
<text x="1665.0" y="643.7" font-size="12" fill="#333" font-weight="normal" text-anchor="middle" >4:53PM</text>
<text x="35" y="597.1" font-size="14" fill="#222" font-weight="normal" text-anchor="middle" >Moon</text>
<text x="35" y="625" font-size="14" fill="#222" font-weight="normal" text-anchor="middle" >Set</text>
<text x="35" y="645" font-size="14" fill="#222" font-weight="normal" text-anchor="middle" >Rise</text>
<rect x="0" y="651" width="1752" height="2" fill="#2d4d6c" />
<rect x="0" y="653" width="70" height="106" fill="#f4f4f4" />
<rect x="70" y="653" width="1682" height="47" fill="#ffffff" />
<text x="35" y="672" font-size="14" fill="#222" font-weight="normal" text-anchor="middle" >Wind</text>
<text x="35" y="688" font-size="14" fill="#222" text-anchor="middle">(<tspan fill="#4479b7" text-decoration="underline">km/h</tspan>)</text>
<g transform="translate(100.0,676) rotate(25)"><path d="M8,-2 H13 V-6 L19.5,0 L13,6 V2 H8 Z" fill="#000"/></g>
<circle cx="100.0" cy="676" r="10.5" fill="#000"/>
<text x="100.0" y="680.6" font-size="13" fill="#10ea10" font-weight="normal" text-anchor="middle" letter-spacing="-0.6">30</text>
<g transform="translate(160.0,676) rotate(25)"><path d="M8,-2 H13 V-6 L19.5,0 L13,6 V2 H8 Z" fill="#000"/></g>
<circle cx="160.0" cy="676" r="10.5" fill="#000"/>
<text x="160.0" y="680.6" font-size="13" fill="#10ea10" font-weight="normal" text-anchor="middle" letter-spacing="-0.6">35</text>
<g transform="translate(220.0,676) rotate(45)"><path d="M8,-2 H13 V-6 L19.5,0 L13,6 V2 H8 Z" fill="#000"/></g>
<circle cx="220.0" cy="676" r="10.5" fill="#000"/>
<text x="220.0" y="680.6" font-size="13" fill="#ffff00" font-weight="normal" text-anchor="middle" letter-spacing="-0.6">40</text>
<g transform="translate(280.0,676) rotate(0)"><path d="M8,-2 H13 V-6 L19.5,0 L13,6 V2 H8 Z" fill="#000"/></g>
<circle cx="280.0" cy="676" r="10.5" fill="#000"/>
<text x="280.0" y="680.6" font-size="13" fill="#10ea10" font-weight="normal" text-anchor="middle" letter-spacing="-0.6">35</text>
<g transform="translate(340.0,676) rotate(0)"><path d="M8,-2 H13 V-6 L19.5,0 L13,6 V2 H8 Z" fill="#000"/></g>
<circle cx="340.0" cy="676" r="10.5" fill="#000"/>
<text x="340.0" y="680.6" font-size="13" fill="#10ea10" font-weight="normal" text-anchor="middle" letter-spacing="-0.6">35</text>
<g transform="translate(400.0,676) rotate(0)"><path d="M8,-2 H13 V-6 L19.5,0 L13,6 V2 H8 Z" fill="#000"/></g>
<circle cx="400.0" cy="676" r="10.5" fill="#000"/>
<text x="400.0" y="680.6" font-size="13" fill="#10ea10" font-weight="normal" text-anchor="middle" letter-spacing="-0.6">25</text>
<g transform="translate(460.0,676) rotate(0)"><path d="M8,-2 H13 V-6 L19.5,0 L13,6 V2 H8 Z" fill="#000"/></g>
<circle cx="460.0" cy="676" r="10.5" fill="#000"/>
<text x="460.0" y="680.6" font-size="13" fill="#10ea10" font-weight="normal" text-anchor="middle" letter-spacing="-0.6">25</text>
<g transform="translate(520.0,676) rotate(25)"><path d="M8,-2 H13 V-6 L19.5,0 L13,6 V2 H8 Z" fill="#000"/></g>
<circle cx="520.0" cy="676" r="10.5" fill="#000"/>
<text x="520.0" y="680.6" font-size="13" fill="#10ea10" font-weight="normal" text-anchor="middle" letter-spacing="-0.6">30</text>
<g transform="translate(580.0,676) rotate(25)"><path d="M8,-2 H13 V-6 L19.5,0 L13,6 V2 H8 Z" fill="#000"/></g>
<circle cx="580.0" cy="676" r="10.5" fill="#000"/>
<text x="580.0" y="680.6" font-size="13" fill="#10ea10" font-weight="normal" text-anchor="middle" letter-spacing="-0.6">30</text>
<g transform="translate(640.0,676) rotate(0)"><path d="M8,-2 H13 V-6 L19.5,0 L13,6 V2 H8 Z" fill="#000"/></g>
<circle cx="640.0" cy="676" r="10.5" fill="#000"/>
<text x="640.0" y="680.6" font-size="13" fill="#10ea10" font-weight="normal" text-anchor="middle" letter-spacing="-0.6">20</text>
<g transform="translate(700.0,676) rotate(25)"><path d="M8,-2 H13 V-6 L19.5,0 L13,6 V2 H8 Z" fill="#000"/></g>
<circle cx="700.0" cy="676" r="10.5" fill="#000"/>
<text x="700.0" y="680.6" font-size="13" fill="#10ea10" font-weight="normal" text-anchor="middle" letter-spacing="-0.6">20</text>
<g transform="translate(760.0,676) rotate(0)"><path d="M8,-2 H13 V-6 L19.5,0 L13,6 V2 H8 Z" fill="#000"/></g>
<circle cx="760.0" cy="676" r="10.5" fill="#000"/>
<text x="760.0" y="680.6" font-size="13" fill="#10ea10" font-weight="normal" text-anchor="middle" letter-spacing="-0.6">30</text>
<g transform="translate(820.0,676) rotate(0)"><path d="M8,-2 H13 V-6 L19.5,0 L13,6 V2 H8 Z" fill="#000"/></g>
<circle cx="820.0" cy="676" r="10.5" fill="#000"/>
<text x="820.0" y="680.6" font-size="13" fill="#10ea10" font-weight="normal" text-anchor="middle" letter-spacing="-0.6">30</text>
<g transform="translate(880.0,676) rotate(0)"><path d="M8,-2 H13 V-6 L19.5,0 L13,6 V2 H8 Z" fill="#000"/></g>
<circle cx="880.0" cy="676" r="10.5" fill="#000"/>
<text x="880.0" y="680.6" font-size="13" fill="#10ea10" font-weight="normal" text-anchor="middle" letter-spacing="-0.6">20</text>
<g transform="translate(940.0,676) rotate(45)"><path d="M8,-2 H13 V-6 L19.5,0 L13,6 V2 H8 Z" fill="#000"/></g>
<circle cx="940.0" cy="676" r="10.5" fill="#000"/>
<text x="940.0" y="680.6" font-size="13" fill="#10ea10" font-weight="normal" text-anchor="middle" letter-spacing="-0.6">25</text>
<g transform="translate(1000.0,676) rotate(25)"><path d="M8,-2 H13 V-6 L19.5,0 L13,6 V2 H8 Z" fill="#000"/></g>
<circle cx="1000.0" cy="676" r="10.5" fill="#000"/>
<text x="1000.0" y="680.6" font-size="13" fill="#10ea10" font-weight="normal" text-anchor="middle" letter-spacing="-0.6">25</text>
<g transform="translate(1062.5,676) rotate(25)"><path d="M8,-2 H13 V-6 L19.5,0 L13,6 V2 H8 Z" fill="#000"/></g>
<circle cx="1062.5" cy="676" r="10.5" fill="#000"/>
<text x="1062.5" y="680.6" font-size="13" fill="#10ea10" font-weight="normal" text-anchor="middle" letter-spacing="-0.6">25</text>
<g transform="translate(1125.0,676) rotate(0)"><path d="M8,-2 H13 V-6 L19.5,0 L13,6 V2 H8 Z" fill="#000"/></g>
<circle cx="1125.0" cy="676" r="10.5" fill="#000"/>
<text x="1125.0" y="680.6" font-size="13" fill="#10ea10" font-weight="normal" text-anchor="middle" letter-spacing="-0.6">25</text>
<g transform="translate(1185.0,676) rotate(25)"><path d="M8,-2 H13 V-6 L19.5,0 L13,6 V2 H8 Z" fill="#000"/></g>
<circle cx="1185.0" cy="676" r="10.5" fill="#000"/>
<text x="1185.0" y="680.6" font-size="13" fill="#10ea10" font-weight="normal" text-anchor="middle" letter-spacing="-0.6">20</text>
<g transform="translate(1245.0,676) rotate(0)"><path d="M8,-2 H13 V-6 L19.5,0 L13,6 V2 H8 Z" fill="#000"/></g>
<circle cx="1245.0" cy="676" r="10.5" fill="#000"/>
<text x="1245.0" y="680.6" font-size="13" fill="#10ea10" font-weight="normal" text-anchor="middle" letter-spacing="-0.6">30</text>
<g transform="translate(1305.0,676) rotate(0)"><path d="M8,-2 H13 V-6 L19.5,0 L13,6 V2 H8 Z" fill="#000"/></g>
<circle cx="1305.0" cy="676" r="10.5" fill="#000"/>
<text x="1305.0" y="680.6" font-size="13" fill="#10ea10" font-weight="normal" text-anchor="middle" letter-spacing="-0.6">30</text>
<g transform="translate(1365.0,676) rotate(-22)"><path d="M8,-2 H13 V-6 L19.5,0 L13,6 V2 H8 Z" fill="#000"/></g>
<circle cx="1365.0" cy="676" r="10.5" fill="#000"/>
<text x="1365.0" y="680.6" font-size="13" fill="#10ea10" font-weight="normal" text-anchor="middle" letter-spacing="-0.6">20</text>
<g transform="translate(1425.0,676) rotate(25)"><path d="M8,-2 H13 V-6 L19.5,0 L13,6 V2 H8 Z" fill="#000"/></g>
<circle cx="1425.0" cy="676" r="10.5" fill="#000"/>
<text x="1425.0" y="680.6" font-size="13" fill="#10ea10" font-weight="normal" text-anchor="middle" letter-spacing="-0.6">25</text>
<g transform="translate(1485.0,676) rotate(25)"><path d="M8,-2 H13 V-6 L19.5,0 L13,6 V2 H8 Z" fill="#000"/></g>
<circle cx="1485.0" cy="676" r="10.5" fill="#000"/>
<text x="1485.0" y="680.6" font-size="13" fill="#10ea10" font-weight="normal" text-anchor="middle" letter-spacing="-0.6">30</text>
<g transform="translate(1545.0,676) rotate(25)"><path d="M8,-2 H13 V-6 L19.5,0 L13,6 V2 H8 Z" fill="#000"/></g>
<circle cx="1545.0" cy="676" r="10.5" fill="#000"/>
<text x="1545.0" y="680.6" font-size="13" fill="#10ea10" font-weight="normal" text-anchor="middle" letter-spacing="-0.6">30</text>
<g transform="translate(1605.0,676) rotate(25)"><path d="M8,-2 H13 V-6 L19.5,0 L13,6 V2 H8 Z" fill="#000"/></g>
<circle cx="1605.0" cy="676" r="10.5" fill="#000"/>
<text x="1605.0" y="680.6" font-size="13" fill="#10ea10" font-weight="normal" text-anchor="middle" letter-spacing="-0.6">25</text>
<g transform="translate(1665.0,676) rotate(45)"><path d="M8,-2 H13 V-6 L19.5,0 L13,6 V2 H8 Z" fill="#000"/></g>
<circle cx="1665.0" cy="676" r="10.5" fill="#000"/>
<text x="1665.0" y="680.6" font-size="13" fill="#10ea10" font-weight="normal" text-anchor="middle" letter-spacing="-0.6">30</text>
<g transform="translate(1725.0,676) rotate(25)"><path d="M8,-2 H13 V-6 L19.5,0 L13,6 V2 H8 Z" fill="#000"/></g>
<circle cx="1725.0" cy="676" r="10.5" fill="#000"/>
<text x="1725.0" y="680.6" font-size="13" fill="#10ea10" font-weight="normal" text-anchor="middle" letter-spacing="-0.6">25</text>
<defs>
<linearGradient id="cg" x1="0" y1="0" x2="0" y2="1"><stop offset="0" stop-color="#f2f2f6"/><stop offset="0.3" stop-color="#dedee4"/><stop offset="0.62" stop-color="#a0a2aa"/><stop offset="1" stop-color="#686b74"/></linearGradient>
<linearGradient id="bgSlate" x1="0" y1="0" x2="0" y2="1"><stop offset="0" stop-color="#596779"/><stop offset="0.55" stop-color="#76869a"/><stop offset="1" stop-color="#5f6d80"/></linearGradient>
<linearGradient id="bgBlue" x1="0" y1="0" x2="0" y2="1"><stop offset="0" stop-color="#5b6bb0"/><stop offset="1" stop-color="#aab3d8"/></linearGradient>
<linearGradient id="bgDark" x1="0" y1="0" x2="1" y2="0.3"><stop offset="0" stop-color="#2b2d3c"/><stop offset="0.5" stop-color="#383a4c"/><stop offset="1" stop-color="#5a4c68"/></linearGradient>
<radialGradient id="sung" cx="0.55" cy="0.5" r="0.6"><stop offset="0" stop-color="#fbe27e"/><stop offset="1" stop-color="#eec232"/></radialGradient>
<filter id="blur1" x="-50%" y="-50%" width="200%" height="200%"><feGaussianBlur stdDeviation="1.3"/></filter>
<radialGradient id="glow" cx="0.5" cy="0.5" r="0.5"><stop offset="0.5" stop-color="#fff6c0" stop-opacity="1"/><stop offset="0.62" stop-color="#f6dc60" stop-opacity="0.8"/><stop offset="1" stop-color="#f6dc60" stop-opacity="0"/></radialGradient>

<symbol id="wR" viewBox="0 0 60 60" overflow="hidden"><rect width="60" height="60" fill="#0d0d13"/><path d="M-0.7,13.0 H26.7 A5.3,5.3 0 0 1 32.0,18.3 V18.7 A5.3,5.3 0 0 1 26.7,24.0 H-0.7 A5.3,5.3 0 0 1 -6.0,18.7 V18.3 A5.3,5.3 0 0 1 -0.7,13.0 Z M-3.2,14.5 a6.3,6.3 0 1 1 12.5,0 a6.3,6.3 0 1 1 -12.5,0 Z M4.6,12.6 a7.6,7.6 0 1 1 15.2,0 a7.6,7.6 0 1 1 -15.2,0 Z M16.0,14.9 a6.1,6.1 0 1 1 12.2,0 a6.1,6.1 0 1 1 -12.2,0 Z" fill="none" stroke="#8a8c94" stroke-width="1.4"/><path d="M-0.7,13.0 H26.7 A5.3,5.3 0 0 1 32.0,18.3 V18.7 A5.3,5.3 0 0 1 26.7,24.0 H-0.7 A5.3,5.3 0 0 1 -6.0,18.7 V18.3 A5.3,5.3 0 0 1 -0.7,13.0 Z M-3.2,14.5 a6.3,6.3 0 1 1 12.5,0 a6.3,6.3 0 1 1 -12.5,0 Z M4.6,12.6 a7.6,7.6 0 1 1 15.2,0 a7.6,7.6 0 1 1 -15.2,0 Z M16.0,14.9 a6.1,6.1 0 1 1 12.2,0 a6.1,6.1 0 1 1 -12.2,0 Z" fill="url(#cg)"/><path d="M41.3,12.0 H64.7 A5.3,5.3 0 0 1 70.0,17.3 V17.7 A5.3,5.3 0 0 1 64.7,23.0 H41.3 A5.3,5.3 0 0 1 36.0,17.7 V17.3 A5.3,5.3 0 0 1 41.3,12.0 Z M37.9,13.5 a6.3,6.3 0 1 1 12.5,0 a6.3,6.3 0 1 1 -12.5,0 Z M44.7,11.6 a7.6,7.6 0 1 1 15.2,0 a7.6,7.6 0 1 1 -15.2,0 Z M55.1,13.9 a6.1,6.1 0 1 1 12.2,0 a6.1,6.1 0 1 1 -12.2,0 Z" fill="none" stroke="#8a8c94" stroke-width="1.4"/><path d="M41.3,12.0 H64.7 A5.3,5.3 0 0 1 70.0,17.3 V17.7 A5.3,5.3 0 0 1 64.7,23.0 H41.3 A5.3,5.3 0 0 1 36.0,17.7 V17.3 A5.3,5.3 0 0 1 41.3,12.0 Z M37.9,13.5 a6.3,6.3 0 1 1 12.5,0 a6.3,6.3 0 1 1 -12.5,0 Z M44.7,11.6 a7.6,7.6 0 1 1 15.2,0 a7.6,7.6 0 1 1 -15.2,0 Z M55.1,13.9 a6.1,6.1 0 1 1 12.2,0 a6.1,6.1 0 1 1 -12.2,0 Z" fill="url(#cg)"/><path d="M-2.4,21.4 H22.4 A5.6,5.6 0 0 1 28.0,27.0 V27.4 A5.6,5.6 0 0 1 22.4,33.0 H-2.4 A5.6,5.6 0 0 1 -8.0,27.4 V27.0 A5.6,5.6 0 0 1 -2.4,21.4 Z M-6.0,23.0 a6.6,6.6 0 1 1 13.2,0 a6.6,6.6 0 1 1 -13.2,0 Z M1.3,21.0 a8.0,8.0 0 1 1 16.0,0 a8.0,8.0 0 1 1 -16.0,0 Z M12.2,23.4 a6.4,6.4 0 1 1 12.8,0 a6.4,6.4 0 1 1 -12.8,0 Z" fill="none" stroke="#8a8c94" stroke-width="1.4"/><path d="M-2.4,21.4 H22.4 A5.6,5.6 0 0 1 28.0,27.0 V27.4 A5.6,5.6 0 0 1 22.4,33.0 H-2.4 A5.6,5.6 0 0 1 -8.0,27.4 V27.0 A5.6,5.6 0 0 1 -2.4,21.4 Z M-6.0,23.0 a6.6,6.6 0 1 1 13.2,0 a6.6,6.6 0 1 1 -13.2,0 Z M1.3,21.0 a8.0,8.0 0 1 1 16.0,0 a8.0,8.0 0 1 1 -16.0,0 Z M12.2,23.4 a6.4,6.4 0 1 1 12.8,0 a6.4,6.4 0 1 1 -12.8,0 Z" fill="url(#cg)"/><path d="M29.9,17.8 H58.1 A5.9,5.9 0 0 1 64.0,23.7 V24.1 A5.9,5.9 0 0 1 58.1,30.0 H29.9 A5.9,5.9 0 0 1 24.0,24.1 V23.7 A5.9,5.9 0 0 1 29.9,17.8 Z M26.7,19.5 a6.9,6.9 0 1 1 13.9,0 a6.9,6.9 0 1 1 -13.9,0 Z M34.8,17.4 a8.4,8.4 0 1 1 16.8,0 a8.4,8.4 0 1 1 -16.8,0 Z M46.9,19.9 a6.7,6.7 0 1 1 13.4,0 a6.7,6.7 0 1 1 -13.4,0 Z" fill="none" stroke="#8a8c94" stroke-width="1.4"/><path d="M29.9,17.8 H58.1 A5.9,5.9 0 0 1 64.0,23.7 V24.1 A5.9,5.9 0 0 1 58.1,30.0 H29.9 A5.9,5.9 0 0 1 24.0,24.1 V23.7 A5.9,5.9 0 0 1 29.9,17.8 Z M26.7,19.5 a6.9,6.9 0 1 1 13.9,0 a6.9,6.9 0 1 1 -13.9,0 Z M34.8,17.4 a8.4,8.4 0 1 1 16.8,0 a8.4,8.4 0 1 1 -16.8,0 Z M46.9,19.9 a6.7,6.7 0 1 1 13.4,0 a6.7,6.7 0 1 1 -13.4,0 Z" fill="url(#cg)"/><path d="M13.5,27.2 H50.5 A5.5,5.5 0 0 1 56.0,32.6 V33.0 A5.5,5.5 0 0 1 50.5,38.5 H13.5 A5.5,5.5 0 0 1 8.0,33.0 V32.6 A5.5,5.5 0 0 1 13.5,27.2 Z M13.1,28.8 a6.4,6.4 0 1 1 12.9,0 a6.4,6.4 0 1 1 -12.9,0 Z M23.2,26.8 a7.8,7.8 0 1 1 15.6,0 a7.8,7.8 0 1 1 -15.6,0 Z M37.3,29.1 a6.2,6.2 0 1 1 12.5,0 a6.2,6.2 0 1 1 -12.5,0 Z" fill="none" stroke="#8a8c94" stroke-width="1.4"/><path d="M13.5,27.2 H50.5 A5.5,5.5 0 0 1 56.0,32.6 V33.0 A5.5,5.5 0 0 1 50.5,38.5 H13.5 A5.5,5.5 0 0 1 8.0,33.0 V32.6 A5.5,5.5 0 0 1 13.5,27.2 Z M13.1,28.8 a6.4,6.4 0 1 1 12.9,0 a6.4,6.4 0 1 1 -12.9,0 Z M23.2,26.8 a7.8,7.8 0 1 1 15.6,0 a7.8,7.8 0 1 1 -15.6,0 Z M37.3,29.1 a6.2,6.2 0 1 1 12.5,0 a6.2,6.2 0 1 1 -12.5,0 Z" fill="url(#cg)"/><line x1="13" y1="41" x2="9.4" y2="49" stroke="#9c92b8" stroke-width="1.3" stroke-linecap="round"/><line x1="29.5" y1="41" x2="25.9" y2="49" stroke="#9c92b8" stroke-width="1.3" stroke-linecap="round"/><line x1="46" y1="41" x2="42.4" y2="49" stroke="#9c92b8" stroke-width="1.3" stroke-linecap="round"/><line x1="18" y1="50" x2="14.4" y2="58" stroke="#9c92b8" stroke-width="1.3" stroke-linecap="round"/><line x1="34.5" y1="50" x2="30.9" y2="58" stroke="#9c92b8" stroke-width="1.3" stroke-linecap="round"/><line x1="51" y1="50" x2="47.4" y2="58" stroke="#9c92b8" stroke-width="1.3" stroke-linecap="round"/></symbol>
<symbol id="wG" viewBox="0 0 60 60" overflow="hidden"><rect width="60" height="60" fill="url(#bgSlate)"/><path d="M-0.7,13.0 H26.7 A5.3,5.3 0 0 1 32.0,18.3 V18.7 A5.3,5.3 0 0 1 26.7,24.0 H-0.7 A5.3,5.3 0 0 1 -6.0,18.7 V18.3 A5.3,5.3 0 0 1 -0.7,13.0 Z M-3.2,14.5 a6.3,6.3 0 1 1 12.5,0 a6.3,6.3 0 1 1 -12.5,0 Z M4.6,12.6 a7.6,7.6 0 1 1 15.2,0 a7.6,7.6 0 1 1 -15.2,0 Z M16.0,14.9 a6.1,6.1 0 1 1 12.2,0 a6.1,6.1 0 1 1 -12.2,0 Z" fill="none" stroke="#8a8c94" stroke-width="1.4"/><path d="M-0.7,13.0 H26.7 A5.3,5.3 0 0 1 32.0,18.3 V18.7 A5.3,5.3 0 0 1 26.7,24.0 H-0.7 A5.3,5.3 0 0 1 -6.0,18.7 V18.3 A5.3,5.3 0 0 1 -0.7,13.0 Z M-3.2,14.5 a6.3,6.3 0 1 1 12.5,0 a6.3,6.3 0 1 1 -12.5,0 Z M4.6,12.6 a7.6,7.6 0 1 1 15.2,0 a7.6,7.6 0 1 1 -15.2,0 Z M16.0,14.9 a6.1,6.1 0 1 1 12.2,0 a6.1,6.1 0 1 1 -12.2,0 Z" fill="url(#cg)"/><path d="M41.3,12.0 H64.7 A5.3,5.3 0 0 1 70.0,17.3 V17.7 A5.3,5.3 0 0 1 64.7,23.0 H41.3 A5.3,5.3 0 0 1 36.0,17.7 V17.3 A5.3,5.3 0 0 1 41.3,12.0 Z M37.9,13.5 a6.3,6.3 0 1 1 12.5,0 a6.3,6.3 0 1 1 -12.5,0 Z M44.7,11.6 a7.6,7.6 0 1 1 15.2,0 a7.6,7.6 0 1 1 -15.2,0 Z M55.1,13.9 a6.1,6.1 0 1 1 12.2,0 a6.1,6.1 0 1 1 -12.2,0 Z" fill="none" stroke="#8a8c94" stroke-width="1.4"/><path d="M41.3,12.0 H64.7 A5.3,5.3 0 0 1 70.0,17.3 V17.7 A5.3,5.3 0 0 1 64.7,23.0 H41.3 A5.3,5.3 0 0 1 36.0,17.7 V17.3 A5.3,5.3 0 0 1 41.3,12.0 Z M37.9,13.5 a6.3,6.3 0 1 1 12.5,0 a6.3,6.3 0 1 1 -12.5,0 Z M44.7,11.6 a7.6,7.6 0 1 1 15.2,0 a7.6,7.6 0 1 1 -15.2,0 Z M55.1,13.9 a6.1,6.1 0 1 1 12.2,0 a6.1,6.1 0 1 1 -12.2,0 Z" fill="url(#cg)"/><path d="M-2.4,21.4 H22.4 A5.6,5.6 0 0 1 28.0,27.0 V27.4 A5.6,5.6 0 0 1 22.4,33.0 H-2.4 A5.6,5.6 0 0 1 -8.0,27.4 V27.0 A5.6,5.6 0 0 1 -2.4,21.4 Z M-6.0,23.0 a6.6,6.6 0 1 1 13.2,0 a6.6,6.6 0 1 1 -13.2,0 Z M1.3,21.0 a8.0,8.0 0 1 1 16.0,0 a8.0,8.0 0 1 1 -16.0,0 Z M12.2,23.4 a6.4,6.4 0 1 1 12.8,0 a6.4,6.4 0 1 1 -12.8,0 Z" fill="none" stroke="#8a8c94" stroke-width="1.4"/><path d="M-2.4,21.4 H22.4 A5.6,5.6 0 0 1 28.0,27.0 V27.4 A5.6,5.6 0 0 1 22.4,33.0 H-2.4 A5.6,5.6 0 0 1 -8.0,27.4 V27.0 A5.6,5.6 0 0 1 -2.4,21.4 Z M-6.0,23.0 a6.6,6.6 0 1 1 13.2,0 a6.6,6.6 0 1 1 -13.2,0 Z M1.3,21.0 a8.0,8.0 0 1 1 16.0,0 a8.0,8.0 0 1 1 -16.0,0 Z M12.2,23.4 a6.4,6.4 0 1 1 12.8,0 a6.4,6.4 0 1 1 -12.8,0 Z" fill="url(#cg)"/><path d="M29.9,17.8 H58.1 A5.9,5.9 0 0 1 64.0,23.7 V24.1 A5.9,5.9 0 0 1 58.1,30.0 H29.9 A5.9,5.9 0 0 1 24.0,24.1 V23.7 A5.9,5.9 0 0 1 29.9,17.8 Z M26.7,19.5 a6.9,6.9 0 1 1 13.9,0 a6.9,6.9 0 1 1 -13.9,0 Z M34.8,17.4 a8.4,8.4 0 1 1 16.8,0 a8.4,8.4 0 1 1 -16.8,0 Z M46.9,19.9 a6.7,6.7 0 1 1 13.4,0 a6.7,6.7 0 1 1 -13.4,0 Z" fill="none" stroke="#8a8c94" stroke-width="1.4"/><path d="M29.9,17.8 H58.1 A5.9,5.9 0 0 1 64.0,23.7 V24.1 A5.9,5.9 0 0 1 58.1,30.0 H29.9 A5.9,5.9 0 0 1 24.0,24.1 V23.7 A5.9,5.9 0 0 1 29.9,17.8 Z M26.7,19.5 a6.9,6.9 0 1 1 13.9,0 a6.9,6.9 0 1 1 -13.9,0 Z M34.8,17.4 a8.4,8.4 0 1 1 16.8,0 a8.4,8.4 0 1 1 -16.8,0 Z M46.9,19.9 a6.7,6.7 0 1 1 13.4,0 a6.7,6.7 0 1 1 -13.4,0 Z" fill="url(#cg)"/><path d="M13.5,27.2 H50.5 A5.5,5.5 0 0 1 56.0,32.6 V33.0 A5.5,5.5 0 0 1 50.5,38.5 H13.5 A5.5,5.5 0 0 1 8.0,33.0 V32.6 A5.5,5.5 0 0 1 13.5,27.2 Z M13.1,28.8 a6.4,6.4 0 1 1 12.9,0 a6.4,6.4 0 1 1 -12.9,0 Z M23.2,26.8 a7.8,7.8 0 1 1 15.6,0 a7.8,7.8 0 1 1 -15.6,0 Z M37.3,29.1 a6.2,6.2 0 1 1 12.5,0 a6.2,6.2 0 1 1 -12.5,0 Z" fill="none" stroke="#8a8c94" stroke-width="1.4"/><path d="M13.5,27.2 H50.5 A5.5,5.5 0 0 1 56.0,32.6 V33.0 A5.5,5.5 0 0 1 50.5,38.5 H13.5 A5.5,5.5 0 0 1 8.0,33.0 V32.6 A5.5,5.5 0 0 1 13.5,27.2 Z M13.1,28.8 a6.4,6.4 0 1 1 12.9,0 a6.4,6.4 0 1 1 -12.9,0 Z M23.2,26.8 a7.8,7.8 0 1 1 15.6,0 a7.8,7.8 0 1 1 -15.6,0 Z M37.3,29.1 a6.2,6.2 0 1 1 12.5,0 a6.2,6.2 0 1 1 -12.5,0 Z" fill="url(#cg)"/><line x1="13" y1="41" x2="9.4" y2="49" stroke="#b4a8d0" stroke-width="1.3" stroke-linecap="round"/><line x1="29.5" y1="41" x2="25.9" y2="49" stroke="#b4a8d0" stroke-width="1.3" stroke-linecap="round"/><line x1="46" y1="41" x2="42.4" y2="49" stroke="#b4a8d0" stroke-width="1.3" stroke-linecap="round"/><line x1="18" y1="50" x2="14.4" y2="58" stroke="#b4a8d0" stroke-width="1.3" stroke-linecap="round"/><line x1="34.5" y1="50" x2="30.9" y2="58" stroke="#b4a8d0" stroke-width="1.3" stroke-linecap="round"/><line x1="51" y1="50" x2="47.4" y2="58" stroke="#b4a8d0" stroke-width="1.3" stroke-linecap="round"/></symbol>
<symbol id="wTL" viewBox="0 0 60 60" overflow="hidden"><rect width="60" height="60" fill="url(#bgBlue)"/><path d="M37.2,13.2 H62.8 A6.2,6.2 0 0 1 69.0,19.4 V19.8 A6.2,6.2 0 0 1 62.8,26.0 H37.2 A6.2,6.2 0 0 1 31.0,19.8 V19.4 A6.2,6.2 0 0 1 37.2,13.2 Z M32.9,15.0 a7.3,7.3 0 1 1 14.5,0 a7.3,7.3 0 1 1 -14.5,0 Z M40.4,12.8 a8.8,8.8 0 1 1 17.6,0 a8.8,8.8 0 1 1 -17.6,0 Z M52.1,15.4 a7.0,7.0 0 1 1 14.1,0 a7.0,7.0 0 1 1 -14.1,0 Z" fill="none" stroke="#8a8c94" stroke-width="1.4"/><path d="M37.2,13.2 H62.8 A6.2,6.2 0 0 1 69.0,19.4 V19.8 A6.2,6.2 0 0 1 62.8,26.0 H37.2 A6.2,6.2 0 0 1 31.0,19.8 V19.4 A6.2,6.2 0 0 1 37.2,13.2 Z M32.9,15.0 a7.3,7.3 0 1 1 14.5,0 a7.3,7.3 0 1 1 -14.5,0 Z M40.4,12.8 a8.8,8.8 0 1 1 17.6,0 a8.8,8.8 0 1 1 -17.6,0 Z M52.1,15.4 a7.0,7.0 0 1 1 14.1,0 a7.0,7.0 0 1 1 -14.1,0 Z" fill="url(#cg)"/><path d="M2.7,11.1 H32.3 A6.7,6.7 0 0 1 39.0,17.8 V18.3 A6.7,6.7 0 0 1 32.3,25.0 H2.7 A6.7,6.7 0 0 1 -4.0,18.3 V17.8 A6.7,6.7 0 0 1 2.7,11.1 Z M-1.6,13.0 a7.9,7.9 0 1 1 15.8,0 a7.9,7.9 0 1 1 -15.8,0 Z M7.0,10.6 a9.6,9.6 0 1 1 19.2,0 a9.6,9.6 0 1 1 -19.2,0 Z M20.1,13.5 a7.7,7.7 0 1 1 15.4,0 a7.7,7.7 0 1 1 -15.4,0 Z" fill="none" stroke="#8a8c94" stroke-width="1.4"/><path d="M2.7,11.1 H32.3 A6.7,6.7 0 0 1 39.0,17.8 V18.3 A6.7,6.7 0 0 1 32.3,25.0 H2.7 A6.7,6.7 0 0 1 -4.0,18.3 V17.8 A6.7,6.7 0 0 1 2.7,11.1 Z M-1.6,13.0 a7.9,7.9 0 1 1 15.8,0 a7.9,7.9 0 1 1 -15.8,0 Z M7.0,10.6 a9.6,9.6 0 1 1 19.2,0 a9.6,9.6 0 1 1 -19.2,0 Z M20.1,13.5 a7.7,7.7 0 1 1 15.4,0 a7.7,7.7 0 1 1 -15.4,0 Z" fill="url(#cg)"/><path d="M31.0,25.0 H59.0 A6.0,6.0 0 0 1 65.0,31.0 V31.4 A6.0,6.0 0 0 1 59.0,37.4 H31.0 A6.0,6.0 0 0 1 25.0,31.4 V31.0 A6.0,6.0 0 0 1 31.0,25.0 Z M27.5,26.7 a7.1,7.1 0 1 1 14.1,0 a7.1,7.1 0 1 1 -14.1,0 Z M35.6,24.6 a8.6,8.6 0 1 1 17.1,0 a8.6,8.6 0 1 1 -17.1,0 Z M47.8,27.1 a6.8,6.8 0 1 1 13.7,0 a6.8,6.8 0 1 1 -13.7,0 Z" fill="none" stroke="#8a8c94" stroke-width="1.4"/><path d="M31.0,25.0 H59.0 A6.0,6.0 0 0 1 65.0,31.0 V31.4 A6.0,6.0 0 0 1 59.0,37.4 H31.0 A6.0,6.0 0 0 1 25.0,31.4 V31.0 A6.0,6.0 0 0 1 31.0,25.0 Z M27.5,26.7 a7.1,7.1 0 1 1 14.1,0 a7.1,7.1 0 1 1 -14.1,0 Z M35.6,24.6 a8.6,8.6 0 1 1 17.1,0 a8.6,8.6 0 1 1 -17.1,0 Z M47.8,27.1 a6.8,6.8 0 1 1 13.7,0 a6.8,6.8 0 1 1 -13.7,0 Z" fill="url(#cg)"/><path d="M1.6,20.9 H30.4 A5.6,5.6 0 0 1 36.0,26.5 V26.9 A5.6,5.6 0 0 1 30.4,32.5 H1.6 A5.6,5.6 0 0 1 -4.0,26.9 V26.5 A5.6,5.6 0 0 1 1.6,20.9 Z M-1.0,22.5 a6.6,6.6 0 1 1 13.2,0 a6.6,6.6 0 1 1 -13.2,0 Z M7.2,20.5 a8.0,8.0 0 1 1 16.0,0 a8.0,8.0 0 1 1 -16.0,0 Z M19.2,22.9 a6.4,6.4 0 1 1 12.8,0 a6.4,6.4 0 1 1 -12.8,0 Z" fill="none" stroke="#8a8c94" stroke-width="1.4"/><path d="M1.6,20.9 H30.4 A5.6,5.6 0 0 1 36.0,26.5 V26.9 A5.6,5.6 0 0 1 30.4,32.5 H1.6 A5.6,5.6 0 0 1 -4.0,26.9 V26.5 A5.6,5.6 0 0 1 1.6,20.9 Z M-1.0,22.5 a6.6,6.6 0 1 1 13.2,0 a6.6,6.6 0 1 1 -13.2,0 Z M7.2,20.5 a8.0,8.0 0 1 1 16.0,0 a8.0,8.0 0 1 1 -16.0,0 Z M19.2,22.9 a6.4,6.4 0 1 1 12.8,0 a6.4,6.4 0 1 1 -12.8,0 Z" fill="url(#cg)"/><path d="M16.8,34.5 L14.3,39.5 L12.3,45.5 L8.3,51.5 L3.3000000000000007,56.5 L0.3000000000000007,59.5 M14.3,39.5 L10.3,37.5 M13.3,42.5 L8.3,41.5 M12.3,45.5 L13.3,51.5 M19.3,42.5 L23.3,44.5 M8.3,51.5 L7.300000000000001,59.5 M5.300000000000001,54.5 L4.300000000000001,59.5 M3.3000000000000007,56.5 L2.3000000000000007,59.5 M10.3,48.5 L11.3,54.5" fill="none" stroke="#e4e6f4" stroke-width="0.8" stroke-linejoin="round" opacity="0.85"/><path d="M16.3,32.5 L18.8,37.5 L19.3,42.5 L18.8,46.5 L20.8,51.5" fill="none" stroke="#ffffff" stroke-width="1.1" stroke-linejoin="round"/><g opacity="0.6"><line x1="37" y1="40" x2="33.4" y2="48" stroke="#c8a6c4" stroke-width="1.3" stroke-linecap="round"/><line x1="52" y1="40" x2="48.4" y2="48" stroke="#c8a6c4" stroke-width="1.3" stroke-linecap="round"/><line x1="41" y1="46" x2="37.4" y2="54" stroke="#c8a6c4" stroke-width="1.3" stroke-linecap="round"/><line x1="56" y1="46" x2="52.4" y2="54" stroke="#c8a6c4" stroke-width="1.3" stroke-linecap="round"/><line x1="32" y1="52" x2="28.4" y2="60" stroke="#c8a6c4" stroke-width="1.3" stroke-linecap="round"/><line x1="47" y1="52" x2="43.4" y2="60" stroke="#c8a6c4" stroke-width="1.3" stroke-linecap="round"/></g></symbol>
<symbol id="wTD" viewBox="0 0 60 60" overflow="hidden"><rect width="60" height="60" fill="url(#bgDark)"/><path d="M37.2,13.2 H62.8 A6.2,6.2 0 0 1 69.0,19.4 V19.8 A6.2,6.2 0 0 1 62.8,26.0 H37.2 A6.2,6.2 0 0 1 31.0,19.8 V19.4 A6.2,6.2 0 0 1 37.2,13.2 Z M32.9,15.0 a7.3,7.3 0 1 1 14.5,0 a7.3,7.3 0 1 1 -14.5,0 Z M40.4,12.8 a8.8,8.8 0 1 1 17.6,0 a8.8,8.8 0 1 1 -17.6,0 Z M52.1,15.4 a7.0,7.0 0 1 1 14.1,0 a7.0,7.0 0 1 1 -14.1,0 Z" fill="none" stroke="#8a8c94" stroke-width="1.4"/><path d="M37.2,13.2 H62.8 A6.2,6.2 0 0 1 69.0,19.4 V19.8 A6.2,6.2 0 0 1 62.8,26.0 H37.2 A6.2,6.2 0 0 1 31.0,19.8 V19.4 A6.2,6.2 0 0 1 37.2,13.2 Z M32.9,15.0 a7.3,7.3 0 1 1 14.5,0 a7.3,7.3 0 1 1 -14.5,0 Z M40.4,12.8 a8.8,8.8 0 1 1 17.6,0 a8.8,8.8 0 1 1 -17.6,0 Z M52.1,15.4 a7.0,7.0 0 1 1 14.1,0 a7.0,7.0 0 1 1 -14.1,0 Z" fill="url(#cg)"/><path d="M2.7,11.1 H32.3 A6.7,6.7 0 0 1 39.0,17.8 V18.3 A6.7,6.7 0 0 1 32.3,25.0 H2.7 A6.7,6.7 0 0 1 -4.0,18.3 V17.8 A6.7,6.7 0 0 1 2.7,11.1 Z M-1.6,13.0 a7.9,7.9 0 1 1 15.8,0 a7.9,7.9 0 1 1 -15.8,0 Z M7.0,10.6 a9.6,9.6 0 1 1 19.2,0 a9.6,9.6 0 1 1 -19.2,0 Z M20.1,13.5 a7.7,7.7 0 1 1 15.4,0 a7.7,7.7 0 1 1 -15.4,0 Z" fill="none" stroke="#8a8c94" stroke-width="1.4"/><path d="M2.7,11.1 H32.3 A6.7,6.7 0 0 1 39.0,17.8 V18.3 A6.7,6.7 0 0 1 32.3,25.0 H2.7 A6.7,6.7 0 0 1 -4.0,18.3 V17.8 A6.7,6.7 0 0 1 2.7,11.1 Z M-1.6,13.0 a7.9,7.9 0 1 1 15.8,0 a7.9,7.9 0 1 1 -15.8,0 Z M7.0,10.6 a9.6,9.6 0 1 1 19.2,0 a9.6,9.6 0 1 1 -19.2,0 Z M20.1,13.5 a7.7,7.7 0 1 1 15.4,0 a7.7,7.7 0 1 1 -15.4,0 Z" fill="url(#cg)"/><path d="M31.0,25.0 H59.0 A6.0,6.0 0 0 1 65.0,31.0 V31.4 A6.0,6.0 0 0 1 59.0,37.4 H31.0 A6.0,6.0 0 0 1 25.0,31.4 V31.0 A6.0,6.0 0 0 1 31.0,25.0 Z M27.5,26.7 a7.1,7.1 0 1 1 14.1,0 a7.1,7.1 0 1 1 -14.1,0 Z M35.6,24.6 a8.6,8.6 0 1 1 17.1,0 a8.6,8.6 0 1 1 -17.1,0 Z M47.8,27.1 a6.8,6.8 0 1 1 13.7,0 a6.8,6.8 0 1 1 -13.7,0 Z" fill="none" stroke="#8a8c94" stroke-width="1.4"/><path d="M31.0,25.0 H59.0 A6.0,6.0 0 0 1 65.0,31.0 V31.4 A6.0,6.0 0 0 1 59.0,37.4 H31.0 A6.0,6.0 0 0 1 25.0,31.4 V31.0 A6.0,6.0 0 0 1 31.0,25.0 Z M27.5,26.7 a7.1,7.1 0 1 1 14.1,0 a7.1,7.1 0 1 1 -14.1,0 Z M35.6,24.6 a8.6,8.6 0 1 1 17.1,0 a8.6,8.6 0 1 1 -17.1,0 Z M47.8,27.1 a6.8,6.8 0 1 1 13.7,0 a6.8,6.8 0 1 1 -13.7,0 Z" fill="url(#cg)"/><path d="M1.6,20.9 H30.4 A5.6,5.6 0 0 1 36.0,26.5 V26.9 A5.6,5.6 0 0 1 30.4,32.5 H1.6 A5.6,5.6 0 0 1 -4.0,26.9 V26.5 A5.6,5.6 0 0 1 1.6,20.9 Z M-1.0,22.5 a6.6,6.6 0 1 1 13.2,0 a6.6,6.6 0 1 1 -13.2,0 Z M7.2,20.5 a8.0,8.0 0 1 1 16.0,0 a8.0,8.0 0 1 1 -16.0,0 Z M19.2,22.9 a6.4,6.4 0 1 1 12.8,0 a6.4,6.4 0 1 1 -12.8,0 Z" fill="none" stroke="#8a8c94" stroke-width="1.4"/><path d="M1.6,20.9 H30.4 A5.6,5.6 0 0 1 36.0,26.5 V26.9 A5.6,5.6 0 0 1 30.4,32.5 H1.6 A5.6,5.6 0 0 1 -4.0,26.9 V26.5 A5.6,5.6 0 0 1 1.6,20.9 Z M-1.0,22.5 a6.6,6.6 0 1 1 13.2,0 a6.6,6.6 0 1 1 -13.2,0 Z M7.2,20.5 a8.0,8.0 0 1 1 16.0,0 a8.0,8.0 0 1 1 -16.0,0 Z M19.2,22.9 a6.4,6.4 0 1 1 12.8,0 a6.4,6.4 0 1 1 -12.8,0 Z" fill="url(#cg)"/><path d="M16.8,34.5 L14.3,39.5 L12.3,45.5 L8.3,51.5 L3.3000000000000007,56.5 L0.3000000000000007,59.5 M14.3,39.5 L10.3,37.5 M13.3,42.5 L8.3,41.5 M12.3,45.5 L13.3,51.5 M19.3,42.5 L23.3,44.5 M8.3,51.5 L7.300000000000001,59.5 M5.300000000000001,54.5 L4.300000000000001,59.5 M3.3000000000000007,56.5 L2.3000000000000007,59.5 M10.3,48.5 L11.3,54.5" fill="none" stroke="#e4e6f4" stroke-width="0.8" stroke-linejoin="round" opacity="0.85"/><path d="M16.3,32.5 L18.8,37.5 L19.3,42.5 L18.8,46.5 L20.8,51.5" fill="none" stroke="#ffffff" stroke-width="1.1" stroke-linejoin="round"/><g opacity="1"><line x1="37" y1="40" x2="33.4" y2="48" stroke="#c4bce0" stroke-width="1.3" stroke-linecap="round"/><line x1="52" y1="40" x2="48.4" y2="48" stroke="#c4bce0" stroke-width="1.3" stroke-linecap="round"/><line x1="41" y1="46" x2="37.4" y2="54" stroke="#c4bce0" stroke-width="1.3" stroke-linecap="round"/><line x1="56" y1="46" x2="52.4" y2="54" stroke="#c4bce0" stroke-width="1.3" stroke-linecap="round"/><line x1="32" y1="52" x2="28.4" y2="60" stroke="#c4bce0" stroke-width="1.3" stroke-linecap="round"/><line x1="47" y1="52" x2="43.4" y2="60" stroke="#c4bce0" stroke-width="1.3" stroke-linecap="round"/></g></symbol>
<symbol id="wMC" viewBox="0 0 60 60" overflow="hidden"><rect width="60" height="60" fill="#0d0d13"/><circle cx="20" cy="22" r="16" fill="#e9e7b2"/><circle cx="14" cy="18" r="2.6" fill="#d9d7a0"/><circle cx="24" cy="16" r="3" fill="#d9d7a0"/><circle cx="18" cy="28" r="2.4" fill="#d9d7a0"/><path d="M24.2,22.2 H55.8 A6.2,6.2 0 0 1 62.0,28.4 V28.8 A6.2,6.2 0 0 1 55.8,35.0 H24.2 A6.2,6.2 0 0 1 18.0,28.8 V28.4 A6.2,6.2 0 0 1 24.2,22.2 Z M21.3,24.0 a7.3,7.3 0 1 1 14.5,0 a7.3,7.3 0 1 1 -14.5,0 Z M30.3,21.8 a8.8,8.8 0 1 1 17.6,0 a8.8,8.8 0 1 1 -17.6,0 Z M43.5,24.4 a7.0,7.0 0 1 1 14.1,0 a7.0,7.0 0 1 1 -14.1,0 Z" fill="none" stroke="#8a8c94" stroke-width="1.4"/><path d="M24.2,22.2 H55.8 A6.2,6.2 0 0 1 62.0,28.4 V28.8 A6.2,6.2 0 0 1 55.8,35.0 H24.2 A6.2,6.2 0 0 1 18.0,28.8 V28.4 A6.2,6.2 0 0 1 24.2,22.2 Z M21.3,24.0 a7.3,7.3 0 1 1 14.5,0 a7.3,7.3 0 1 1 -14.5,0 Z M30.3,21.8 a8.8,8.8 0 1 1 17.6,0 a8.8,8.8 0 1 1 -17.6,0 Z M43.5,24.4 a7.0,7.0 0 1 1 14.1,0 a7.0,7.0 0 1 1 -14.1,0 Z" fill="url(#cg)"/><path d="M30.0,30.5 H56.0 A7.0,7.0 0 0 1 63.0,37.5 V38.0 A7.0,7.0 0 0 1 56.0,45.0 H30.0 A7.0,7.0 0 0 1 23.0,38.0 V37.5 A7.0,7.0 0 0 1 30.0,30.5 Z M24.4,32.5 a8.2,8.2 0 1 1 16.5,0 a8.2,8.2 0 1 1 -16.5,0 Z M32.2,30.0 a10.0,10.0 0 1 1 20.0,0 a10.0,10.0 0 1 1 -20.0,0 Z M44.6,33.0 a8.0,8.0 0 1 1 16.0,0 a8.0,8.0 0 1 1 -16.0,0 Z" fill="none" stroke="#8a8c94" stroke-width="1.4"/><path d="M30.0,30.5 H56.0 A7.0,7.0 0 0 1 63.0,37.5 V38.0 A7.0,7.0 0 0 1 56.0,45.0 H30.0 A7.0,7.0 0 0 1 23.0,38.0 V37.5 A7.0,7.0 0 0 1 30.0,30.5 Z M24.4,32.5 a8.2,8.2 0 1 1 16.5,0 a8.2,8.2 0 1 1 -16.5,0 Z M32.2,30.0 a10.0,10.0 0 1 1 20.0,0 a10.0,10.0 0 1 1 -20.0,0 Z M44.6,33.0 a8.0,8.0 0 1 1 16.0,0 a8.0,8.0 0 1 1 -16.0,0 Z" fill="url(#cg)"/><path d="M42.6,34.4 H59.4 A5.6,5.6 0 0 1 65.0,40.0 V40.4 A5.6,5.6 0 0 1 59.4,46.0 H42.6 A5.6,5.6 0 0 1 37.0,40.4 V40.0 A5.6,5.6 0 0 1 42.6,34.4 Z M37.1,36.0 a6.6,6.6 0 1 1 13.2,0 a6.6,6.6 0 1 1 -13.2,0 Z M42.4,34.0 a8.0,8.0 0 1 1 16.0,0 a8.0,8.0 0 1 1 -16.0,0 Z M51.3,36.4 a6.4,6.4 0 1 1 12.8,0 a6.4,6.4 0 1 1 -12.8,0 Z" fill="none" stroke="#8a8c94" stroke-width="1.4"/><path d="M42.6,34.4 H59.4 A5.6,5.6 0 0 1 65.0,40.0 V40.4 A5.6,5.6 0 0 1 59.4,46.0 H42.6 A5.6,5.6 0 0 1 37.0,40.4 V40.0 A5.6,5.6 0 0 1 42.6,34.4 Z M37.1,36.0 a6.6,6.6 0 1 1 13.2,0 a6.6,6.6 0 1 1 -13.2,0 Z M42.4,34.0 a8.0,8.0 0 1 1 16.0,0 a8.0,8.0 0 1 1 -16.0,0 Z M51.3,36.4 a6.4,6.4 0 1 1 12.8,0 a6.4,6.4 0 1 1 -12.8,0 Z" fill="url(#cg)"/></symbol>
<symbol id="wMCR" viewBox="0 0 60 60" overflow="hidden"><rect width="60" height="60" fill="#0d0d13"/><circle cx="18" cy="19" r="13.5" fill="#e9e7b2"/><circle cx="12" cy="15" r="2.6" fill="#d9d7a0"/><circle cx="22" cy="13" r="3" fill="#d9d7a0"/><circle cx="16" cy="25" r="2.4" fill="#d9d7a0"/><path d="M23.6,19.4 H52.4 A5.6,5.6 0 0 1 58.0,25.0 V25.4 A5.6,5.6 0 0 1 52.4,31.0 H23.6 A5.6,5.6 0 0 1 18.0,25.4 V25.0 A5.6,5.6 0 0 1 23.6,19.4 Z M21.0,21.0 a6.6,6.6 0 1 1 13.2,0 a6.6,6.6 0 1 1 -13.2,0 Z M29.2,19.0 a8.0,8.0 0 1 1 16.0,0 a8.0,8.0 0 1 1 -16.0,0 Z M41.2,21.4 a6.4,6.4 0 1 1 12.8,0 a6.4,6.4 0 1 1 -12.8,0 Z" fill="none" stroke="#8a8c94" stroke-width="1.4"/><path d="M23.6,19.4 H52.4 A5.6,5.6 0 0 1 58.0,25.0 V25.4 A5.6,5.6 0 0 1 52.4,31.0 H23.6 A5.6,5.6 0 0 1 18.0,25.4 V25.0 A5.6,5.6 0 0 1 23.6,19.4 Z M21.0,21.0 a6.6,6.6 0 1 1 13.2,0 a6.6,6.6 0 1 1 -13.2,0 Z M29.2,19.0 a8.0,8.0 0 1 1 16.0,0 a8.0,8.0 0 1 1 -16.0,0 Z M41.2,21.4 a6.4,6.4 0 1 1 12.8,0 a6.4,6.4 0 1 1 -12.8,0 Z" fill="url(#cg)"/><path d="M20.2,26.2 H43.8 A6.2,6.2 0 0 1 50.0,32.4 V32.8 A6.2,6.2 0 0 1 43.8,39.0 H20.2 A6.2,6.2 0 0 1 14.0,32.8 V32.4 A6.2,6.2 0 0 1 20.2,26.2 Z M15.4,28.0 a7.3,7.3 0 1 1 14.5,0 a7.3,7.3 0 1 1 -14.5,0 Z M22.5,25.8 a8.8,8.8 0 1 1 17.6,0 a8.8,8.8 0 1 1 -17.6,0 Z M33.6,28.4 a7.0,7.0 0 1 1 14.1,0 a7.0,7.0 0 1 1 -14.1,0 Z" fill="none" stroke="#8a8c94" stroke-width="1.4"/><path d="M20.2,26.2 H43.8 A6.2,6.2 0 0 1 50.0,32.4 V32.8 A6.2,6.2 0 0 1 43.8,39.0 H20.2 A6.2,6.2 0 0 1 14.0,32.8 V32.4 A6.2,6.2 0 0 1 20.2,26.2 Z M15.4,28.0 a7.3,7.3 0 1 1 14.5,0 a7.3,7.3 0 1 1 -14.5,0 Z M22.5,25.8 a8.8,8.8 0 1 1 17.6,0 a8.8,8.8 0 1 1 -17.6,0 Z M33.6,28.4 a7.0,7.0 0 1 1 14.1,0 a7.0,7.0 0 1 1 -14.1,0 Z" fill="url(#cg)"/><path d="M35.0,29.6 H55.0 A5.0,5.0 0 0 1 60.0,34.6 V35.0 A5.0,5.0 0 0 1 55.0,40.0 H35.0 A5.0,5.0 0 0 1 30.0,35.0 V34.6 A5.0,5.0 0 0 1 35.0,29.6 Z M31.3,31.0 a5.9,5.9 0 1 1 11.9,0 a5.9,5.9 0 1 1 -11.9,0 Z M37.2,29.2 a7.2,7.2 0 1 1 14.4,0 a7.2,7.2 0 1 1 -14.4,0 Z M46.4,31.4 a5.8,5.8 0 1 1 11.5,0 a5.8,5.8 0 1 1 -11.5,0 Z" fill="none" stroke="#8a8c94" stroke-width="1.4"/><path d="M35.0,29.6 H55.0 A5.0,5.0 0 0 1 60.0,34.6 V35.0 A5.0,5.0 0 0 1 55.0,40.0 H35.0 A5.0,5.0 0 0 1 30.0,35.0 V34.6 A5.0,5.0 0 0 1 35.0,29.6 Z M31.3,31.0 a5.9,5.9 0 1 1 11.9,0 a5.9,5.9 0 1 1 -11.9,0 Z M37.2,29.2 a7.2,7.2 0 1 1 14.4,0 a7.2,7.2 0 1 1 -14.4,0 Z M46.4,31.4 a5.8,5.8 0 1 1 11.5,0 a5.8,5.8 0 1 1 -11.5,0 Z" fill="url(#cg)"/><line x1="21" y1="42" x2="17.4" y2="50" stroke="#8e88a8" stroke-width="1.4" stroke-linecap="round"/><line x1="36" y1="42" x2="32.4" y2="50" stroke="#8e88a8" stroke-width="1.4" stroke-linecap="round"/><line x1="51" y1="42" x2="47.4" y2="50" stroke="#8e88a8" stroke-width="1.4" stroke-linecap="round"/><line x1="26" y1="51" x2="22.4" y2="59" stroke="#8e88a8" stroke-width="1.4" stroke-linecap="round"/><line x1="41" y1="51" x2="37.4" y2="59" stroke="#8e88a8" stroke-width="1.4" stroke-linecap="round"/></symbol>
<symbol id="wS" viewBox="0 0 60 60" overflow="hidden"><rect width="60" height="60" fill="url(#bgBlue)"/><polygon points="54.5,29.5 46.2,32.8 52.6,39.0 43.7,38.9 47.2,47.0 39.1,43.5 39.2,52.4 33.0,46.0 29.7,54.3 26.4,46.0 20.2,52.4 20.3,43.5 12.2,47.0 15.7,38.9 6.8,39.0 13.2,32.8 4.9,29.5 13.2,26.2 6.8,20.0 15.7,20.1 12.2,12.0 20.3,15.5 20.2,6.6 26.4,13.0 29.7,4.7 33.0,13.0 39.2,6.6 39.1,15.5 47.2,12.0 43.7,20.1 52.6,20.0 46.2,26.2" fill="#f2cd3c"/><polygon points="48.0,30.4 45.1,32.3 47.2,35.1 43.8,36.2 45.1,39.5 41.6,39.6 42.0,43.1 38.6,42.3 38.1,45.8 34.9,44.2 33.6,47.4 31.0,45.1 28.8,47.8 26.9,44.9 24.1,47.0 23.0,43.6 19.7,44.9 19.6,41.4 16.1,41.8 16.9,38.4 13.4,37.9 15.0,34.7 11.8,33.4 14.1,30.8 11.4,28.6 14.3,26.7 12.2,23.9 15.6,22.8 14.3,19.5 17.8,19.4 17.4,15.9 20.8,16.7 21.3,13.2 24.5,14.8 25.8,11.6 28.4,13.9 30.6,11.2 32.5,14.1 35.3,12.0 36.4,15.4 39.7,14.1 39.8,17.6 43.3,17.2 42.5,20.6 46.0,21.1 44.4,24.3 47.6,25.6 45.3,28.2" fill="#ffffff"/><circle cx="29.7" cy="29.5" r="15.3" fill="url(#sung)"/></symbol>
<symbol id="wSC" viewBox="0 0 60 60" overflow="hidden"><rect width="60" height="60" fill="url(#bgBlue)"/><polygon points="53.0,30.4 44.3,33.1 49.5,40.6 40.5,39.2 42.1,48.2 34.5,43.1 32.0,51.9 27.4,44.0 21.3,50.8 20.6,41.7 12.2,45.2 15.5,36.7 6.4,36.2 13.0,30.0 5.0,25.6 13.7,22.9 8.5,15.4 17.5,16.8 15.9,7.8 23.5,12.9 26.0,4.1 30.6,12.0 36.7,5.2 37.4,14.3 45.8,10.8 42.5,19.3 51.6,19.8 45.0,26.0" fill="#f4d850" filter="url(#blur1)" opacity="0.9"/><circle cx="29" cy="28" r="15.680000000000001" fill="#fffbe6" filter="url(#blur1)"/><circle cx="29" cy="28" r="14" fill="url(#sung)"/><path d="M31.2,30.2 H58.8 A6.2,6.2 0 0 1 65.0,36.4 V36.8 A6.2,6.2 0 0 1 58.8,43.0 H31.2 A6.2,6.2 0 0 1 25.0,36.8 V36.4 A6.2,6.2 0 0 1 31.2,30.2 Z M27.3,32.0 a7.3,7.3 0 1 1 14.5,0 a7.3,7.3 0 1 1 -14.5,0 Z M35.4,29.8 a8.8,8.8 0 1 1 17.6,0 a8.8,8.8 0 1 1 -17.6,0 Z M47.6,32.4 a7.0,7.0 0 1 1 14.1,0 a7.0,7.0 0 1 1 -14.1,0 Z" fill="none" stroke="#8a8c94" stroke-width="1.4"/><path d="M31.2,30.2 H58.8 A6.2,6.2 0 0 1 65.0,36.4 V36.8 A6.2,6.2 0 0 1 58.8,43.0 H31.2 A6.2,6.2 0 0 1 25.0,36.8 V36.4 A6.2,6.2 0 0 1 31.2,30.2 Z M27.3,32.0 a7.3,7.3 0 1 1 14.5,0 a7.3,7.3 0 1 1 -14.5,0 Z M35.4,29.8 a8.8,8.8 0 1 1 17.6,0 a8.8,8.8 0 1 1 -17.6,0 Z M47.6,32.4 a7.0,7.0 0 1 1 14.1,0 a7.0,7.0 0 1 1 -14.1,0 Z" fill="url(#cg)"/><path d="M29.2,39.2 H46.8 A6.2,6.2 0 0 1 53.0,45.4 V45.8 A6.2,6.2 0 0 1 46.8,52.0 H29.2 A6.2,6.2 0 0 1 23.0,45.8 V45.4 A6.2,6.2 0 0 1 29.2,39.2 Z M22.9,41.0 a7.3,7.3 0 1 1 14.5,0 a7.3,7.3 0 1 1 -14.5,0 Z M28.6,38.8 a8.8,8.8 0 1 1 17.6,0 a8.8,8.8 0 1 1 -17.6,0 Z M38.2,41.4 a7.0,7.0 0 1 1 14.1,0 a7.0,7.0 0 1 1 -14.1,0 Z" fill="none" stroke="#8a8c94" stroke-width="1.4"/><path d="M29.2,39.2 H46.8 A6.2,6.2 0 0 1 53.0,45.4 V45.8 A6.2,6.2 0 0 1 46.8,52.0 H29.2 A6.2,6.2 0 0 1 23.0,45.8 V45.4 A6.2,6.2 0 0 1 29.2,39.2 Z M22.9,41.0 a7.3,7.3 0 1 1 14.5,0 a7.3,7.3 0 1 1 -14.5,0 Z M28.6,38.8 a8.8,8.8 0 1 1 17.6,0 a8.8,8.8 0 1 1 -17.6,0 Z M38.2,41.4 a7.0,7.0 0 1 1 14.1,0 a7.0,7.0 0 1 1 -14.1,0 Z" fill="url(#cg)"/><path d="M42.3,42.0 H59.7 A5.3,5.3 0 0 1 65.0,47.3 V47.7 A5.3,5.3 0 0 1 59.7,53.0 H42.3 A5.3,5.3 0 0 1 37.0,47.7 V47.3 A5.3,5.3 0 0 1 42.3,42.0 Z M37.4,43.5 a6.3,6.3 0 1 1 12.5,0 a6.3,6.3 0 1 1 -12.5,0 Z M42.8,41.6 a7.6,7.6 0 1 1 15.2,0 a7.6,7.6 0 1 1 -15.2,0 Z M51.6,43.9 a6.1,6.1 0 1 1 12.2,0 a6.1,6.1 0 1 1 -12.2,0 Z" fill="none" stroke="#8a8c94" stroke-width="1.4"/><path d="M42.3,42.0 H59.7 A5.3,5.3 0 0 1 65.0,47.3 V47.7 A5.3,5.3 0 0 1 59.7,53.0 H42.3 A5.3,5.3 0 0 1 37.0,47.7 V47.3 A5.3,5.3 0 0 1 42.3,42.0 Z M37.4,43.5 a6.3,6.3 0 1 1 12.5,0 a6.3,6.3 0 1 1 -12.5,0 Z M42.8,41.6 a7.6,7.6 0 1 1 15.2,0 a7.6,7.6 0 1 1 -15.2,0 Z M51.6,43.9 a6.1,6.1 0 1 1 12.2,0 a6.1,6.1 0 1 1 -12.2,0 Z" fill="url(#cg)"/></symbol>
<symbol id="wSCR" viewBox="0 0 60 60" overflow="hidden"><rect width="60" height="60" fill="url(#bgBlue)"/><polygon points="39.8,19.9 33.0,22.0 37.1,27.9 30.1,26.8 31.3,33.9 25.3,29.9 23.3,36.8 19.7,30.6 15.0,35.9 14.4,28.8 7.8,31.5 10.4,24.9 3.2,24.5 8.4,19.6 2.2,16.1 9.0,14.0 4.9,8.1 11.9,9.2 10.7,2.1 16.7,6.1 18.7,-0.8 22.3,5.4 27.0,0.1 27.6,7.2 34.2,4.5 31.6,11.1 38.8,11.5 33.6,16.4" fill="#f4d850" filter="url(#blur1)" opacity="0.9"/><circle cx="21" cy="18" r="12.32" fill="#fffbe6" filter="url(#blur1)"/><circle cx="21" cy="18" r="11" fill="url(#sung)"/><path d="M19.0,19.6 H45.0 A5.0,5.0 0 0 1 50.0,24.6 V25.0 A5.0,5.0 0 0 1 45.0,30.0 H19.0 A5.0,5.0 0 0 1 14.0,25.0 V24.6 A5.0,5.0 0 0 1 19.0,19.6 Z M16.7,21.0 a5.9,5.9 0 1 1 11.9,0 a5.9,5.9 0 1 1 -11.9,0 Z M24.1,19.2 a7.2,7.2 0 1 1 14.4,0 a7.2,7.2 0 1 1 -14.4,0 Z M34.9,21.4 a5.8,5.8 0 1 1 11.5,0 a5.8,5.8 0 1 1 -11.5,0 Z" fill="none" stroke="#8a8c94" stroke-width="1.4"/><path d="M19.0,19.6 H45.0 A5.0,5.0 0 0 1 50.0,24.6 V25.0 A5.0,5.0 0 0 1 45.0,30.0 H19.0 A5.0,5.0 0 0 1 14.0,25.0 V24.6 A5.0,5.0 0 0 1 19.0,19.6 Z M16.7,21.0 a5.9,5.9 0 1 1 11.9,0 a5.9,5.9 0 1 1 -11.9,0 Z M24.1,19.2 a7.2,7.2 0 1 1 14.4,0 a7.2,7.2 0 1 1 -14.4,0 Z M34.9,21.4 a5.8,5.8 0 1 1 11.5,0 a5.8,5.8 0 1 1 -11.5,0 Z" fill="url(#cg)"/><path d="M17.6,29.4 H36.4 A5.6,5.6 0 0 1 42.0,35.0 V35.4 A5.6,5.6 0 0 1 36.4,41.0 H17.6 A5.6,5.6 0 0 1 12.0,35.4 V35.0 A5.6,5.6 0 0 1 17.6,29.4 Z M12.6,31.0 a6.6,6.6 0 1 1 13.2,0 a6.6,6.6 0 1 1 -13.2,0 Z M18.4,29.0 a8.0,8.0 0 1 1 16.0,0 a8.0,8.0 0 1 1 -16.0,0 Z M27.8,31.4 a6.4,6.4 0 1 1 12.8,0 a6.4,6.4 0 1 1 -12.8,0 Z" fill="none" stroke="#8a8c94" stroke-width="1.4"/><path d="M17.6,29.4 H36.4 A5.6,5.6 0 0 1 42.0,35.0 V35.4 A5.6,5.6 0 0 1 36.4,41.0 H17.6 A5.6,5.6 0 0 1 12.0,35.4 V35.0 A5.6,5.6 0 0 1 17.6,29.4 Z M12.6,31.0 a6.6,6.6 0 1 1 13.2,0 a6.6,6.6 0 1 1 -13.2,0 Z M18.4,29.0 a8.0,8.0 0 1 1 16.0,0 a8.0,8.0 0 1 1 -16.0,0 Z M27.8,31.4 a6.4,6.4 0 1 1 12.8,0 a6.4,6.4 0 1 1 -12.8,0 Z" fill="url(#cg)"/><path d="M32.5,30.7 H51.5 A4.5,4.5 0 0 1 56.0,35.2 V35.5 A4.5,4.5 0 0 1 51.5,40.0 H32.5 A4.5,4.5 0 0 1 28.0,35.5 V35.2 A4.5,4.5 0 0 1 32.5,30.7 Z M29.4,32.0 a5.3,5.3 0 1 1 10.6,0 a5.3,5.3 0 1 1 -10.6,0 Z M35.0,30.4 a6.4,6.4 0 1 1 12.8,0 a6.4,6.4 0 1 1 -12.8,0 Z M43.6,32.3 a5.1,5.1 0 1 1 10.2,0 a5.1,5.1 0 1 1 -10.2,0 Z" fill="none" stroke="#8a8c94" stroke-width="1.4"/><path d="M32.5,30.7 H51.5 A4.5,4.5 0 0 1 56.0,35.2 V35.5 A4.5,4.5 0 0 1 51.5,40.0 H32.5 A4.5,4.5 0 0 1 28.0,35.5 V35.2 A4.5,4.5 0 0 1 32.5,30.7 Z M29.4,32.0 a5.3,5.3 0 1 1 10.6,0 a5.3,5.3 0 1 1 -10.6,0 Z M35.0,30.4 a6.4,6.4 0 1 1 12.8,0 a6.4,6.4 0 1 1 -12.8,0 Z M43.6,32.3 a5.1,5.1 0 1 1 10.2,0 a5.1,5.1 0 1 1 -10.2,0 Z" fill="url(#cg)"/><line x1="18" y1="42" x2="14.4" y2="50" stroke="#eef0ff" stroke-width="1.4" stroke-linecap="round"/><line x1="33" y1="42" x2="29.4" y2="50" stroke="#eef0ff" stroke-width="1.4" stroke-linecap="round"/><line x1="48" y1="42" x2="44.4" y2="50" stroke="#eef0ff" stroke-width="1.4" stroke-linecap="round"/><line x1="22" y1="50" x2="18.4" y2="58" stroke="#eef0ff" stroke-width="1.4" stroke-linecap="round"/><line x1="37" y1="50" x2="33.4" y2="58" stroke="#eef0ff" stroke-width="1.4" stroke-linecap="round"/></symbol>
</defs>
<rect x="70" y="699" width="1682" height="60" fill="#ffffff" />
<use href="#wR" x="70" y="700" width="59" height="59"/>
<use href="#wG" x="131" y="700" width="59" height="59"/>
<use href="#wTL" x="191" y="700" width="59" height="59"/>
<use href="#wTD" x="251" y="700" width="59" height="59"/>
<use href="#wTD" x="311" y="700" width="59" height="59"/>
<use href="#wG" x="371" y="700" width="59" height="59"/>
<use href="#wTL" x="431" y="700" width="59" height="59"/>
<use href="#wTD" x="491" y="700" width="59" height="59"/>
<use href="#wTD" x="551" y="700" width="59" height="59"/>
<use href="#wTL" x="611" y="700" width="59" height="59"/>
<use href="#wTL" x="671" y="700" width="59" height="59"/>
<use href="#wMC" x="731" y="700" width="59" height="59"/>
<use href="#wMC" x="791" y="700" width="59" height="59"/>
<use href="#wS" x="851" y="700" width="59" height="59"/>
<use href="#wTL" x="911" y="700" width="59" height="59"/>
<use href="#wTD" x="971" y="700" width="59" height="59"/>
<use href="#wTD" x="1032.5" y="700" width="59" height="59"/>
<use href="#wSC" x="1096" y="700" width="59" height="59"/>
<use href="#wTL" x="1156" y="700" width="59" height="59"/>
<use href="#wR" x="1216" y="700" width="59" height="59"/>
<use href="#wR" x="1276" y="700" width="59" height="59"/>
<use href="#wSCR" x="1336" y="700" width="59" height="59"/>
<use href="#wTL" x="1396" y="700" width="59" height="59"/>
<use href="#wMCR" x="1456" y="700" width="59" height="59"/>
<use href="#wMCR" x="1516" y="700" width="59" height="59"/>
<use href="#wS" x="1576" y="700" width="59" height="59"/>
<use href="#wSC" x="1636" y="700" width="59" height="59"/>
<use href="#wTD" x="1696" y="700" width="59" height="59"/>
<rect x="70" y="759" width="1682" height="1" fill="#3a5a78" />
<rect x="70" y="760" width="1682" height="27" fill="#f8f8f8" />
<text x="25" y="780" font-size="15.3" fill="#e4e4e4" textLength="220" lengthAdjust="spacingAndGlyphs">Powered by Tide-Forecast.com</text>
<rect x="253" y="767.5" width="16" height="15" fill="#e4e4e4" />
<rect x="272" y="767.5" width="16" height="15" fill="#e4e4e4" />
<rect x="291" y="767.5" width="16" height="15" fill="#e4e4e4" />
<path d="M255,781.5 C257,763.5 259,763.5 261,774.5 C263,785.5 265,785.5 267,768.5" fill="none" stroke="#f6f6f6" stroke-width="1.3"/>
<path d="M275,771.5 H284 V776.5 M281,774.5 L284,778.5 L287,774.5" fill="none" stroke="#f6f6f6" stroke-width="1.5"/>
<path d="M299,769.5 L303,780.5 H295 Z" fill="#f6f6f6"/>
<text x="365" y="780" font-size="15.3" fill="#e4e4e4" textLength="220" lengthAdjust="spacingAndGlyphs">Powered by Tide-Forecast.com</text>
<rect x="593" y="767.5" width="16" height="15" fill="#e4e4e4" />
<rect x="612" y="767.5" width="16" height="15" fill="#e4e4e4" />
<rect x="631" y="767.5" width="16" height="15" fill="#e4e4e4" />
<path d="M595,781.5 C597,763.5 599,763.5 601,774.5 C603,785.5 605,785.5 607,768.5" fill="none" stroke="#f6f6f6" stroke-width="1.3"/>
<path d="M615,771.5 H624 V776.5 M621,774.5 L624,778.5 L627,774.5" fill="none" stroke="#f6f6f6" stroke-width="1.5"/>
<path d="M639,769.5 L643,780.5 H635 Z" fill="#f6f6f6"/>
<text x="705" y="780" font-size="15.3" fill="#e4e4e4" textLength="220" lengthAdjust="spacingAndGlyphs">Powered by Tide-Forecast.com</text>
<rect x="933" y="767.5" width="16" height="15" fill="#e4e4e4" />
<rect x="952" y="767.5" width="16" height="15" fill="#e4e4e4" />
<rect x="971" y="767.5" width="16" height="15" fill="#e4e4e4" />
<path d="M935,781.5 C937,763.5 939,763.5 941,774.5 C943,785.5 945,785.5 947,768.5" fill="none" stroke="#f6f6f6" stroke-width="1.3"/>
<path d="M955,771.5 H964 V776.5 M961,774.5 L964,778.5 L967,774.5" fill="none" stroke="#f6f6f6" stroke-width="1.5"/>
<path d="M979,769.5 L983,780.5 H975 Z" fill="#f6f6f6"/>
<text x="1045" y="780" font-size="15.3" fill="#e4e4e4" textLength="220" lengthAdjust="spacingAndGlyphs">Powered by Tide-Forecast.com</text>
<rect x="1273" y="767.5" width="16" height="15" fill="#e4e4e4" />
<rect x="1292" y="767.5" width="16" height="15" fill="#e4e4e4" />
<rect x="1311" y="767.5" width="16" height="15" fill="#e4e4e4" />
<path d="M1275,781.5 C1277,763.5 1279,763.5 1281,774.5 C1283,785.5 1285,785.5 1287,768.5" fill="none" stroke="#f6f6f6" stroke-width="1.3"/>
<path d="M1295,771.5 H1304 V776.5 M1301,774.5 L1304,778.5 L1307,774.5" fill="none" stroke="#f6f6f6" stroke-width="1.5"/>
<path d="M1319,769.5 L1323,780.5 H1315 Z" fill="#f6f6f6"/>
<text x="1385" y="780" font-size="15.3" fill="#e4e4e4" textLength="220" lengthAdjust="spacingAndGlyphs">Powered by Tide-Forecast.com</text>
<rect x="1613" y="767.5" width="16" height="15" fill="#e4e4e4" />
<rect x="1632" y="767.5" width="16" height="15" fill="#e4e4e4" />
<rect x="1651" y="767.5" width="16" height="15" fill="#e4e4e4" />
<path d="M1615,781.5 C1617,763.5 1619,763.5 1621,774.5 C1623,785.5 1625,785.5 1627,768.5" fill="none" stroke="#f6f6f6" stroke-width="1.3"/>
<path d="M1635,771.5 H1644 V776.5 M1641,774.5 L1644,778.5 L1647,774.5" fill="none" stroke="#f6f6f6" stroke-width="1.5"/>
<path d="M1659,769.5 L1663,780.5 H1655 Z" fill="#f6f6f6"/>
<text x="1725" y="780" font-size="15.3" fill="#e4e4e4" textLength="220" lengthAdjust="spacingAndGlyphs">Powered by Tide-Forecast.com</text>
<rect x="1953" y="767.5" width="16" height="15" fill="#e4e4e4" />
<rect x="1972" y="767.5" width="16" height="15" fill="#e4e4e4" />
<rect x="1991" y="767.5" width="16" height="15" fill="#e4e4e4" />
<path d="M1955,781.5 C1957,763.5 1959,763.5 1961,774.5 C1963,785.5 1965,785.5 1967,768.5" fill="none" stroke="#f6f6f6" stroke-width="1.3"/>
<path d="M1975,771.5 H1984 V776.5 M1981,774.5 L1984,778.5 L1987,774.5" fill="none" stroke="#f6f6f6" stroke-width="1.5"/>
<path d="M1999,769.5 L2003,780.5 H1995 Z" fill="#f6f6f6"/>
<rect x="0" y="760" width="70" height="27" fill="#f4f4f4" />
<rect x="1668.5" y="27" width="16" height="15" fill="#e4e4e4" />
<rect x="1687.5" y="27" width="16" height="15" fill="#e4e4e4" />
<rect x="1706.5" y="27" width="16" height="15" fill="#e4e4e4" />
<path d="M1670.5,41 C1672.5,23 1674.5,23 1676.5,34 C1678.5,45 1680.5,45 1682.5,28" fill="none" stroke="#f6f6f6" stroke-width="1.3"/>
<path d="M1690.5,31 H1699.5 V36 M1696.5,34 L1699.5,38 L1702.5,34" fill="none" stroke="#f6f6f6" stroke-width="1.5"/>
<path d="M1714.5,29 L1718.5,40 H1710.5 Z" fill="#f6f6f6"/>
<line x1="69.5" y1="653" x2="69.5" y2="787" stroke="#777" stroke-width="1" />
<rect x="0" y="758.5" width="70" height="1.5" fill="#3a5a78" />
<line x1="130.5" y1="409" x2="130.5" y2="526" stroke="#000" stroke-width="1" stroke-opacity="0.07"/>
<line x1="130.5" y1="528" x2="130.5" y2="651" stroke="#000" stroke-width="1" stroke-opacity="0.07"/>
<line x1="130.5" y1="653" x2="130.5" y2="699" stroke="#000" stroke-width="1" stroke-opacity="0.07"/>
<line x1="190.5" y1="409" x2="190.5" y2="526" stroke="#000" stroke-width="1" stroke-opacity="0.07"/>
<line x1="190.5" y1="528" x2="190.5" y2="651" stroke="#000" stroke-width="1" stroke-opacity="0.07"/>
<line x1="190.5" y1="653" x2="190.5" y2="699" stroke="#000" stroke-width="1" stroke-opacity="0.07"/>
<line x1="250.5" y1="409" x2="250.5" y2="526" stroke="#000" stroke-width="1" stroke-opacity="0.07"/>
<line x1="250.5" y1="528" x2="250.5" y2="651" stroke="#000" stroke-width="1" stroke-opacity="0.07"/>
<line x1="250.5" y1="653" x2="250.5" y2="699" stroke="#000" stroke-width="1" stroke-opacity="0.07"/>
<line x1="370.5" y1="409" x2="370.5" y2="526" stroke="#000" stroke-width="1" stroke-opacity="0.07"/>
<line x1="370.5" y1="528" x2="370.5" y2="651" stroke="#000" stroke-width="1" stroke-opacity="0.07"/>
<line x1="370.5" y1="653" x2="370.5" y2="699" stroke="#000" stroke-width="1" stroke-opacity="0.07"/>
<line x1="430.5" y1="409" x2="430.5" y2="526" stroke="#000" stroke-width="1" stroke-opacity="0.07"/>
<line x1="430.5" y1="528" x2="430.5" y2="651" stroke="#000" stroke-width="1" stroke-opacity="0.07"/>
<line x1="430.5" y1="653" x2="430.5" y2="699" stroke="#000" stroke-width="1" stroke-opacity="0.07"/>
<line x1="490.5" y1="409" x2="490.5" y2="526" stroke="#000" stroke-width="1" stroke-opacity="0.07"/>
<line x1="490.5" y1="528" x2="490.5" y2="651" stroke="#000" stroke-width="1" stroke-opacity="0.07"/>
<line x1="490.5" y1="653" x2="490.5" y2="699" stroke="#000" stroke-width="1" stroke-opacity="0.07"/>
<line x1="310.5" y1="409" x2="310.5" y2="526" stroke="#808080" stroke-width="1" />
<line x1="310.5" y1="528" x2="310.5" y2="651" stroke="#808080" stroke-width="1" />
<line x1="310.5" y1="653" x2="310.5" y2="759" stroke="#808080" stroke-width="1" />
<line x1="610.5" y1="409" x2="610.5" y2="526" stroke="#000" stroke-width="1" stroke-opacity="0.07"/>
<line x1="610.5" y1="528" x2="610.5" y2="651" stroke="#000" stroke-width="1" stroke-opacity="0.07"/>
<line x1="610.5" y1="653" x2="610.5" y2="699" stroke="#000" stroke-width="1" stroke-opacity="0.07"/>
<line x1="670.5" y1="409" x2="670.5" y2="526" stroke="#000" stroke-width="1" stroke-opacity="0.07"/>
<line x1="670.5" y1="528" x2="670.5" y2="651" stroke="#000" stroke-width="1" stroke-opacity="0.07"/>
<line x1="670.5" y1="653" x2="670.5" y2="699" stroke="#000" stroke-width="1" stroke-opacity="0.07"/>
<line x1="730.5" y1="409" x2="730.5" y2="526" stroke="#000" stroke-width="1" stroke-opacity="0.07"/>
<line x1="730.5" y1="528" x2="730.5" y2="651" stroke="#000" stroke-width="1" stroke-opacity="0.07"/>
<line x1="730.5" y1="653" x2="730.5" y2="699" stroke="#000" stroke-width="1" stroke-opacity="0.07"/>
<line x1="550.5" y1="409" x2="550.5" y2="526" stroke="#808080" stroke-width="1" />
<line x1="550.5" y1="528" x2="550.5" y2="651" stroke="#808080" stroke-width="1" />
<line x1="550.5" y1="653" x2="550.5" y2="759" stroke="#808080" stroke-width="1" />
<line x1="850.5" y1="409" x2="850.5" y2="526" stroke="#000" stroke-width="1" stroke-opacity="0.07"/>
<line x1="850.5" y1="528" x2="850.5" y2="651" stroke="#000" stroke-width="1" stroke-opacity="0.07"/>
<line x1="850.5" y1="653" x2="850.5" y2="699" stroke="#000" stroke-width="1" stroke-opacity="0.07"/>
<line x1="910.5" y1="409" x2="910.5" y2="526" stroke="#000" stroke-width="1" stroke-opacity="0.07"/>
<line x1="910.5" y1="528" x2="910.5" y2="651" stroke="#000" stroke-width="1" stroke-opacity="0.07"/>
<line x1="910.5" y1="653" x2="910.5" y2="699" stroke="#000" stroke-width="1" stroke-opacity="0.07"/>
<line x1="970.5" y1="409" x2="970.5" y2="526" stroke="#000" stroke-width="1" stroke-opacity="0.07"/>
<line x1="970.5" y1="528" x2="970.5" y2="651" stroke="#000" stroke-width="1" stroke-opacity="0.07"/>
<line x1="970.5" y1="653" x2="970.5" y2="699" stroke="#000" stroke-width="1" stroke-opacity="0.07"/>
<line x1="790.5" y1="409" x2="790.5" y2="526" stroke="#808080" stroke-width="1" />
<line x1="790.5" y1="528" x2="790.5" y2="651" stroke="#808080" stroke-width="1" />
<line x1="790.5" y1="653" x2="790.5" y2="759" stroke="#808080" stroke-width="1" />
<line x1="1095.5" y1="409" x2="1095.5" y2="526" stroke="#000" stroke-width="1" stroke-opacity="0.07"/>
<line x1="1095.5" y1="528" x2="1095.5" y2="651" stroke="#000" stroke-width="1" stroke-opacity="0.07"/>
<line x1="1095.5" y1="653" x2="1095.5" y2="699" stroke="#000" stroke-width="1" stroke-opacity="0.07"/>
<line x1="1155.5" y1="409" x2="1155.5" y2="526" stroke="#000" stroke-width="1" stroke-opacity="0.07"/>
<line x1="1155.5" y1="528" x2="1155.5" y2="651" stroke="#000" stroke-width="1" stroke-opacity="0.07"/>
<line x1="1155.5" y1="653" x2="1155.5" y2="699" stroke="#000" stroke-width="1" stroke-opacity="0.07"/>
<line x1="1215.5" y1="409" x2="1215.5" y2="526" stroke="#000" stroke-width="1" stroke-opacity="0.07"/>
<line x1="1215.5" y1="528" x2="1215.5" y2="651" stroke="#000" stroke-width="1" stroke-opacity="0.07"/>
<line x1="1215.5" y1="653" x2="1215.5" y2="699" stroke="#000" stroke-width="1" stroke-opacity="0.07"/>
<line x1="1030.5" y1="409" x2="1030.5" y2="526" stroke="#808080" stroke-width="1" />
<line x1="1030.5" y1="528" x2="1030.5" y2="651" stroke="#808080" stroke-width="1" />
<line x1="1030.5" y1="653" x2="1030.5" y2="759" stroke="#808080" stroke-width="1" />
<line x1="1335.5" y1="409" x2="1335.5" y2="526" stroke="#000" stroke-width="1" stroke-opacity="0.07"/>
<line x1="1335.5" y1="528" x2="1335.5" y2="651" stroke="#000" stroke-width="1" stroke-opacity="0.07"/>
<line x1="1335.5" y1="653" x2="1335.5" y2="699" stroke="#000" stroke-width="1" stroke-opacity="0.07"/>
<line x1="1395.5" y1="409" x2="1395.5" y2="526" stroke="#000" stroke-width="1" stroke-opacity="0.07"/>
<line x1="1395.5" y1="528" x2="1395.5" y2="651" stroke="#000" stroke-width="1" stroke-opacity="0.07"/>
<line x1="1395.5" y1="653" x2="1395.5" y2="699" stroke="#000" stroke-width="1" stroke-opacity="0.07"/>
<line x1="1455.5" y1="409" x2="1455.5" y2="526" stroke="#000" stroke-width="1" stroke-opacity="0.07"/>
<line x1="1455.5" y1="528" x2="1455.5" y2="651" stroke="#000" stroke-width="1" stroke-opacity="0.07"/>
<line x1="1455.5" y1="653" x2="1455.5" y2="699" stroke="#000" stroke-width="1" stroke-opacity="0.07"/>
<line x1="1275.5" y1="409" x2="1275.5" y2="526" stroke="#808080" stroke-width="1" />
<line x1="1275.5" y1="528" x2="1275.5" y2="651" stroke="#808080" stroke-width="1" />
<line x1="1275.5" y1="653" x2="1275.5" y2="759" stroke="#808080" stroke-width="1" />
<line x1="1575.5" y1="409" x2="1575.5" y2="526" stroke="#000" stroke-width="1" stroke-opacity="0.07"/>
<line x1="1575.5" y1="528" x2="1575.5" y2="651" stroke="#000" stroke-width="1" stroke-opacity="0.07"/>
<line x1="1575.5" y1="653" x2="1575.5" y2="699" stroke="#000" stroke-width="1" stroke-opacity="0.07"/>
<line x1="1635.5" y1="409" x2="1635.5" y2="526" stroke="#000" stroke-width="1" stroke-opacity="0.07"/>
<line x1="1635.5" y1="528" x2="1635.5" y2="651" stroke="#000" stroke-width="1" stroke-opacity="0.07"/>
<line x1="1635.5" y1="653" x2="1635.5" y2="699" stroke="#000" stroke-width="1" stroke-opacity="0.07"/>
<line x1="1695.5" y1="409" x2="1695.5" y2="526" stroke="#000" stroke-width="1" stroke-opacity="0.07"/>
<line x1="1695.5" y1="528" x2="1695.5" y2="651" stroke="#000" stroke-width="1" stroke-opacity="0.07"/>
<line x1="1695.5" y1="653" x2="1695.5" y2="699" stroke="#000" stroke-width="1" stroke-opacity="0.07"/>
<line x1="1515.5" y1="409" x2="1515.5" y2="526" stroke="#808080" stroke-width="1" />
<line x1="1515.5" y1="528" x2="1515.5" y2="651" stroke="#808080" stroke-width="1" />
<line x1="1515.5" y1="653" x2="1515.5" y2="759" stroke="#808080" stroke-width="1" />
<line x1="69.5" y1="409" x2="69.5" y2="526" stroke="#6c6c6c" stroke-width="1" />
<line x1="69.5" y1="528" x2="69.5" y2="651" stroke="#6c6c6c" stroke-width="1" />
<line x1="69.5" y1="653" x2="69.5" y2="787" stroke="#6c6c6c" stroke-width="1" /></svg></body></html>
